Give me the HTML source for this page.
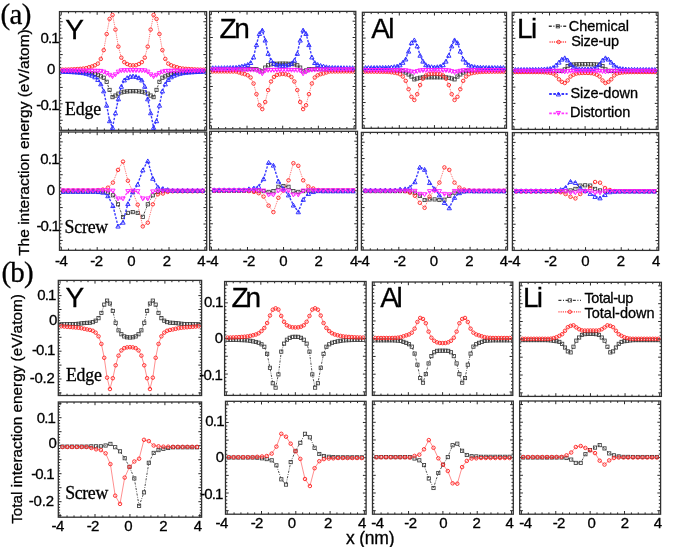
<!DOCTYPE html>
<html><head><meta charset="utf-8"><style>
html,body{margin:0;padding:0;background:#fff;}
svg{display:block;filter:blur(0.35px);}
text{fill:#000;stroke:#000;stroke-width:0.3px;}
</style></head><body>
<svg width="685" height="547" viewBox="0 0 685 547">
<rect width="685" height="547" fill="#fff"/>
<path d="M61.29,130.30v-3.2M61.29,11.60v3.2M68.47,130.30v-1.8M68.47,11.60v1.8M75.65,130.30v-1.8M75.65,11.60v1.8M82.82,130.30v-1.8M82.82,11.60v1.8M90.00,130.30v-1.8M90.00,11.60v1.8M97.17,130.30v-3.2M97.17,11.60v3.2M104.35,130.30v-1.8M104.35,11.60v1.8M111.52,130.30v-1.8M111.52,11.60v1.8M118.70,130.30v-1.8M118.70,11.60v1.8M125.87,130.30v-1.8M125.87,11.60v1.8M133.05,130.30v-3.2M133.05,11.60v3.2M140.23,130.30v-1.8M140.23,11.60v1.8M147.40,130.30v-1.8M147.40,11.60v1.8M154.58,130.30v-1.8M154.58,11.60v1.8M161.75,130.30v-1.8M161.75,11.60v1.8M168.93,130.30v-3.2M168.93,11.60v3.2M176.10,130.30v-1.8M176.10,11.60v1.8M183.28,130.30v-1.8M183.28,11.60v1.8M190.45,130.30v-1.8M190.45,11.60v1.8M197.63,130.30v-1.8M197.63,11.60v1.8M204.81,130.30v-3.2M204.81,11.60v3.2M59.50,126.84h1.8M206.60,126.84h-1.8M59.50,123.56h1.8M206.60,123.56h-1.8M59.50,120.28h3.2M206.60,120.28h-3.2M59.50,116.99h1.8M206.60,116.99h-1.8M59.50,113.70h1.8M206.60,113.70h-1.8M59.50,110.42h1.8M206.60,110.42h-1.8M59.50,107.13h1.8M206.60,107.13h-1.8M59.50,103.85h3.2M206.60,103.85h-3.2M59.50,100.56h1.8M206.60,100.56h-1.8M59.50,97.28h1.8M206.60,97.28h-1.8M59.50,94.00h1.8M206.60,94.00h-1.8M59.50,90.71h1.8M206.60,90.71h-1.8M59.50,87.42h3.2M206.60,87.42h-3.2M59.50,84.14h1.8M206.60,84.14h-1.8M59.50,80.86h1.8M206.60,80.86h-1.8M59.50,77.57h1.8M206.60,77.57h-1.8M59.50,74.28h1.8M206.60,74.28h-1.8M59.50,71.00h3.2M206.60,71.00h-3.2M59.50,67.72h1.8M206.60,67.72h-1.8M59.50,64.43h1.8M206.60,64.43h-1.8M59.50,61.14h1.8M206.60,61.14h-1.8M59.50,57.86h1.8M206.60,57.86h-1.8M59.50,54.58h3.2M206.60,54.58h-3.2M59.50,51.29h1.8M206.60,51.29h-1.8M59.50,48.00h1.8M206.60,48.00h-1.8M59.50,44.72h1.8M206.60,44.72h-1.8M59.50,41.44h1.8M206.60,41.44h-1.8M59.50,38.15h3.2M206.60,38.15h-3.2M59.50,34.87h1.8M206.60,34.87h-1.8M59.50,31.58h1.8M206.60,31.58h-1.8M59.50,28.30h1.8M206.60,28.30h-1.8M59.50,25.01h1.8M206.60,25.01h-1.8M59.50,21.73h3.2M206.60,21.73h-3.2M59.50,18.44h1.8M206.60,18.44h-1.8M59.50,15.15h1.8M206.60,15.15h-1.8" stroke="#111" stroke-width="0.9" fill="none"/>
<rect x="59.50" y="11.60" width="147.10" height="118.70" fill="none" stroke="#303030" stroke-width="1.3"/>
<path d="M211.38,128.90v-3.2M211.38,11.40v3.2M218.51,128.90v-1.8M218.51,11.40v1.8M225.65,128.90v-1.8M225.65,11.40v1.8M232.78,128.90v-1.8M232.78,11.40v1.8M239.91,128.90v-1.8M239.91,11.40v1.8M247.04,128.90v-3.2M247.04,11.40v3.2M254.17,128.90v-1.8M254.17,11.40v1.8M261.30,128.90v-1.8M261.30,11.40v1.8M268.44,128.90v-1.8M268.44,11.40v1.8M275.57,128.90v-1.8M275.57,11.40v1.8M282.70,128.90v-3.2M282.70,11.40v3.2M289.83,128.90v-1.8M289.83,11.40v1.8M296.96,128.90v-1.8M296.96,11.40v1.8M304.10,128.90v-1.8M304.10,11.40v1.8M311.23,128.90v-1.8M311.23,11.40v1.8M318.36,128.90v-3.2M318.36,11.40v3.2M325.49,128.90v-1.8M325.49,11.40v1.8M332.62,128.90v-1.8M332.62,11.40v1.8M339.75,128.90v-1.8M339.75,11.40v1.8M346.89,128.90v-1.8M346.89,11.40v1.8M354.02,128.90v-3.2M354.02,11.40v3.2M209.60,125.64h1.8M355.80,125.64h-1.8M209.60,122.37h1.8M355.80,122.37h-1.8M209.60,119.11h3.2M355.80,119.11h-3.2M209.60,115.85h1.8M355.80,115.85h-1.8M209.60,112.58h1.8M355.80,112.58h-1.8M209.60,109.32h1.8M355.80,109.32h-1.8M209.60,106.05h1.8M355.80,106.05h-1.8M209.60,102.79h3.2M355.80,102.79h-3.2M209.60,99.53h1.8M355.80,99.53h-1.8M209.60,96.26h1.8M355.80,96.26h-1.8M209.60,93.00h1.8M355.80,93.00h-1.8M209.60,89.73h1.8M355.80,89.73h-1.8M209.60,86.47h3.2M355.80,86.47h-3.2M209.60,83.21h1.8M355.80,83.21h-1.8M209.60,79.94h1.8M355.80,79.94h-1.8M209.60,76.68h1.8M355.80,76.68h-1.8M209.60,73.41h1.8M355.80,73.41h-1.8M209.60,70.15h3.2M355.80,70.15h-3.2M209.60,66.89h1.8M355.80,66.89h-1.8M209.60,63.62h1.8M355.80,63.62h-1.8M209.60,60.36h1.8M355.80,60.36h-1.8M209.60,57.09h1.8M355.80,57.09h-1.8M209.60,53.83h3.2M355.80,53.83h-3.2M209.60,50.57h1.8M355.80,50.57h-1.8M209.60,47.30h1.8M355.80,47.30h-1.8M209.60,44.04h1.8M355.80,44.04h-1.8M209.60,40.77h1.8M355.80,40.77h-1.8M209.60,37.51h3.2M355.80,37.51h-3.2M209.60,34.25h1.8M355.80,34.25h-1.8M209.60,30.98h1.8M355.80,30.98h-1.8M209.60,27.72h1.8M355.80,27.72h-1.8M209.60,24.45h1.8M355.80,24.45h-1.8M209.60,21.19h3.2M355.80,21.19h-3.2M209.60,17.93h1.8M355.80,17.93h-1.8M209.60,14.66h1.8M355.80,14.66h-1.8" stroke="#111" stroke-width="0.9" fill="none"/>
<rect x="209.60" y="11.40" width="146.20" height="117.50" fill="none" stroke="#303030" stroke-width="1.3"/>
<path d="M364.16,128.30v-3.2M364.16,12.30v3.2M371.19,128.30v-1.8M371.19,12.30v1.8M378.22,128.30v-1.8M378.22,12.30v1.8M385.25,128.30v-1.8M385.25,12.30v1.8M392.27,128.30v-1.8M392.27,12.30v1.8M399.30,128.30v-3.2M399.30,12.30v3.2M406.33,128.30v-1.8M406.33,12.30v1.8M413.36,128.30v-1.8M413.36,12.30v1.8M420.39,128.30v-1.8M420.39,12.30v1.8M427.42,128.30v-1.8M427.42,12.30v1.8M434.45,128.30v-3.2M434.45,12.30v3.2M441.48,128.30v-1.8M441.48,12.30v1.8M448.51,128.30v-1.8M448.51,12.30v1.8M455.54,128.30v-1.8M455.54,12.30v1.8M462.57,128.30v-1.8M462.57,12.30v1.8M469.60,128.30v-3.2M469.60,12.30v3.2M476.63,128.30v-1.8M476.63,12.30v1.8M483.65,128.30v-1.8M483.65,12.30v1.8M490.68,128.30v-1.8M490.68,12.30v1.8M497.71,128.30v-1.8M497.71,12.30v1.8M504.74,128.30v-3.2M504.74,12.30v3.2M362.40,125.07h1.8M506.50,125.07h-1.8M362.40,121.85h1.8M506.50,121.85h-1.8M362.40,118.63h3.2M506.50,118.63h-3.2M362.40,115.41h1.8M506.50,115.41h-1.8M362.40,112.19h1.8M506.50,112.19h-1.8M362.40,108.96h1.8M506.50,108.96h-1.8M362.40,105.74h1.8M506.50,105.74h-1.8M362.40,102.52h3.2M506.50,102.52h-3.2M362.40,99.30h1.8M506.50,99.30h-1.8M362.40,96.08h1.8M506.50,96.08h-1.8M362.40,92.85h1.8M506.50,92.85h-1.8M362.40,89.63h1.8M506.50,89.63h-1.8M362.40,86.41h3.2M506.50,86.41h-3.2M362.40,83.19h1.8M506.50,83.19h-1.8M362.40,79.97h1.8M506.50,79.97h-1.8M362.40,76.74h1.8M506.50,76.74h-1.8M362.40,73.52h1.8M506.50,73.52h-1.8M362.40,70.30h3.2M506.50,70.30h-3.2M362.40,67.08h1.8M506.50,67.08h-1.8M362.40,63.86h1.8M506.50,63.86h-1.8M362.40,60.63h1.8M506.50,60.63h-1.8M362.40,57.41h1.8M506.50,57.41h-1.8M362.40,54.19h3.2M506.50,54.19h-3.2M362.40,50.97h1.8M506.50,50.97h-1.8M362.40,47.75h1.8M506.50,47.75h-1.8M362.40,44.52h1.8M506.50,44.52h-1.8M362.40,41.30h1.8M506.50,41.30h-1.8M362.40,38.08h3.2M506.50,38.08h-3.2M362.40,34.86h1.8M506.50,34.86h-1.8M362.40,31.64h1.8M506.50,31.64h-1.8M362.40,28.41h1.8M506.50,28.41h-1.8M362.40,25.19h1.8M506.50,25.19h-1.8M362.40,21.97h3.2M506.50,21.97h-3.2M362.40,18.75h1.8M506.50,18.75h-1.8M362.40,15.53h1.8M506.50,15.53h-1.8" stroke="#111" stroke-width="0.9" fill="none"/>
<rect x="362.40" y="12.30" width="144.10" height="116.00" fill="none" stroke="#303030" stroke-width="1.3"/>
<path d="M513.98,129.40v-3.2M513.98,12.30v3.2M521.09,129.40v-1.8M521.09,12.30v1.8M528.20,129.40v-1.8M528.20,12.30v1.8M535.31,129.40v-1.8M535.31,12.30v1.8M542.43,129.40v-1.8M542.43,12.30v1.8M549.54,129.40v-3.2M549.54,12.30v3.2M556.65,129.40v-1.8M556.65,12.30v1.8M563.76,129.40v-1.8M563.76,12.30v1.8M570.88,129.40v-1.8M570.88,12.30v1.8M577.99,129.40v-1.8M577.99,12.30v1.8M585.10,129.40v-3.2M585.10,12.30v3.2M592.21,129.40v-1.8M592.21,12.30v1.8M599.32,129.40v-1.8M599.32,12.30v1.8M606.44,129.40v-1.8M606.44,12.30v1.8M613.55,129.40v-1.8M613.55,12.30v1.8M620.66,129.40v-3.2M620.66,12.30v3.2M627.77,129.40v-1.8M627.77,12.30v1.8M634.89,129.40v-1.8M634.89,12.30v1.8M642.00,129.40v-1.8M642.00,12.30v1.8M649.11,129.40v-1.8M649.11,12.30v1.8M656.22,129.40v-3.2M656.22,12.30v3.2M512.20,126.15h1.8M658.00,126.15h-1.8M512.20,122.90h1.8M658.00,122.90h-1.8M512.20,119.64h3.2M658.00,119.64h-3.2M512.20,116.39h1.8M658.00,116.39h-1.8M512.20,113.14h1.8M658.00,113.14h-1.8M512.20,109.89h1.8M658.00,109.89h-1.8M512.20,106.63h1.8M658.00,106.63h-1.8M512.20,103.38h3.2M658.00,103.38h-3.2M512.20,100.13h1.8M658.00,100.13h-1.8M512.20,96.87h1.8M658.00,96.87h-1.8M512.20,93.62h1.8M658.00,93.62h-1.8M512.20,90.37h1.8M658.00,90.37h-1.8M512.20,87.11h3.2M658.00,87.11h-3.2M512.20,83.86h1.8M658.00,83.86h-1.8M512.20,80.61h1.8M658.00,80.61h-1.8M512.20,77.36h1.8M658.00,77.36h-1.8M512.20,74.10h1.8M658.00,74.10h-1.8M512.20,70.85h3.2M658.00,70.85h-3.2M512.20,67.60h1.8M658.00,67.60h-1.8M512.20,64.34h1.8M658.00,64.34h-1.8M512.20,61.09h1.8M658.00,61.09h-1.8M512.20,57.84h1.8M658.00,57.84h-1.8M512.20,54.58h3.2M658.00,54.58h-3.2M512.20,51.33h1.8M658.00,51.33h-1.8M512.20,48.08h1.8M658.00,48.08h-1.8M512.20,44.83h1.8M658.00,44.83h-1.8M512.20,41.57h1.8M658.00,41.57h-1.8M512.20,38.32h3.2M658.00,38.32h-3.2M512.20,35.07h1.8M658.00,35.07h-1.8M512.20,31.81h1.8M658.00,31.81h-1.8M512.20,28.56h1.8M658.00,28.56h-1.8M512.20,25.31h1.8M658.00,25.31h-1.8M512.20,22.05h3.2M658.00,22.05h-3.2M512.20,18.80h1.8M658.00,18.80h-1.8M512.20,15.55h1.8M658.00,15.55h-1.8" stroke="#111" stroke-width="0.9" fill="none"/>
<rect x="512.20" y="12.30" width="145.80" height="117.10" fill="none" stroke="#303030" stroke-width="1.3"/>
<path d="M61.30,250.30v-3.2M61.30,132.00v3.2M68.48,250.30v-1.8M68.48,132.00v1.8M75.66,250.30v-1.8M75.66,132.00v1.8M82.84,250.30v-1.8M82.84,132.00v1.8M90.02,250.30v-1.8M90.02,132.00v1.8M97.20,250.30v-3.2M97.20,132.00v3.2M104.38,250.30v-1.8M104.38,132.00v1.8M111.56,250.30v-1.8M111.56,132.00v1.8M118.74,250.30v-1.8M118.74,132.00v1.8M125.92,250.30v-1.8M125.92,132.00v1.8M133.10,250.30v-3.2M133.10,132.00v3.2M140.28,250.30v-1.8M140.28,132.00v1.8M147.46,250.30v-1.8M147.46,132.00v1.8M154.64,250.30v-1.8M154.64,132.00v1.8M161.82,250.30v-1.8M161.82,132.00v1.8M169.00,250.30v-3.2M169.00,132.00v3.2M176.18,250.30v-1.8M176.18,132.00v1.8M183.36,250.30v-1.8M183.36,132.00v1.8M190.54,250.30v-1.8M190.54,132.00v1.8M197.72,250.30v-1.8M197.72,132.00v1.8M204.90,250.30v-3.2M204.90,132.00v3.2M59.50,247.01h1.8M206.70,247.01h-1.8M59.50,243.73h1.8M206.70,243.73h-1.8M59.50,240.44h3.2M206.70,240.44h-3.2M59.50,237.15h1.8M206.70,237.15h-1.8M59.50,233.87h1.8M206.70,233.87h-1.8M59.50,230.58h1.8M206.70,230.58h-1.8M59.50,227.30h1.8M206.70,227.30h-1.8M59.50,224.01h3.2M206.70,224.01h-3.2M59.50,220.72h1.8M206.70,220.72h-1.8M59.50,217.44h1.8M206.70,217.44h-1.8M59.50,214.15h1.8M206.70,214.15h-1.8M59.50,210.87h1.8M206.70,210.87h-1.8M59.50,207.58h3.2M206.70,207.58h-3.2M59.50,204.29h1.8M206.70,204.29h-1.8M59.50,201.01h1.8M206.70,201.01h-1.8M59.50,197.72h1.8M206.70,197.72h-1.8M59.50,194.44h1.8M206.70,194.44h-1.8M59.50,191.15h3.2M206.70,191.15h-3.2M59.50,187.86h1.8M206.70,187.86h-1.8M59.50,184.58h1.8M206.70,184.58h-1.8M59.50,181.29h1.8M206.70,181.29h-1.8M59.50,178.01h1.8M206.70,178.01h-1.8M59.50,174.72h3.2M206.70,174.72h-3.2M59.50,171.43h1.8M206.70,171.43h-1.8M59.50,168.15h1.8M206.70,168.15h-1.8M59.50,164.86h1.8M206.70,164.86h-1.8M59.50,161.58h1.8M206.70,161.58h-1.8M59.50,158.29h3.2M206.70,158.29h-3.2M59.50,155.00h1.8M206.70,155.00h-1.8M59.50,151.72h1.8M206.70,151.72h-1.8M59.50,148.43h1.8M206.70,148.43h-1.8M59.50,145.15h1.8M206.70,145.15h-1.8M59.50,141.86h3.2M206.70,141.86h-3.2M59.50,138.57h1.8M206.70,138.57h-1.8M59.50,135.29h1.8M206.70,135.29h-1.8" stroke="#111" stroke-width="0.9" fill="none"/>
<rect x="59.50" y="132.00" width="147.20" height="118.30" fill="none" stroke="#303030" stroke-width="1.3"/>
<path d="M211.40,250.20v-3.2M211.40,131.30v3.2M218.62,250.20v-1.8M218.62,131.30v1.8M225.83,250.20v-1.8M225.83,131.30v1.8M233.05,250.20v-1.8M233.05,131.30v1.8M240.26,250.20v-1.8M240.26,131.30v1.8M247.48,250.20v-3.2M247.48,131.30v3.2M254.69,250.20v-1.8M254.69,131.30v1.8M261.91,250.20v-1.8M261.91,131.30v1.8M269.12,250.20v-1.8M269.12,131.30v1.8M276.34,250.20v-1.8M276.34,131.30v1.8M283.55,250.20v-3.2M283.55,131.30v3.2M290.76,250.20v-1.8M290.76,131.30v1.8M297.98,250.20v-1.8M297.98,131.30v1.8M305.19,250.20v-1.8M305.19,131.30v1.8M312.41,250.20v-1.8M312.41,131.30v1.8M319.62,250.20v-3.2M319.62,131.30v3.2M326.84,250.20v-1.8M326.84,131.30v1.8M334.05,250.20v-1.8M334.05,131.30v1.8M341.27,250.20v-1.8M341.27,131.30v1.8M348.48,250.20v-1.8M348.48,131.30v1.8M355.70,250.20v-3.2M355.70,131.30v3.2M209.60,246.90h1.8M357.50,246.90h-1.8M209.60,243.60h1.8M357.50,243.60h-1.8M209.60,240.30h3.2M357.50,240.30h-3.2M209.60,236.99h1.8M357.50,236.99h-1.8M209.60,233.69h1.8M357.50,233.69h-1.8M209.60,230.39h1.8M357.50,230.39h-1.8M209.60,227.08h1.8M357.50,227.08h-1.8M209.60,223.78h3.2M357.50,223.78h-3.2M209.60,220.48h1.8M357.50,220.48h-1.8M209.60,217.17h1.8M357.50,217.17h-1.8M209.60,213.87h1.8M357.50,213.87h-1.8M209.60,210.57h1.8M357.50,210.57h-1.8M209.60,207.26h3.2M357.50,207.26h-3.2M209.60,203.96h1.8M357.50,203.96h-1.8M209.60,200.66h1.8M357.50,200.66h-1.8M209.60,197.36h1.8M357.50,197.36h-1.8M209.60,194.05h1.8M357.50,194.05h-1.8M209.60,190.75h3.2M357.50,190.75h-3.2M209.60,187.45h1.8M357.50,187.45h-1.8M209.60,184.14h1.8M357.50,184.14h-1.8M209.60,180.84h1.8M357.50,180.84h-1.8M209.60,177.54h1.8M357.50,177.54h-1.8M209.60,174.24h3.2M357.50,174.24h-3.2M209.60,170.93h1.8M357.50,170.93h-1.8M209.60,167.63h1.8M357.50,167.63h-1.8M209.60,164.33h1.8M357.50,164.33h-1.8M209.60,161.02h1.8M357.50,161.02h-1.8M209.60,157.72h3.2M357.50,157.72h-3.2M209.60,154.42h1.8M357.50,154.42h-1.8M209.60,151.11h1.8M357.50,151.11h-1.8M209.60,147.81h1.8M357.50,147.81h-1.8M209.60,144.51h1.8M357.50,144.51h-1.8M209.60,141.20h3.2M357.50,141.20h-3.2M209.60,137.90h1.8M357.50,137.90h-1.8M209.60,134.60h1.8M357.50,134.60h-1.8" stroke="#111" stroke-width="0.9" fill="none"/>
<rect x="209.60" y="131.30" width="147.90" height="118.90" fill="none" stroke="#303030" stroke-width="1.3"/>
<path d="M363.18,250.10v-3.2M363.18,132.40v3.2M370.31,250.10v-1.8M370.31,132.40v1.8M377.44,250.10v-1.8M377.44,132.40v1.8M384.56,250.10v-1.8M384.56,132.40v1.8M391.69,250.10v-1.8M391.69,132.40v1.8M398.82,250.10v-3.2M398.82,132.40v3.2M405.94,250.10v-1.8M405.94,132.40v1.8M413.07,250.10v-1.8M413.07,132.40v1.8M420.20,250.10v-1.8M420.20,132.40v1.8M427.32,250.10v-1.8M427.32,132.40v1.8M434.45,250.10v-3.2M434.45,132.40v3.2M441.58,250.10v-1.8M441.58,132.40v1.8M448.70,250.10v-1.8M448.70,132.40v1.8M455.83,250.10v-1.8M455.83,132.40v1.8M462.96,250.10v-1.8M462.96,132.40v1.8M470.08,250.10v-3.2M470.08,132.40v3.2M477.21,250.10v-1.8M477.21,132.40v1.8M484.34,250.10v-1.8M484.34,132.40v1.8M491.46,250.10v-1.8M491.46,132.40v1.8M498.59,250.10v-1.8M498.59,132.40v1.8M505.72,250.10v-3.2M505.72,132.40v3.2M361.40,246.82h1.8M507.50,246.82h-1.8M361.40,243.55h1.8M507.50,243.55h-1.8M361.40,240.28h3.2M507.50,240.28h-3.2M361.40,237.02h1.8M507.50,237.02h-1.8M361.40,233.75h1.8M507.50,233.75h-1.8M361.40,230.48h1.8M507.50,230.48h-1.8M361.40,227.21h1.8M507.50,227.21h-1.8M361.40,223.94h3.2M507.50,223.94h-3.2M361.40,220.67h1.8M507.50,220.67h-1.8M361.40,217.40h1.8M507.50,217.40h-1.8M361.40,214.13h1.8M507.50,214.13h-1.8M361.40,210.86h1.8M507.50,210.86h-1.8M361.40,207.59h3.2M507.50,207.59h-3.2M361.40,204.33h1.8M507.50,204.33h-1.8M361.40,201.06h1.8M507.50,201.06h-1.8M361.40,197.79h1.8M507.50,197.79h-1.8M361.40,194.52h1.8M507.50,194.52h-1.8M361.40,191.25h3.2M507.50,191.25h-3.2M361.40,187.98h1.8M507.50,187.98h-1.8M361.40,184.71h1.8M507.50,184.71h-1.8M361.40,181.44h1.8M507.50,181.44h-1.8M361.40,178.17h1.8M507.50,178.17h-1.8M361.40,174.91h3.2M507.50,174.91h-3.2M361.40,171.64h1.8M507.50,171.64h-1.8M361.40,168.37h1.8M507.50,168.37h-1.8M361.40,165.10h1.8M507.50,165.10h-1.8M361.40,161.83h1.8M507.50,161.83h-1.8M361.40,158.56h3.2M507.50,158.56h-3.2M361.40,155.29h1.8M507.50,155.29h-1.8M361.40,152.02h1.8M507.50,152.02h-1.8M361.40,148.75h1.8M507.50,148.75h-1.8M361.40,145.48h1.8M507.50,145.48h-1.8M361.40,142.22h3.2M507.50,142.22h-3.2M361.40,138.95h1.8M507.50,138.95h-1.8M361.40,135.68h1.8M507.50,135.68h-1.8" stroke="#111" stroke-width="0.9" fill="none"/>
<rect x="361.40" y="132.40" width="146.10" height="117.70" fill="none" stroke="#303030" stroke-width="1.3"/>
<path d="M514.18,250.40v-3.2M514.18,132.60v3.2M521.32,250.40v-1.8M521.32,132.60v1.8M528.46,250.40v-1.8M528.46,132.60v1.8M535.59,250.40v-1.8M535.59,132.60v1.8M542.73,250.40v-1.8M542.73,132.60v1.8M549.87,250.40v-3.2M549.87,132.60v3.2M557.00,250.40v-1.8M557.00,132.60v1.8M564.14,250.40v-1.8M564.14,132.60v1.8M571.28,250.40v-1.8M571.28,132.60v1.8M578.41,250.40v-1.8M578.41,132.60v1.8M585.55,250.40v-3.2M585.55,132.60v3.2M592.69,250.40v-1.8M592.69,132.60v1.8M599.82,250.40v-1.8M599.82,132.60v1.8M606.96,250.40v-1.8M606.96,132.60v1.8M614.10,250.40v-1.8M614.10,132.60v1.8M621.23,250.40v-3.2M621.23,132.60v3.2M628.37,250.40v-1.8M628.37,132.60v1.8M635.51,250.40v-1.8M635.51,132.60v1.8M642.64,250.40v-1.8M642.64,132.60v1.8M649.78,250.40v-1.8M649.78,132.60v1.8M656.92,250.40v-3.2M656.92,132.60v3.2M512.40,247.12h1.8M658.70,247.12h-1.8M512.40,243.85h1.8M658.70,243.85h-1.8M512.40,240.58h3.2M658.70,240.58h-3.2M512.40,237.31h1.8M658.70,237.31h-1.8M512.40,234.04h1.8M658.70,234.04h-1.8M512.40,230.76h1.8M658.70,230.76h-1.8M512.40,227.49h1.8M658.70,227.49h-1.8M512.40,224.22h3.2M658.70,224.22h-3.2M512.40,220.95h1.8M658.70,220.95h-1.8M512.40,217.68h1.8M658.70,217.68h-1.8M512.40,214.40h1.8M658.70,214.40h-1.8M512.40,211.13h1.8M658.70,211.13h-1.8M512.40,207.86h3.2M658.70,207.86h-3.2M512.40,204.59h1.8M658.70,204.59h-1.8M512.40,201.32h1.8M658.70,201.32h-1.8M512.40,198.04h1.8M658.70,198.04h-1.8M512.40,194.77h1.8M658.70,194.77h-1.8M512.40,191.50h3.2M658.70,191.50h-3.2M512.40,188.23h1.8M658.70,188.23h-1.8M512.40,184.96h1.8M658.70,184.96h-1.8M512.40,181.68h1.8M658.70,181.68h-1.8M512.40,178.41h1.8M658.70,178.41h-1.8M512.40,175.14h3.2M658.70,175.14h-3.2M512.40,171.87h1.8M658.70,171.87h-1.8M512.40,168.60h1.8M658.70,168.60h-1.8M512.40,165.32h1.8M658.70,165.32h-1.8M512.40,162.05h1.8M658.70,162.05h-1.8M512.40,158.78h3.2M658.70,158.78h-3.2M512.40,155.51h1.8M658.70,155.51h-1.8M512.40,152.24h1.8M658.70,152.24h-1.8M512.40,148.96h1.8M658.70,148.96h-1.8M512.40,145.69h1.8M658.70,145.69h-1.8M512.40,142.42h3.2M658.70,142.42h-3.2M512.40,139.15h1.8M658.70,139.15h-1.8M512.40,135.88h1.8M658.70,135.88h-1.8" stroke="#111" stroke-width="0.9" fill="none"/>
<rect x="512.40" y="132.60" width="146.30" height="117.80" fill="none" stroke="#303030" stroke-width="1.3"/>
<path d="M60.05,395.50v-3.2M60.05,280.40v3.2M67.04,395.50v-1.8M67.04,280.40v1.8M74.03,395.50v-1.8M74.03,280.40v1.8M81.02,395.50v-1.8M81.02,280.40v1.8M88.01,395.50v-1.8M88.01,280.40v1.8M95.00,395.50v-3.2M95.00,280.40v3.2M101.99,395.50v-1.8M101.99,280.40v1.8M108.98,395.50v-1.8M108.98,280.40v1.8M115.97,395.50v-1.8M115.97,280.40v1.8M122.96,395.50v-1.8M122.96,280.40v1.8M129.95,395.50v-3.2M129.95,280.40v3.2M136.94,395.50v-1.8M136.94,280.40v1.8M143.93,395.50v-1.8M143.93,280.40v1.8M150.92,395.50v-1.8M150.92,280.40v1.8M157.91,395.50v-1.8M157.91,280.40v1.8M164.90,395.50v-3.2M164.90,280.40v3.2M171.89,395.50v-1.8M171.89,280.40v1.8M178.88,395.50v-1.8M178.88,280.40v1.8M185.87,395.50v-1.8M185.87,280.40v1.8M192.86,395.50v-1.8M192.86,280.40v1.8M199.85,395.50v-3.2M199.85,280.40v3.2M58.30,392.90h3.2M201.60,392.90h-3.2M58.30,390.12h1.8M201.60,390.12h-1.8M58.30,387.34h1.8M201.60,387.34h-1.8M58.30,384.56h1.8M201.60,384.56h-1.8M58.30,381.78h1.8M201.60,381.78h-1.8M58.30,379.00h3.2M201.60,379.00h-3.2M58.30,376.22h1.8M201.60,376.22h-1.8M58.30,373.44h1.8M201.60,373.44h-1.8M58.30,370.66h1.8M201.60,370.66h-1.8M58.30,367.88h1.8M201.60,367.88h-1.8M58.30,365.10h3.2M201.60,365.10h-3.2M58.30,362.32h1.8M201.60,362.32h-1.8M58.30,359.54h1.8M201.60,359.54h-1.8M58.30,356.76h1.8M201.60,356.76h-1.8M58.30,353.98h1.8M201.60,353.98h-1.8M58.30,351.20h3.2M201.60,351.20h-3.2M58.30,348.42h1.8M201.60,348.42h-1.8M58.30,345.64h1.8M201.60,345.64h-1.8M58.30,342.86h1.8M201.60,342.86h-1.8M58.30,340.08h1.8M201.60,340.08h-1.8M58.30,337.30h3.2M201.60,337.30h-3.2M58.30,334.52h1.8M201.60,334.52h-1.8M58.30,331.74h1.8M201.60,331.74h-1.8M58.30,328.96h1.8M201.60,328.96h-1.8M58.30,326.18h1.8M201.60,326.18h-1.8M58.30,323.40h3.2M201.60,323.40h-3.2M58.30,320.62h1.8M201.60,320.62h-1.8M58.30,317.84h1.8M201.60,317.84h-1.8M58.30,315.06h1.8M201.60,315.06h-1.8M58.30,312.28h1.8M201.60,312.28h-1.8M58.30,309.50h3.2M201.60,309.50h-3.2M58.30,306.72h1.8M201.60,306.72h-1.8M58.30,303.94h1.8M201.60,303.94h-1.8M58.30,301.16h1.8M201.60,301.16h-1.8M58.30,298.38h1.8M201.60,298.38h-1.8M58.30,295.60h3.2M201.60,295.60h-3.2M58.30,292.82h1.8M201.60,292.82h-1.8M58.30,290.04h1.8M201.60,290.04h-1.8M58.30,287.26h1.8M201.60,287.26h-1.8M58.30,284.48h1.8M201.60,284.48h-1.8" stroke="#111" stroke-width="0.9" fill="none"/>
<rect x="58.30" y="280.40" width="143.30" height="115.10" fill="none" stroke="#303030" stroke-width="1.3"/>
<path d="M226.33,395.40v-3.2M226.33,281.50v3.2M233.23,395.40v-1.8M233.23,281.50v1.8M240.13,395.40v-1.8M240.13,281.50v1.8M247.03,395.40v-1.8M247.03,281.50v1.8M253.94,395.40v-1.8M253.94,281.50v1.8M260.84,395.40v-3.2M260.84,281.50v3.2M267.74,395.40v-1.8M267.74,281.50v1.8M274.64,395.40v-1.8M274.64,281.50v1.8M281.55,395.40v-1.8M281.55,281.50v1.8M288.45,395.40v-1.8M288.45,281.50v1.8M295.35,395.40v-3.2M295.35,281.50v3.2M302.25,395.40v-1.8M302.25,281.50v1.8M309.15,395.40v-1.8M309.15,281.50v1.8M316.06,395.40v-1.8M316.06,281.50v1.8M322.96,395.40v-1.8M322.96,281.50v1.8M329.86,395.40v-3.2M329.86,281.50v3.2M336.76,395.40v-1.8M336.76,281.50v1.8M343.67,395.40v-1.8M343.67,281.50v1.8M350.57,395.40v-1.8M350.57,281.50v1.8M357.47,395.40v-1.8M357.47,281.50v1.8M364.37,395.40v-3.2M364.37,281.50v3.2M224.60,391.85h3.2M366.10,391.85h-3.2M224.60,388.29h1.8M366.10,388.29h-1.8M224.60,384.73h1.8M366.10,384.73h-1.8M224.60,381.17h1.8M366.10,381.17h-1.8M224.60,377.61h1.8M366.10,377.61h-1.8M224.60,374.05h3.2M366.10,374.05h-3.2M224.60,370.49h1.8M366.10,370.49h-1.8M224.60,366.93h1.8M366.10,366.93h-1.8M224.60,363.37h1.8M366.10,363.37h-1.8M224.60,359.81h1.8M366.10,359.81h-1.8M224.60,356.25h3.2M366.10,356.25h-3.2M224.60,352.69h1.8M366.10,352.69h-1.8M224.60,349.13h1.8M366.10,349.13h-1.8M224.60,345.57h1.8M366.10,345.57h-1.8M224.60,342.01h1.8M366.10,342.01h-1.8M224.60,338.45h3.2M366.10,338.45h-3.2M224.60,334.89h1.8M366.10,334.89h-1.8M224.60,331.33h1.8M366.10,331.33h-1.8M224.60,327.77h1.8M366.10,327.77h-1.8M224.60,324.21h1.8M366.10,324.21h-1.8M224.60,320.65h3.2M366.10,320.65h-3.2M224.60,317.09h1.8M366.10,317.09h-1.8M224.60,313.53h1.8M366.10,313.53h-1.8M224.60,309.97h1.8M366.10,309.97h-1.8M224.60,306.41h1.8M366.10,306.41h-1.8M224.60,302.85h3.2M366.10,302.85h-3.2M224.60,299.29h1.8M366.10,299.29h-1.8M224.60,295.73h1.8M366.10,295.73h-1.8M224.60,292.17h1.8M366.10,292.17h-1.8M224.60,288.61h1.8M366.10,288.61h-1.8M224.60,285.05h3.2M366.10,285.05h-3.2" stroke="#111" stroke-width="0.9" fill="none"/>
<rect x="224.60" y="281.50" width="141.50" height="113.90" fill="none" stroke="#303030" stroke-width="1.3"/>
<path d="M374.11,395.40v-3.2M374.11,282.00v3.2M380.96,395.40v-1.8M380.96,282.00v1.8M387.81,395.40v-1.8M387.81,282.00v1.8M394.66,395.40v-1.8M394.66,282.00v1.8M401.51,395.40v-1.8M401.51,282.00v1.8M408.36,395.40v-3.2M408.36,282.00v3.2M415.20,395.40v-1.8M415.20,282.00v1.8M422.05,395.40v-1.8M422.05,282.00v1.8M428.90,395.40v-1.8M428.90,282.00v1.8M435.75,395.40v-1.8M435.75,282.00v1.8M442.60,395.40v-3.2M442.60,282.00v3.2M449.45,395.40v-1.8M449.45,282.00v1.8M456.30,395.40v-1.8M456.30,282.00v1.8M463.15,395.40v-1.8M463.15,282.00v1.8M470.00,395.40v-1.8M470.00,282.00v1.8M476.84,395.40v-3.2M476.84,282.00v3.2M483.69,395.40v-1.8M483.69,282.00v1.8M490.54,395.40v-1.8M490.54,282.00v1.8M497.39,395.40v-1.8M497.39,282.00v1.8M504.24,395.40v-1.8M504.24,282.00v1.8M511.09,395.40v-3.2M511.09,282.00v3.2M372.40,391.95h3.2M512.80,391.95h-3.2M372.40,388.40h1.8M512.80,388.40h-1.8M372.40,384.85h1.8M512.80,384.85h-1.8M372.40,381.30h1.8M512.80,381.30h-1.8M372.40,377.75h1.8M512.80,377.75h-1.8M372.40,374.20h3.2M512.80,374.20h-3.2M372.40,370.65h1.8M512.80,370.65h-1.8M372.40,367.10h1.8M512.80,367.10h-1.8M372.40,363.55h1.8M512.80,363.55h-1.8M372.40,360.00h1.8M512.80,360.00h-1.8M372.40,356.45h3.2M512.80,356.45h-3.2M372.40,352.90h1.8M512.80,352.90h-1.8M372.40,349.35h1.8M512.80,349.35h-1.8M372.40,345.80h1.8M512.80,345.80h-1.8M372.40,342.25h1.8M512.80,342.25h-1.8M372.40,338.70h3.2M512.80,338.70h-3.2M372.40,335.15h1.8M512.80,335.15h-1.8M372.40,331.60h1.8M512.80,331.60h-1.8M372.40,328.05h1.8M512.80,328.05h-1.8M372.40,324.50h1.8M512.80,324.50h-1.8M372.40,320.95h3.2M512.80,320.95h-3.2M372.40,317.40h1.8M512.80,317.40h-1.8M372.40,313.85h1.8M512.80,313.85h-1.8M372.40,310.30h1.8M512.80,310.30h-1.8M372.40,306.75h1.8M512.80,306.75h-1.8M372.40,303.20h3.2M512.80,303.20h-3.2M372.40,299.65h1.8M512.80,299.65h-1.8M372.40,296.10h1.8M512.80,296.10h-1.8M372.40,292.55h1.8M512.80,292.55h-1.8M372.40,289.00h1.8M512.80,289.00h-1.8M372.40,285.45h3.2M512.80,285.45h-3.2" stroke="#111" stroke-width="0.9" fill="none"/>
<rect x="372.40" y="282.00" width="140.40" height="113.40" fill="none" stroke="#303030" stroke-width="1.3"/>
<path d="M521.23,396.40v-3.2M521.23,282.30v3.2M528.15,396.40v-1.8M528.15,282.30v1.8M535.07,396.40v-1.8M535.07,282.30v1.8M542.00,396.40v-1.8M542.00,282.30v1.8M548.92,396.40v-1.8M548.92,282.30v1.8M555.84,396.40v-3.2M555.84,282.30v3.2M562.76,396.40v-1.8M562.76,282.30v1.8M569.68,396.40v-1.8M569.68,282.30v1.8M576.61,396.40v-1.8M576.61,282.30v1.8M583.53,396.40v-1.8M583.53,282.30v1.8M590.45,396.40v-3.2M590.45,282.30v3.2M597.37,396.40v-1.8M597.37,282.30v1.8M604.29,396.40v-1.8M604.29,282.30v1.8M611.22,396.40v-1.8M611.22,282.30v1.8M618.14,396.40v-1.8M618.14,282.30v1.8M625.06,396.40v-3.2M625.06,282.30v3.2M631.98,396.40v-1.8M631.98,282.30v1.8M638.90,396.40v-1.8M638.90,282.30v1.8M645.83,396.40v-1.8M645.83,282.30v1.8M652.75,396.40v-1.8M652.75,282.30v1.8M659.67,396.40v-3.2M659.67,282.30v3.2M519.50,392.84h3.2M661.40,392.84h-3.2M519.50,389.27h1.8M661.40,389.27h-1.8M519.50,385.71h1.8M661.40,385.71h-1.8M519.50,382.14h1.8M661.40,382.14h-1.8M519.50,378.58h1.8M661.40,378.58h-1.8M519.50,375.01h3.2M661.40,375.01h-3.2M519.50,371.44h1.8M661.40,371.44h-1.8M519.50,367.88h1.8M661.40,367.88h-1.8M519.50,364.31h1.8M661.40,364.31h-1.8M519.50,360.75h1.8M661.40,360.75h-1.8M519.50,357.18h3.2M661.40,357.18h-3.2M519.50,353.61h1.8M661.40,353.61h-1.8M519.50,350.05h1.8M661.40,350.05h-1.8M519.50,346.48h1.8M661.40,346.48h-1.8M519.50,342.92h1.8M661.40,342.92h-1.8M519.50,339.35h3.2M661.40,339.35h-3.2M519.50,335.78h1.8M661.40,335.78h-1.8M519.50,332.22h1.8M661.40,332.22h-1.8M519.50,328.65h1.8M661.40,328.65h-1.8M519.50,325.09h1.8M661.40,325.09h-1.8M519.50,321.52h3.2M661.40,321.52h-3.2M519.50,317.95h1.8M661.40,317.95h-1.8M519.50,314.39h1.8M661.40,314.39h-1.8M519.50,310.82h1.8M661.40,310.82h-1.8M519.50,307.26h1.8M661.40,307.26h-1.8M519.50,303.69h3.2M661.40,303.69h-3.2M519.50,300.12h1.8M661.40,300.12h-1.8M519.50,296.56h1.8M661.40,296.56h-1.8M519.50,292.99h1.8M661.40,292.99h-1.8M519.50,289.43h1.8M661.40,289.43h-1.8M519.50,285.86h3.2M661.40,285.86h-3.2" stroke="#111" stroke-width="0.9" fill="none"/>
<rect x="519.50" y="282.30" width="141.90" height="114.10" fill="none" stroke="#303030" stroke-width="1.3"/>
<path d="M60.05,517.20v-3.2M60.05,402.00v3.2M67.04,517.20v-1.8M67.04,402.00v1.8M74.03,517.20v-1.8M74.03,402.00v1.8M81.02,517.20v-1.8M81.02,402.00v1.8M88.01,517.20v-1.8M88.01,402.00v1.8M95.00,517.20v-3.2M95.00,402.00v3.2M101.99,517.20v-1.8M101.99,402.00v1.8M108.98,517.20v-1.8M108.98,402.00v1.8M115.97,517.20v-1.8M115.97,402.00v1.8M122.96,517.20v-1.8M122.96,402.00v1.8M129.95,517.20v-3.2M129.95,402.00v3.2M136.94,517.20v-1.8M136.94,402.00v1.8M143.93,517.20v-1.8M143.93,402.00v1.8M150.92,517.20v-1.8M150.92,402.00v1.8M157.91,517.20v-1.8M157.91,402.00v1.8M164.90,517.20v-3.2M164.90,402.00v3.2M171.89,517.20v-1.8M171.89,402.00v1.8M178.88,517.20v-1.8M178.88,402.00v1.8M185.87,517.20v-1.8M185.87,402.00v1.8M192.86,517.20v-1.8M192.86,402.00v1.8M199.85,517.20v-3.2M199.85,402.00v3.2M58.30,515.70h3.2M201.60,515.70h-3.2M58.30,512.90h1.8M201.60,512.90h-1.8M58.30,510.10h1.8M201.60,510.10h-1.8M58.30,507.30h1.8M201.60,507.30h-1.8M58.30,504.50h1.8M201.60,504.50h-1.8M58.30,501.70h3.2M201.60,501.70h-3.2M58.30,498.90h1.8M201.60,498.90h-1.8M58.30,496.10h1.8M201.60,496.10h-1.8M58.30,493.30h1.8M201.60,493.30h-1.8M58.30,490.50h1.8M201.60,490.50h-1.8M58.30,487.70h3.2M201.60,487.70h-3.2M58.30,484.90h1.8M201.60,484.90h-1.8M58.30,482.10h1.8M201.60,482.10h-1.8M58.30,479.30h1.8M201.60,479.30h-1.8M58.30,476.50h1.8M201.60,476.50h-1.8M58.30,473.70h3.2M201.60,473.70h-3.2M58.30,470.90h1.8M201.60,470.90h-1.8M58.30,468.10h1.8M201.60,468.10h-1.8M58.30,465.30h1.8M201.60,465.30h-1.8M58.30,462.50h1.8M201.60,462.50h-1.8M58.30,459.70h3.2M201.60,459.70h-3.2M58.30,456.90h1.8M201.60,456.90h-1.8M58.30,454.10h1.8M201.60,454.10h-1.8M58.30,451.30h1.8M201.60,451.30h-1.8M58.30,448.50h1.8M201.60,448.50h-1.8M58.30,445.70h3.2M201.60,445.70h-3.2M58.30,442.90h1.8M201.60,442.90h-1.8M58.30,440.10h1.8M201.60,440.10h-1.8M58.30,437.30h1.8M201.60,437.30h-1.8M58.30,434.50h1.8M201.60,434.50h-1.8M58.30,431.70h3.2M201.60,431.70h-3.2M58.30,428.90h1.8M201.60,428.90h-1.8M58.30,426.10h1.8M201.60,426.10h-1.8M58.30,423.30h1.8M201.60,423.30h-1.8M58.30,420.50h1.8M201.60,420.50h-1.8M58.30,417.70h3.2M201.60,417.70h-3.2M58.30,414.90h1.8M201.60,414.90h-1.8M58.30,412.10h1.8M201.60,412.10h-1.8M58.30,409.30h1.8M201.60,409.30h-1.8M58.30,406.50h1.8M201.60,406.50h-1.8M58.30,403.70h3.2M201.60,403.70h-3.2" stroke="#111" stroke-width="0.9" fill="none"/>
<rect x="58.30" y="402.00" width="143.30" height="115.20" fill="none" stroke="#303030" stroke-width="1.3"/>
<path d="M227.21,514.20v-3.2M227.21,401.30v3.2M234.07,514.20v-1.8M234.07,401.30v1.8M240.93,514.20v-1.8M240.93,401.30v1.8M247.79,514.20v-1.8M247.79,401.30v1.8M254.65,514.20v-1.8M254.65,401.30v1.8M261.51,514.20v-3.2M261.51,401.30v3.2M268.37,514.20v-1.8M268.37,401.30v1.8M275.22,514.20v-1.8M275.22,401.30v1.8M282.08,514.20v-1.8M282.08,401.30v1.8M288.94,514.20v-1.8M288.94,401.30v1.8M295.80,514.20v-3.2M295.80,401.30v3.2M302.66,514.20v-1.8M302.66,401.30v1.8M309.52,514.20v-1.8M309.52,401.30v1.8M316.38,514.20v-1.8M316.38,401.30v1.8M323.23,514.20v-1.8M323.23,401.30v1.8M330.09,514.20v-3.2M330.09,401.30v3.2M336.95,514.20v-1.8M336.95,401.30v1.8M343.81,514.20v-1.8M343.81,401.30v1.8M350.67,514.20v-1.8M350.67,401.30v1.8M357.53,514.20v-1.8M357.53,401.30v1.8M364.39,514.20v-3.2M364.39,401.30v3.2M225.50,510.67h3.2M366.10,510.67h-3.2M225.50,507.14h1.8M366.10,507.14h-1.8M225.50,503.61h1.8M366.10,503.61h-1.8M225.50,500.09h1.8M366.10,500.09h-1.8M225.50,496.56h1.8M366.10,496.56h-1.8M225.50,493.03h3.2M366.10,493.03h-3.2M225.50,489.50h1.8M366.10,489.50h-1.8M225.50,485.97h1.8M366.10,485.97h-1.8M225.50,482.45h1.8M366.10,482.45h-1.8M225.50,478.92h1.8M366.10,478.92h-1.8M225.50,475.39h3.2M366.10,475.39h-3.2M225.50,471.86h1.8M366.10,471.86h-1.8M225.50,468.33h1.8M366.10,468.33h-1.8M225.50,464.81h1.8M366.10,464.81h-1.8M225.50,461.28h1.8M366.10,461.28h-1.8M225.50,457.75h3.2M366.10,457.75h-3.2M225.50,454.22h1.8M366.10,454.22h-1.8M225.50,450.69h1.8M366.10,450.69h-1.8M225.50,447.17h1.8M366.10,447.17h-1.8M225.50,443.64h1.8M366.10,443.64h-1.8M225.50,440.11h3.2M366.10,440.11h-3.2M225.50,436.58h1.8M366.10,436.58h-1.8M225.50,433.05h1.8M366.10,433.05h-1.8M225.50,429.53h1.8M366.10,429.53h-1.8M225.50,426.00h1.8M366.10,426.00h-1.8M225.50,422.47h3.2M366.10,422.47h-3.2M225.50,418.94h1.8M366.10,418.94h-1.8M225.50,415.41h1.8M366.10,415.41h-1.8M225.50,411.89h1.8M366.10,411.89h-1.8M225.50,408.36h1.8M366.10,408.36h-1.8M225.50,404.83h3.2M366.10,404.83h-3.2" stroke="#111" stroke-width="0.9" fill="none"/>
<rect x="225.50" y="401.30" width="140.60" height="112.90" fill="none" stroke="#303030" stroke-width="1.3"/>
<path d="M374.22,514.20v-3.2M374.22,401.10v3.2M381.09,514.20v-1.8M381.09,401.10v1.8M387.95,514.20v-1.8M387.95,401.10v1.8M394.82,514.20v-1.8M394.82,401.10v1.8M401.69,514.20v-1.8M401.69,401.10v1.8M408.56,514.20v-3.2M408.56,401.10v3.2M415.43,514.20v-1.8M415.43,401.10v1.8M422.30,514.20v-1.8M422.30,401.10v1.8M429.16,514.20v-1.8M429.16,401.10v1.8M436.03,514.20v-1.8M436.03,401.10v1.8M442.90,514.20v-3.2M442.90,401.10v3.2M449.77,514.20v-1.8M449.77,401.10v1.8M456.64,514.20v-1.8M456.64,401.10v1.8M463.50,514.20v-1.8M463.50,401.10v1.8M470.37,514.20v-1.8M470.37,401.10v1.8M477.24,514.20v-3.2M477.24,401.10v3.2M484.11,514.20v-1.8M484.11,401.10v1.8M490.98,514.20v-1.8M490.98,401.10v1.8M497.85,514.20v-1.8M497.85,401.10v1.8M504.71,514.20v-1.8M504.71,401.10v1.8M511.58,514.20v-3.2M511.58,401.10v3.2M372.50,510.66h3.2M513.30,510.66h-3.2M372.50,507.13h1.8M513.30,507.13h-1.8M372.50,503.59h1.8M513.30,503.59h-1.8M372.50,500.06h1.8M513.30,500.06h-1.8M372.50,496.52h1.8M513.30,496.52h-1.8M372.50,492.99h3.2M513.30,492.99h-3.2M372.50,489.46h1.8M513.30,489.46h-1.8M372.50,485.92h1.8M513.30,485.92h-1.8M372.50,482.39h1.8M513.30,482.39h-1.8M372.50,478.85h1.8M513.30,478.85h-1.8M372.50,475.32h3.2M513.30,475.32h-3.2M372.50,471.79h1.8M513.30,471.79h-1.8M372.50,468.25h1.8M513.30,468.25h-1.8M372.50,464.72h1.8M513.30,464.72h-1.8M372.50,461.18h1.8M513.30,461.18h-1.8M372.50,457.65h3.2M513.30,457.65h-3.2M372.50,454.12h1.8M513.30,454.12h-1.8M372.50,450.58h1.8M513.30,450.58h-1.8M372.50,447.05h1.8M513.30,447.05h-1.8M372.50,443.51h1.8M513.30,443.51h-1.8M372.50,439.98h3.2M513.30,439.98h-3.2M372.50,436.45h1.8M513.30,436.45h-1.8M372.50,432.91h1.8M513.30,432.91h-1.8M372.50,429.38h1.8M513.30,429.38h-1.8M372.50,425.84h1.8M513.30,425.84h-1.8M372.50,422.31h3.2M513.30,422.31h-3.2M372.50,418.78h1.8M513.30,418.78h-1.8M372.50,415.24h1.8M513.30,415.24h-1.8M372.50,411.71h1.8M513.30,411.71h-1.8M372.50,408.17h1.8M513.30,408.17h-1.8M372.50,404.64h3.2M513.30,404.64h-3.2" stroke="#111" stroke-width="0.9" fill="none"/>
<rect x="372.50" y="401.10" width="140.80" height="113.10" fill="none" stroke="#303030" stroke-width="1.3"/>
<path d="M521.42,514.20v-3.2M521.42,401.00v3.2M528.29,514.20v-1.8M528.29,401.00v1.8M535.16,514.20v-1.8M535.16,401.00v1.8M542.04,514.20v-1.8M542.04,401.00v1.8M548.91,514.20v-1.8M548.91,401.00v1.8M555.78,514.20v-3.2M555.78,401.00v3.2M562.66,514.20v-1.8M562.66,401.00v1.8M569.53,514.20v-1.8M569.53,401.00v1.8M576.40,514.20v-1.8M576.40,401.00v1.8M583.28,514.20v-1.8M583.28,401.00v1.8M590.15,514.20v-3.2M590.15,401.00v3.2M597.02,514.20v-1.8M597.02,401.00v1.8M603.90,514.20v-1.8M603.90,401.00v1.8M610.77,514.20v-1.8M610.77,401.00v1.8M617.64,514.20v-1.8M617.64,401.00v1.8M624.52,514.20v-3.2M624.52,401.00v3.2M631.39,514.20v-1.8M631.39,401.00v1.8M638.26,514.20v-1.8M638.26,401.00v1.8M645.14,514.20v-1.8M645.14,401.00v1.8M652.01,514.20v-1.8M652.01,401.00v1.8M658.88,514.20v-3.2M658.88,401.00v3.2M519.70,510.66h3.2M660.60,510.66h-3.2M519.70,507.12h1.8M660.60,507.12h-1.8M519.70,503.59h1.8M660.60,503.59h-1.8M519.70,500.05h1.8M660.60,500.05h-1.8M519.70,496.51h1.8M660.60,496.51h-1.8M519.70,492.98h3.2M660.60,492.98h-3.2M519.70,489.44h1.8M660.60,489.44h-1.8M519.70,485.90h1.8M660.60,485.90h-1.8M519.70,482.36h1.8M660.60,482.36h-1.8M519.70,478.83h1.8M660.60,478.83h-1.8M519.70,475.29h3.2M660.60,475.29h-3.2M519.70,471.75h1.8M660.60,471.75h-1.8M519.70,468.21h1.8M660.60,468.21h-1.8M519.70,464.68h1.8M660.60,464.68h-1.8M519.70,461.14h1.8M660.60,461.14h-1.8M519.70,457.60h3.2M660.60,457.60h-3.2M519.70,454.06h1.8M660.60,454.06h-1.8M519.70,450.53h1.8M660.60,450.53h-1.8M519.70,446.99h1.8M660.60,446.99h-1.8M519.70,443.45h1.8M660.60,443.45h-1.8M519.70,439.91h3.2M660.60,439.91h-3.2M519.70,436.38h1.8M660.60,436.38h-1.8M519.70,432.84h1.8M660.60,432.84h-1.8M519.70,429.30h1.8M660.60,429.30h-1.8M519.70,425.76h1.8M660.60,425.76h-1.8M519.70,422.23h3.2M660.60,422.23h-3.2M519.70,418.69h1.8M660.60,418.69h-1.8M519.70,415.15h1.8M660.60,415.15h-1.8M519.70,411.61h1.8M660.60,411.61h-1.8M519.70,408.08h1.8M660.60,408.08h-1.8M519.70,404.54h3.2M660.60,404.54h-3.2" stroke="#111" stroke-width="0.9" fill="none"/>
<rect x="519.70" y="401.00" width="140.90" height="113.20" fill="none" stroke="#303030" stroke-width="1.3"/>
<polyline points="62.66,71.03 65.59,71.09 68.52,71.20 71.46,71.33 74.39,71.50 77.32,71.69 80.26,71.91 83.19,72.15 86.12,72.41 89.05,72.79 91.99,73.31 94.92,73.99 97.85,74.89 100.79,76.39 103.72,77.74 106.65,81.81 109.59,89.90 112.52,97.11 115.45,95.56 118.38,93.66 121.32,92.46 124.25,91.72 127.18,91.41 130.12,91.20 133.05,91.20 135.98,91.20 138.92,91.41 141.85,91.72 144.78,92.46 147.72,93.66 150.65,95.56 153.58,97.11 156.51,89.90 159.45,81.81 162.38,77.74 165.31,76.39 168.25,74.89 171.18,73.99 174.11,73.31 177.05,72.79 179.98,72.41 182.91,72.15 185.84,71.91 188.78,71.69 191.71,71.50 194.64,71.33 197.58,71.20 200.51,71.09 203.44,71.03" fill="none" stroke="#3a3a3a" stroke-width="0.9" stroke-dasharray="2.2,1.3,0.8,1.3"/>
<rect x="61.06" y="69.43" width="3.2" height="3.2" fill="none" stroke="#3a3a3a" stroke-width="0.85"/>
<rect x="63.99" y="69.49" width="3.2" height="3.2" fill="none" stroke="#3a3a3a" stroke-width="0.85"/>
<rect x="66.92" y="69.60" width="3.2" height="3.2" fill="none" stroke="#3a3a3a" stroke-width="0.85"/>
<rect x="69.86" y="69.73" width="3.2" height="3.2" fill="none" stroke="#3a3a3a" stroke-width="0.85"/>
<rect x="72.79" y="69.90" width="3.2" height="3.2" fill="none" stroke="#3a3a3a" stroke-width="0.85"/>
<rect x="75.72" y="70.09" width="3.2" height="3.2" fill="none" stroke="#3a3a3a" stroke-width="0.85"/>
<rect x="78.66" y="70.31" width="3.2" height="3.2" fill="none" stroke="#3a3a3a" stroke-width="0.85"/>
<rect x="81.59" y="70.55" width="3.2" height="3.2" fill="none" stroke="#3a3a3a" stroke-width="0.85"/>
<rect x="84.52" y="70.81" width="3.2" height="3.2" fill="none" stroke="#3a3a3a" stroke-width="0.85"/>
<rect x="87.45" y="71.19" width="3.2" height="3.2" fill="none" stroke="#3a3a3a" stroke-width="0.85"/>
<rect x="90.39" y="71.71" width="3.2" height="3.2" fill="none" stroke="#3a3a3a" stroke-width="0.85"/>
<rect x="93.32" y="72.39" width="3.2" height="3.2" fill="none" stroke="#3a3a3a" stroke-width="0.85"/>
<rect x="96.25" y="73.29" width="3.2" height="3.2" fill="none" stroke="#3a3a3a" stroke-width="0.85"/>
<rect x="99.19" y="74.79" width="3.2" height="3.2" fill="none" stroke="#3a3a3a" stroke-width="0.85"/>
<rect x="102.12" y="76.14" width="3.2" height="3.2" fill="none" stroke="#3a3a3a" stroke-width="0.85"/>
<rect x="105.05" y="80.21" width="3.2" height="3.2" fill="none" stroke="#3a3a3a" stroke-width="0.85"/>
<rect x="107.99" y="88.30" width="3.2" height="3.2" fill="none" stroke="#3a3a3a" stroke-width="0.85"/>
<rect x="110.92" y="95.51" width="3.2" height="3.2" fill="none" stroke="#3a3a3a" stroke-width="0.85"/>
<rect x="113.85" y="93.96" width="3.2" height="3.2" fill="none" stroke="#3a3a3a" stroke-width="0.85"/>
<rect x="116.78" y="92.06" width="3.2" height="3.2" fill="none" stroke="#3a3a3a" stroke-width="0.85"/>
<rect x="119.72" y="90.86" width="3.2" height="3.2" fill="none" stroke="#3a3a3a" stroke-width="0.85"/>
<rect x="122.65" y="90.12" width="3.2" height="3.2" fill="none" stroke="#3a3a3a" stroke-width="0.85"/>
<rect x="125.58" y="89.81" width="3.2" height="3.2" fill="none" stroke="#3a3a3a" stroke-width="0.85"/>
<rect x="128.52" y="89.60" width="3.2" height="3.2" fill="none" stroke="#3a3a3a" stroke-width="0.85"/>
<rect x="131.45" y="89.60" width="3.2" height="3.2" fill="none" stroke="#3a3a3a" stroke-width="0.85"/>
<rect x="134.38" y="89.60" width="3.2" height="3.2" fill="none" stroke="#3a3a3a" stroke-width="0.85"/>
<rect x="137.32" y="89.81" width="3.2" height="3.2" fill="none" stroke="#3a3a3a" stroke-width="0.85"/>
<rect x="140.25" y="90.12" width="3.2" height="3.2" fill="none" stroke="#3a3a3a" stroke-width="0.85"/>
<rect x="143.18" y="90.86" width="3.2" height="3.2" fill="none" stroke="#3a3a3a" stroke-width="0.85"/>
<rect x="146.12" y="92.06" width="3.2" height="3.2" fill="none" stroke="#3a3a3a" stroke-width="0.85"/>
<rect x="149.05" y="93.96" width="3.2" height="3.2" fill="none" stroke="#3a3a3a" stroke-width="0.85"/>
<rect x="151.98" y="95.51" width="3.2" height="3.2" fill="none" stroke="#3a3a3a" stroke-width="0.85"/>
<rect x="154.91" y="88.30" width="3.2" height="3.2" fill="none" stroke="#3a3a3a" stroke-width="0.85"/>
<rect x="157.85" y="80.21" width="3.2" height="3.2" fill="none" stroke="#3a3a3a" stroke-width="0.85"/>
<rect x="160.78" y="76.14" width="3.2" height="3.2" fill="none" stroke="#3a3a3a" stroke-width="0.85"/>
<rect x="163.71" y="74.79" width="3.2" height="3.2" fill="none" stroke="#3a3a3a" stroke-width="0.85"/>
<rect x="166.65" y="73.29" width="3.2" height="3.2" fill="none" stroke="#3a3a3a" stroke-width="0.85"/>
<rect x="169.58" y="72.39" width="3.2" height="3.2" fill="none" stroke="#3a3a3a" stroke-width="0.85"/>
<rect x="172.51" y="71.71" width="3.2" height="3.2" fill="none" stroke="#3a3a3a" stroke-width="0.85"/>
<rect x="175.45" y="71.19" width="3.2" height="3.2" fill="none" stroke="#3a3a3a" stroke-width="0.85"/>
<rect x="178.38" y="70.81" width="3.2" height="3.2" fill="none" stroke="#3a3a3a" stroke-width="0.85"/>
<rect x="181.31" y="70.55" width="3.2" height="3.2" fill="none" stroke="#3a3a3a" stroke-width="0.85"/>
<rect x="184.24" y="70.31" width="3.2" height="3.2" fill="none" stroke="#3a3a3a" stroke-width="0.85"/>
<rect x="187.18" y="70.09" width="3.2" height="3.2" fill="none" stroke="#3a3a3a" stroke-width="0.85"/>
<rect x="190.11" y="69.90" width="3.2" height="3.2" fill="none" stroke="#3a3a3a" stroke-width="0.85"/>
<rect x="193.04" y="69.73" width="3.2" height="3.2" fill="none" stroke="#3a3a3a" stroke-width="0.85"/>
<rect x="195.98" y="69.60" width="3.2" height="3.2" fill="none" stroke="#3a3a3a" stroke-width="0.85"/>
<rect x="198.91" y="69.49" width="3.2" height="3.2" fill="none" stroke="#3a3a3a" stroke-width="0.85"/>
<rect x="201.84" y="69.43" width="3.2" height="3.2" fill="none" stroke="#3a3a3a" stroke-width="0.85"/>
<polyline points="62.66,69.74 65.59,69.65 68.52,69.53 71.46,69.39 74.39,69.23 77.32,69.07 80.26,68.87 83.19,68.60 86.12,68.21 89.05,67.25 91.99,66.44 94.92,65.29 97.85,63.61 100.79,58.93 103.72,50.11 106.65,34.02 109.59,18.93 112.52,15.00 115.45,29.64 118.38,46.60 121.32,57.64 124.25,62.12 127.18,64.02 130.12,65.22 133.05,65.40 135.98,65.22 138.92,64.02 141.85,62.12 144.78,57.64 147.72,46.60 150.65,29.64 153.58,15.00 156.51,18.93 159.45,34.02 162.38,50.11 165.31,58.93 168.25,63.61 171.18,65.29 174.11,66.44 177.05,67.25 179.98,68.21 182.91,68.60 185.84,68.87 188.78,69.07 191.71,69.23 194.64,69.39 197.58,69.53 200.51,69.65 203.44,69.74" fill="none" stroke="#ff4a4a" stroke-width="0.8" stroke-dasharray="1,0.9"/>
<circle cx="62.66" cy="69.74" r="1.75" fill="none" stroke="#ff2a2a" stroke-width="0.95"/>
<circle cx="65.59" cy="69.65" r="1.75" fill="none" stroke="#ff2a2a" stroke-width="0.95"/>
<circle cx="68.52" cy="69.53" r="1.75" fill="none" stroke="#ff2a2a" stroke-width="0.95"/>
<circle cx="71.46" cy="69.39" r="1.75" fill="none" stroke="#ff2a2a" stroke-width="0.95"/>
<circle cx="74.39" cy="69.23" r="1.75" fill="none" stroke="#ff2a2a" stroke-width="0.95"/>
<circle cx="77.32" cy="69.07" r="1.75" fill="none" stroke="#ff2a2a" stroke-width="0.95"/>
<circle cx="80.26" cy="68.87" r="1.75" fill="none" stroke="#ff2a2a" stroke-width="0.95"/>
<circle cx="83.19" cy="68.60" r="1.75" fill="none" stroke="#ff2a2a" stroke-width="0.95"/>
<circle cx="86.12" cy="68.21" r="1.75" fill="none" stroke="#ff2a2a" stroke-width="0.95"/>
<circle cx="89.05" cy="67.25" r="1.75" fill="none" stroke="#ff2a2a" stroke-width="0.95"/>
<circle cx="91.99" cy="66.44" r="1.75" fill="none" stroke="#ff2a2a" stroke-width="0.95"/>
<circle cx="94.92" cy="65.29" r="1.75" fill="none" stroke="#ff2a2a" stroke-width="0.95"/>
<circle cx="97.85" cy="63.61" r="1.75" fill="none" stroke="#ff2a2a" stroke-width="0.95"/>
<circle cx="100.79" cy="58.93" r="1.75" fill="none" stroke="#ff2a2a" stroke-width="0.95"/>
<circle cx="103.72" cy="50.11" r="1.75" fill="none" stroke="#ff2a2a" stroke-width="0.95"/>
<circle cx="106.65" cy="34.02" r="1.75" fill="none" stroke="#ff2a2a" stroke-width="0.95"/>
<circle cx="109.59" cy="18.93" r="1.75" fill="none" stroke="#ff2a2a" stroke-width="0.95"/>
<circle cx="112.52" cy="15.00" r="1.75" fill="none" stroke="#ff2a2a" stroke-width="0.95"/>
<circle cx="115.45" cy="29.64" r="1.75" fill="none" stroke="#ff2a2a" stroke-width="0.95"/>
<circle cx="118.38" cy="46.60" r="1.75" fill="none" stroke="#ff2a2a" stroke-width="0.95"/>
<circle cx="121.32" cy="57.64" r="1.75" fill="none" stroke="#ff2a2a" stroke-width="0.95"/>
<circle cx="124.25" cy="62.12" r="1.75" fill="none" stroke="#ff2a2a" stroke-width="0.95"/>
<circle cx="127.18" cy="64.02" r="1.75" fill="none" stroke="#ff2a2a" stroke-width="0.95"/>
<circle cx="130.12" cy="65.22" r="1.75" fill="none" stroke="#ff2a2a" stroke-width="0.95"/>
<circle cx="133.05" cy="65.40" r="1.75" fill="none" stroke="#ff2a2a" stroke-width="0.95"/>
<circle cx="135.98" cy="65.22" r="1.75" fill="none" stroke="#ff2a2a" stroke-width="0.95"/>
<circle cx="138.92" cy="64.02" r="1.75" fill="none" stroke="#ff2a2a" stroke-width="0.95"/>
<circle cx="141.85" cy="62.12" r="1.75" fill="none" stroke="#ff2a2a" stroke-width="0.95"/>
<circle cx="144.78" cy="57.64" r="1.75" fill="none" stroke="#ff2a2a" stroke-width="0.95"/>
<circle cx="147.72" cy="46.60" r="1.75" fill="none" stroke="#ff2a2a" stroke-width="0.95"/>
<circle cx="150.65" cy="29.64" r="1.75" fill="none" stroke="#ff2a2a" stroke-width="0.95"/>
<circle cx="153.58" cy="15.00" r="1.75" fill="none" stroke="#ff2a2a" stroke-width="0.95"/>
<circle cx="156.51" cy="18.93" r="1.75" fill="none" stroke="#ff2a2a" stroke-width="0.95"/>
<circle cx="159.45" cy="34.02" r="1.75" fill="none" stroke="#ff2a2a" stroke-width="0.95"/>
<circle cx="162.38" cy="50.11" r="1.75" fill="none" stroke="#ff2a2a" stroke-width="0.95"/>
<circle cx="165.31" cy="58.93" r="1.75" fill="none" stroke="#ff2a2a" stroke-width="0.95"/>
<circle cx="168.25" cy="63.61" r="1.75" fill="none" stroke="#ff2a2a" stroke-width="0.95"/>
<circle cx="171.18" cy="65.29" r="1.75" fill="none" stroke="#ff2a2a" stroke-width="0.95"/>
<circle cx="174.11" cy="66.44" r="1.75" fill="none" stroke="#ff2a2a" stroke-width="0.95"/>
<circle cx="177.05" cy="67.25" r="1.75" fill="none" stroke="#ff2a2a" stroke-width="0.95"/>
<circle cx="179.98" cy="68.21" r="1.75" fill="none" stroke="#ff2a2a" stroke-width="0.95"/>
<circle cx="182.91" cy="68.60" r="1.75" fill="none" stroke="#ff2a2a" stroke-width="0.95"/>
<circle cx="185.84" cy="68.87" r="1.75" fill="none" stroke="#ff2a2a" stroke-width="0.95"/>
<circle cx="188.78" cy="69.07" r="1.75" fill="none" stroke="#ff2a2a" stroke-width="0.95"/>
<circle cx="191.71" cy="69.23" r="1.75" fill="none" stroke="#ff2a2a" stroke-width="0.95"/>
<circle cx="194.64" cy="69.39" r="1.75" fill="none" stroke="#ff2a2a" stroke-width="0.95"/>
<circle cx="197.58" cy="69.53" r="1.75" fill="none" stroke="#ff2a2a" stroke-width="0.95"/>
<circle cx="200.51" cy="69.65" r="1.75" fill="none" stroke="#ff2a2a" stroke-width="0.95"/>
<circle cx="203.44" cy="69.74" r="1.75" fill="none" stroke="#ff2a2a" stroke-width="0.95"/>
<polyline points="62.66,71.33 65.59,71.40 68.52,71.52 71.46,71.68 74.39,71.87 77.32,72.08 80.26,72.32 83.19,72.72 86.12,73.33 89.05,74.11 91.99,75.25 94.92,76.85 97.85,79.49 100.79,83.92 103.72,90.97 106.65,105.23 109.59,120.78 112.52,127.40 115.45,112.84 118.38,98.85 121.32,86.33 124.25,79.98 127.18,77.67 130.12,76.45 133.05,76.00 135.98,76.45 138.92,77.67 141.85,79.98 144.78,86.33 147.72,98.85 150.65,112.84 153.58,127.40 156.51,120.78 159.45,105.23 162.38,90.97 165.31,83.92 168.25,79.49 171.18,76.85 174.11,75.25 177.05,74.11 179.98,73.33 182.91,72.72 185.84,72.32 188.78,72.08 191.71,71.87 194.64,71.68 197.58,71.52 200.51,71.40 203.44,71.33" fill="none" stroke="#3a3aff" stroke-width="1.4" stroke-dasharray="2.4,1.4"/>
<path d="M62.66,69.38L64.81,73.28L60.51,73.28Z" fill="none" stroke="#2a2aff" stroke-width="0.95"/>
<path d="M65.59,69.45L67.74,73.35L63.44,73.35Z" fill="none" stroke="#2a2aff" stroke-width="0.95"/>
<path d="M68.52,69.57L70.67,73.47L66.37,73.47Z" fill="none" stroke="#2a2aff" stroke-width="0.95"/>
<path d="M71.46,69.73L73.61,73.63L69.31,73.63Z" fill="none" stroke="#2a2aff" stroke-width="0.95"/>
<path d="M74.39,69.92L76.54,73.82L72.24,73.82Z" fill="none" stroke="#2a2aff" stroke-width="0.95"/>
<path d="M77.32,70.13L79.47,74.03L75.17,74.03Z" fill="none" stroke="#2a2aff" stroke-width="0.95"/>
<path d="M80.26,70.37L82.41,74.27L78.11,74.27Z" fill="none" stroke="#2a2aff" stroke-width="0.95"/>
<path d="M83.19,70.77L85.34,74.67L81.04,74.67Z" fill="none" stroke="#2a2aff" stroke-width="0.95"/>
<path d="M86.12,71.38L88.27,75.28L83.97,75.28Z" fill="none" stroke="#2a2aff" stroke-width="0.95"/>
<path d="M89.05,72.16L91.20,76.06L86.90,76.06Z" fill="none" stroke="#2a2aff" stroke-width="0.95"/>
<path d="M91.99,73.30L94.14,77.20L89.84,77.20Z" fill="none" stroke="#2a2aff" stroke-width="0.95"/>
<path d="M94.92,74.90L97.07,78.80L92.77,78.80Z" fill="none" stroke="#2a2aff" stroke-width="0.95"/>
<path d="M97.85,77.54L100.00,81.44L95.70,81.44Z" fill="none" stroke="#2a2aff" stroke-width="0.95"/>
<path d="M100.79,81.97L102.94,85.87L98.64,85.87Z" fill="none" stroke="#2a2aff" stroke-width="0.95"/>
<path d="M103.72,89.02L105.87,92.92L101.57,92.92Z" fill="none" stroke="#2a2aff" stroke-width="0.95"/>
<path d="M106.65,103.28L108.80,107.18L104.50,107.18Z" fill="none" stroke="#2a2aff" stroke-width="0.95"/>
<path d="M109.59,118.83L111.74,122.73L107.44,122.73Z" fill="none" stroke="#2a2aff" stroke-width="0.95"/>
<path d="M112.52,125.45L114.67,129.35L110.37,129.35Z" fill="none" stroke="#2a2aff" stroke-width="0.95"/>
<path d="M115.45,110.89L117.60,114.79L113.30,114.79Z" fill="none" stroke="#2a2aff" stroke-width="0.95"/>
<path d="M118.38,96.90L120.53,100.80L116.23,100.80Z" fill="none" stroke="#2a2aff" stroke-width="0.95"/>
<path d="M121.32,84.38L123.47,88.28L119.17,88.28Z" fill="none" stroke="#2a2aff" stroke-width="0.95"/>
<path d="M124.25,78.03L126.40,81.93L122.10,81.93Z" fill="none" stroke="#2a2aff" stroke-width="0.95"/>
<path d="M127.18,75.72L129.33,79.62L125.03,79.62Z" fill="none" stroke="#2a2aff" stroke-width="0.95"/>
<path d="M130.12,74.50L132.27,78.40L127.97,78.40Z" fill="none" stroke="#2a2aff" stroke-width="0.95"/>
<path d="M133.05,74.05L135.20,77.95L130.90,77.95Z" fill="none" stroke="#2a2aff" stroke-width="0.95"/>
<path d="M135.98,74.50L138.13,78.40L133.83,78.40Z" fill="none" stroke="#2a2aff" stroke-width="0.95"/>
<path d="M138.92,75.72L141.07,79.62L136.77,79.62Z" fill="none" stroke="#2a2aff" stroke-width="0.95"/>
<path d="M141.85,78.03L144.00,81.93L139.70,81.93Z" fill="none" stroke="#2a2aff" stroke-width="0.95"/>
<path d="M144.78,84.38L146.93,88.28L142.63,88.28Z" fill="none" stroke="#2a2aff" stroke-width="0.95"/>
<path d="M147.72,96.90L149.87,100.80L145.57,100.80Z" fill="none" stroke="#2a2aff" stroke-width="0.95"/>
<path d="M150.65,110.89L152.80,114.79L148.50,114.79Z" fill="none" stroke="#2a2aff" stroke-width="0.95"/>
<path d="M153.58,125.45L155.73,129.35L151.43,129.35Z" fill="none" stroke="#2a2aff" stroke-width="0.95"/>
<path d="M156.51,118.83L158.66,122.73L154.36,122.73Z" fill="none" stroke="#2a2aff" stroke-width="0.95"/>
<path d="M159.45,103.28L161.60,107.18L157.30,107.18Z" fill="none" stroke="#2a2aff" stroke-width="0.95"/>
<path d="M162.38,89.02L164.53,92.92L160.23,92.92Z" fill="none" stroke="#2a2aff" stroke-width="0.95"/>
<path d="M165.31,81.97L167.46,85.87L163.16,85.87Z" fill="none" stroke="#2a2aff" stroke-width="0.95"/>
<path d="M168.25,77.54L170.40,81.44L166.10,81.44Z" fill="none" stroke="#2a2aff" stroke-width="0.95"/>
<path d="M171.18,74.90L173.33,78.80L169.03,78.80Z" fill="none" stroke="#2a2aff" stroke-width="0.95"/>
<path d="M174.11,73.30L176.26,77.20L171.96,77.20Z" fill="none" stroke="#2a2aff" stroke-width="0.95"/>
<path d="M177.05,72.16L179.20,76.06L174.90,76.06Z" fill="none" stroke="#2a2aff" stroke-width="0.95"/>
<path d="M179.98,71.38L182.13,75.28L177.83,75.28Z" fill="none" stroke="#2a2aff" stroke-width="0.95"/>
<path d="M182.91,70.77L185.06,74.67L180.76,74.67Z" fill="none" stroke="#2a2aff" stroke-width="0.95"/>
<path d="M185.84,70.37L187.99,74.27L183.69,74.27Z" fill="none" stroke="#2a2aff" stroke-width="0.95"/>
<path d="M188.78,70.13L190.93,74.03L186.63,74.03Z" fill="none" stroke="#2a2aff" stroke-width="0.95"/>
<path d="M191.71,69.92L193.86,73.82L189.56,73.82Z" fill="none" stroke="#2a2aff" stroke-width="0.95"/>
<path d="M194.64,69.73L196.79,73.63L192.49,73.63Z" fill="none" stroke="#2a2aff" stroke-width="0.95"/>
<path d="M197.58,69.57L199.73,73.47L195.43,73.47Z" fill="none" stroke="#2a2aff" stroke-width="0.95"/>
<path d="M200.51,69.45L202.66,73.35L198.36,73.35Z" fill="none" stroke="#2a2aff" stroke-width="0.95"/>
<path d="M203.44,69.38L205.59,73.28L201.29,73.28Z" fill="none" stroke="#2a2aff" stroke-width="0.95"/>
<polyline points="62.66,71.00 65.59,71.00 68.52,71.01 71.46,71.02 74.39,71.03 77.32,71.04 80.26,71.06 83.19,71.08 86.12,71.10 89.05,71.13 91.99,71.17 94.92,71.21 97.85,71.26 100.79,71.36 103.72,72.11 106.65,73.54 109.59,75.28 112.52,76.76 115.45,74.82 118.38,72.10 121.32,70.81 124.25,70.71 127.18,70.64 130.12,70.61 133.05,70.60 135.98,70.61 138.92,70.64 141.85,70.71 144.78,70.81 147.72,72.10 150.65,74.82 153.58,76.76 156.51,75.28 159.45,73.54 162.38,72.11 165.31,71.36 168.25,71.26 171.18,71.21 174.11,71.17 177.05,71.13 179.98,71.10 182.91,71.08 185.84,71.06 188.78,71.04 191.71,71.03 194.64,71.02 197.58,71.01 200.51,71.00 203.44,71.00" fill="none" stroke="#ff3aff" stroke-width="1.2" stroke-dasharray="2.4,1.4"/>
<path d="M62.66,72.95L64.81,69.05L60.51,69.05Z" fill="none" stroke="#ff1aff" stroke-width="0.95"/>
<path d="M65.59,72.95L67.74,69.05L63.44,69.05Z" fill="none" stroke="#ff1aff" stroke-width="0.95"/>
<path d="M68.52,72.96L70.67,69.06L66.37,69.06Z" fill="none" stroke="#ff1aff" stroke-width="0.95"/>
<path d="M71.46,72.97L73.61,69.07L69.31,69.07Z" fill="none" stroke="#ff1aff" stroke-width="0.95"/>
<path d="M74.39,72.98L76.54,69.08L72.24,69.08Z" fill="none" stroke="#ff1aff" stroke-width="0.95"/>
<path d="M77.32,72.99L79.47,69.09L75.17,69.09Z" fill="none" stroke="#ff1aff" stroke-width="0.95"/>
<path d="M80.26,73.01L82.41,69.11L78.11,69.11Z" fill="none" stroke="#ff1aff" stroke-width="0.95"/>
<path d="M83.19,73.03L85.34,69.13L81.04,69.13Z" fill="none" stroke="#ff1aff" stroke-width="0.95"/>
<path d="M86.12,73.05L88.27,69.15L83.97,69.15Z" fill="none" stroke="#ff1aff" stroke-width="0.95"/>
<path d="M89.05,73.08L91.20,69.18L86.90,69.18Z" fill="none" stroke="#ff1aff" stroke-width="0.95"/>
<path d="M91.99,73.12L94.14,69.22L89.84,69.22Z" fill="none" stroke="#ff1aff" stroke-width="0.95"/>
<path d="M94.92,73.16L97.07,69.26L92.77,69.26Z" fill="none" stroke="#ff1aff" stroke-width="0.95"/>
<path d="M97.85,73.21L100.00,69.31L95.70,69.31Z" fill="none" stroke="#ff1aff" stroke-width="0.95"/>
<path d="M100.79,73.31L102.94,69.41L98.64,69.41Z" fill="none" stroke="#ff1aff" stroke-width="0.95"/>
<path d="M103.72,74.06L105.87,70.16L101.57,70.16Z" fill="none" stroke="#ff1aff" stroke-width="0.95"/>
<path d="M106.65,75.49L108.80,71.59L104.50,71.59Z" fill="none" stroke="#ff1aff" stroke-width="0.95"/>
<path d="M109.59,77.23L111.74,73.33L107.44,73.33Z" fill="none" stroke="#ff1aff" stroke-width="0.95"/>
<path d="M112.52,78.71L114.67,74.81L110.37,74.81Z" fill="none" stroke="#ff1aff" stroke-width="0.95"/>
<path d="M115.45,76.77L117.60,72.87L113.30,72.87Z" fill="none" stroke="#ff1aff" stroke-width="0.95"/>
<path d="M118.38,74.05L120.53,70.15L116.23,70.15Z" fill="none" stroke="#ff1aff" stroke-width="0.95"/>
<path d="M121.32,72.76L123.47,68.86L119.17,68.86Z" fill="none" stroke="#ff1aff" stroke-width="0.95"/>
<path d="M124.25,72.66L126.40,68.76L122.10,68.76Z" fill="none" stroke="#ff1aff" stroke-width="0.95"/>
<path d="M127.18,72.59L129.33,68.69L125.03,68.69Z" fill="none" stroke="#ff1aff" stroke-width="0.95"/>
<path d="M130.12,72.56L132.27,68.66L127.97,68.66Z" fill="none" stroke="#ff1aff" stroke-width="0.95"/>
<path d="M133.05,72.55L135.20,68.65L130.90,68.65Z" fill="none" stroke="#ff1aff" stroke-width="0.95"/>
<path d="M135.98,72.56L138.13,68.66L133.83,68.66Z" fill="none" stroke="#ff1aff" stroke-width="0.95"/>
<path d="M138.92,72.59L141.07,68.69L136.77,68.69Z" fill="none" stroke="#ff1aff" stroke-width="0.95"/>
<path d="M141.85,72.66L144.00,68.76L139.70,68.76Z" fill="none" stroke="#ff1aff" stroke-width="0.95"/>
<path d="M144.78,72.76L146.93,68.86L142.63,68.86Z" fill="none" stroke="#ff1aff" stroke-width="0.95"/>
<path d="M147.72,74.05L149.87,70.15L145.57,70.15Z" fill="none" stroke="#ff1aff" stroke-width="0.95"/>
<path d="M150.65,76.77L152.80,72.87L148.50,72.87Z" fill="none" stroke="#ff1aff" stroke-width="0.95"/>
<path d="M153.58,78.71L155.73,74.81L151.43,74.81Z" fill="none" stroke="#ff1aff" stroke-width="0.95"/>
<path d="M156.51,77.23L158.66,73.33L154.36,73.33Z" fill="none" stroke="#ff1aff" stroke-width="0.95"/>
<path d="M159.45,75.49L161.60,71.59L157.30,71.59Z" fill="none" stroke="#ff1aff" stroke-width="0.95"/>
<path d="M162.38,74.06L164.53,70.16L160.23,70.16Z" fill="none" stroke="#ff1aff" stroke-width="0.95"/>
<path d="M165.31,73.31L167.46,69.41L163.16,69.41Z" fill="none" stroke="#ff1aff" stroke-width="0.95"/>
<path d="M168.25,73.21L170.40,69.31L166.10,69.31Z" fill="none" stroke="#ff1aff" stroke-width="0.95"/>
<path d="M171.18,73.16L173.33,69.26L169.03,69.26Z" fill="none" stroke="#ff1aff" stroke-width="0.95"/>
<path d="M174.11,73.12L176.26,69.22L171.96,69.22Z" fill="none" stroke="#ff1aff" stroke-width="0.95"/>
<path d="M177.05,73.08L179.20,69.18L174.90,69.18Z" fill="none" stroke="#ff1aff" stroke-width="0.95"/>
<path d="M179.98,73.05L182.13,69.15L177.83,69.15Z" fill="none" stroke="#ff1aff" stroke-width="0.95"/>
<path d="M182.91,73.03L185.06,69.13L180.76,69.13Z" fill="none" stroke="#ff1aff" stroke-width="0.95"/>
<path d="M185.84,73.01L187.99,69.11L183.69,69.11Z" fill="none" stroke="#ff1aff" stroke-width="0.95"/>
<path d="M188.78,72.99L190.93,69.09L186.63,69.09Z" fill="none" stroke="#ff1aff" stroke-width="0.95"/>
<path d="M191.71,72.98L193.86,69.08L189.56,69.08Z" fill="none" stroke="#ff1aff" stroke-width="0.95"/>
<path d="M194.64,72.97L196.79,69.07L192.49,69.07Z" fill="none" stroke="#ff1aff" stroke-width="0.95"/>
<path d="M197.58,72.96L199.73,69.06L195.43,69.06Z" fill="none" stroke="#ff1aff" stroke-width="0.95"/>
<path d="M200.51,72.95L202.66,69.05L198.36,69.05Z" fill="none" stroke="#ff1aff" stroke-width="0.95"/>
<path d="M203.44,72.95L205.59,69.05L201.29,69.05Z" fill="none" stroke="#ff1aff" stroke-width="0.95"/>
<polyline points="212.74,69.93 215.65,69.87 218.57,69.80 221.48,69.74 224.40,69.67 227.31,69.60 230.23,69.53 233.14,69.46 236.06,69.39 238.97,69.32 241.89,69.25 244.80,69.15 247.72,69.06 250.63,69.01 253.55,69.03 256.46,69.24 259.38,70.44 262.29,71.36 265.21,67.58 268.12,65.29 271.04,64.33 273.95,63.92 276.87,63.74 279.78,63.64 282.70,63.60 285.62,63.64 288.53,63.74 291.45,63.92 294.36,64.33 297.28,65.29 300.19,67.58 303.11,71.36 306.02,70.44 308.94,69.24 311.85,69.03 314.77,69.01 317.68,69.06 320.60,69.15 323.51,69.25 326.43,69.32 329.34,69.39 332.26,69.46 335.17,69.53 338.09,69.60 341.00,69.67 343.92,69.74 346.83,69.80 349.75,69.87 352.66,69.93" fill="none" stroke="#3a3a3a" stroke-width="0.9" stroke-dasharray="2.2,1.3,0.8,1.3"/>
<rect x="211.14" y="68.33" width="3.2" height="3.2" fill="none" stroke="#3a3a3a" stroke-width="0.85"/>
<rect x="214.05" y="68.27" width="3.2" height="3.2" fill="none" stroke="#3a3a3a" stroke-width="0.85"/>
<rect x="216.97" y="68.20" width="3.2" height="3.2" fill="none" stroke="#3a3a3a" stroke-width="0.85"/>
<rect x="219.88" y="68.14" width="3.2" height="3.2" fill="none" stroke="#3a3a3a" stroke-width="0.85"/>
<rect x="222.80" y="68.07" width="3.2" height="3.2" fill="none" stroke="#3a3a3a" stroke-width="0.85"/>
<rect x="225.71" y="68.00" width="3.2" height="3.2" fill="none" stroke="#3a3a3a" stroke-width="0.85"/>
<rect x="228.63" y="67.93" width="3.2" height="3.2" fill="none" stroke="#3a3a3a" stroke-width="0.85"/>
<rect x="231.54" y="67.86" width="3.2" height="3.2" fill="none" stroke="#3a3a3a" stroke-width="0.85"/>
<rect x="234.46" y="67.79" width="3.2" height="3.2" fill="none" stroke="#3a3a3a" stroke-width="0.85"/>
<rect x="237.37" y="67.72" width="3.2" height="3.2" fill="none" stroke="#3a3a3a" stroke-width="0.85"/>
<rect x="240.29" y="67.65" width="3.2" height="3.2" fill="none" stroke="#3a3a3a" stroke-width="0.85"/>
<rect x="243.20" y="67.55" width="3.2" height="3.2" fill="none" stroke="#3a3a3a" stroke-width="0.85"/>
<rect x="246.12" y="67.46" width="3.2" height="3.2" fill="none" stroke="#3a3a3a" stroke-width="0.85"/>
<rect x="249.03" y="67.41" width="3.2" height="3.2" fill="none" stroke="#3a3a3a" stroke-width="0.85"/>
<rect x="251.95" y="67.43" width="3.2" height="3.2" fill="none" stroke="#3a3a3a" stroke-width="0.85"/>
<rect x="254.86" y="67.64" width="3.2" height="3.2" fill="none" stroke="#3a3a3a" stroke-width="0.85"/>
<rect x="257.78" y="68.84" width="3.2" height="3.2" fill="none" stroke="#3a3a3a" stroke-width="0.85"/>
<rect x="260.69" y="69.76" width="3.2" height="3.2" fill="none" stroke="#3a3a3a" stroke-width="0.85"/>
<rect x="263.61" y="65.98" width="3.2" height="3.2" fill="none" stroke="#3a3a3a" stroke-width="0.85"/>
<rect x="266.52" y="63.69" width="3.2" height="3.2" fill="none" stroke="#3a3a3a" stroke-width="0.85"/>
<rect x="269.44" y="62.73" width="3.2" height="3.2" fill="none" stroke="#3a3a3a" stroke-width="0.85"/>
<rect x="272.35" y="62.32" width="3.2" height="3.2" fill="none" stroke="#3a3a3a" stroke-width="0.85"/>
<rect x="275.27" y="62.14" width="3.2" height="3.2" fill="none" stroke="#3a3a3a" stroke-width="0.85"/>
<rect x="278.18" y="62.04" width="3.2" height="3.2" fill="none" stroke="#3a3a3a" stroke-width="0.85"/>
<rect x="281.10" y="62.00" width="3.2" height="3.2" fill="none" stroke="#3a3a3a" stroke-width="0.85"/>
<rect x="284.02" y="62.04" width="3.2" height="3.2" fill="none" stroke="#3a3a3a" stroke-width="0.85"/>
<rect x="286.93" y="62.14" width="3.2" height="3.2" fill="none" stroke="#3a3a3a" stroke-width="0.85"/>
<rect x="289.85" y="62.32" width="3.2" height="3.2" fill="none" stroke="#3a3a3a" stroke-width="0.85"/>
<rect x="292.76" y="62.73" width="3.2" height="3.2" fill="none" stroke="#3a3a3a" stroke-width="0.85"/>
<rect x="295.68" y="63.69" width="3.2" height="3.2" fill="none" stroke="#3a3a3a" stroke-width="0.85"/>
<rect x="298.59" y="65.98" width="3.2" height="3.2" fill="none" stroke="#3a3a3a" stroke-width="0.85"/>
<rect x="301.51" y="69.76" width="3.2" height="3.2" fill="none" stroke="#3a3a3a" stroke-width="0.85"/>
<rect x="304.42" y="68.84" width="3.2" height="3.2" fill="none" stroke="#3a3a3a" stroke-width="0.85"/>
<rect x="307.34" y="67.64" width="3.2" height="3.2" fill="none" stroke="#3a3a3a" stroke-width="0.85"/>
<rect x="310.25" y="67.43" width="3.2" height="3.2" fill="none" stroke="#3a3a3a" stroke-width="0.85"/>
<rect x="313.17" y="67.41" width="3.2" height="3.2" fill="none" stroke="#3a3a3a" stroke-width="0.85"/>
<rect x="316.08" y="67.46" width="3.2" height="3.2" fill="none" stroke="#3a3a3a" stroke-width="0.85"/>
<rect x="319.00" y="67.55" width="3.2" height="3.2" fill="none" stroke="#3a3a3a" stroke-width="0.85"/>
<rect x="321.91" y="67.65" width="3.2" height="3.2" fill="none" stroke="#3a3a3a" stroke-width="0.85"/>
<rect x="324.83" y="67.72" width="3.2" height="3.2" fill="none" stroke="#3a3a3a" stroke-width="0.85"/>
<rect x="327.74" y="67.79" width="3.2" height="3.2" fill="none" stroke="#3a3a3a" stroke-width="0.85"/>
<rect x="330.66" y="67.86" width="3.2" height="3.2" fill="none" stroke="#3a3a3a" stroke-width="0.85"/>
<rect x="333.57" y="67.93" width="3.2" height="3.2" fill="none" stroke="#3a3a3a" stroke-width="0.85"/>
<rect x="336.49" y="68.00" width="3.2" height="3.2" fill="none" stroke="#3a3a3a" stroke-width="0.85"/>
<rect x="339.40" y="68.07" width="3.2" height="3.2" fill="none" stroke="#3a3a3a" stroke-width="0.85"/>
<rect x="342.32" y="68.14" width="3.2" height="3.2" fill="none" stroke="#3a3a3a" stroke-width="0.85"/>
<rect x="345.23" y="68.20" width="3.2" height="3.2" fill="none" stroke="#3a3a3a" stroke-width="0.85"/>
<rect x="348.15" y="68.27" width="3.2" height="3.2" fill="none" stroke="#3a3a3a" stroke-width="0.85"/>
<rect x="351.06" y="68.33" width="3.2" height="3.2" fill="none" stroke="#3a3a3a" stroke-width="0.85"/>
<polyline points="212.74,71.40 215.65,71.40 218.57,71.41 221.48,71.41 224.40,71.42 227.31,71.44 230.23,71.45 233.14,71.47 236.06,71.50 238.97,72.44 241.89,73.45 244.80,74.18 247.72,75.29 250.63,77.53 253.55,83.51 256.46,94.15 259.38,105.26 262.29,109.10 265.21,102.02 268.12,90.08 271.04,81.53 273.95,77.04 276.87,74.95 279.78,74.32 282.70,73.90 285.62,74.32 288.53,74.95 291.45,77.04 294.36,81.53 297.28,90.08 300.19,102.02 303.11,109.10 306.02,105.26 308.94,94.15 311.85,83.51 314.77,77.53 317.68,75.29 320.60,74.18 323.51,73.45 326.43,72.44 329.34,71.50 332.26,71.47 335.17,71.45 338.09,71.44 341.00,71.42 343.92,71.41 346.83,71.41 349.75,71.40 352.66,71.40" fill="none" stroke="#ff4a4a" stroke-width="0.8" stroke-dasharray="1,0.9"/>
<circle cx="212.74" cy="71.40" r="1.75" fill="none" stroke="#ff2a2a" stroke-width="0.95"/>
<circle cx="215.65" cy="71.40" r="1.75" fill="none" stroke="#ff2a2a" stroke-width="0.95"/>
<circle cx="218.57" cy="71.41" r="1.75" fill="none" stroke="#ff2a2a" stroke-width="0.95"/>
<circle cx="221.48" cy="71.41" r="1.75" fill="none" stroke="#ff2a2a" stroke-width="0.95"/>
<circle cx="224.40" cy="71.42" r="1.75" fill="none" stroke="#ff2a2a" stroke-width="0.95"/>
<circle cx="227.31" cy="71.44" r="1.75" fill="none" stroke="#ff2a2a" stroke-width="0.95"/>
<circle cx="230.23" cy="71.45" r="1.75" fill="none" stroke="#ff2a2a" stroke-width="0.95"/>
<circle cx="233.14" cy="71.47" r="1.75" fill="none" stroke="#ff2a2a" stroke-width="0.95"/>
<circle cx="236.06" cy="71.50" r="1.75" fill="none" stroke="#ff2a2a" stroke-width="0.95"/>
<circle cx="238.97" cy="72.44" r="1.75" fill="none" stroke="#ff2a2a" stroke-width="0.95"/>
<circle cx="241.89" cy="73.45" r="1.75" fill="none" stroke="#ff2a2a" stroke-width="0.95"/>
<circle cx="244.80" cy="74.18" r="1.75" fill="none" stroke="#ff2a2a" stroke-width="0.95"/>
<circle cx="247.72" cy="75.29" r="1.75" fill="none" stroke="#ff2a2a" stroke-width="0.95"/>
<circle cx="250.63" cy="77.53" r="1.75" fill="none" stroke="#ff2a2a" stroke-width="0.95"/>
<circle cx="253.55" cy="83.51" r="1.75" fill="none" stroke="#ff2a2a" stroke-width="0.95"/>
<circle cx="256.46" cy="94.15" r="1.75" fill="none" stroke="#ff2a2a" stroke-width="0.95"/>
<circle cx="259.38" cy="105.26" r="1.75" fill="none" stroke="#ff2a2a" stroke-width="0.95"/>
<circle cx="262.29" cy="109.10" r="1.75" fill="none" stroke="#ff2a2a" stroke-width="0.95"/>
<circle cx="265.21" cy="102.02" r="1.75" fill="none" stroke="#ff2a2a" stroke-width="0.95"/>
<circle cx="268.12" cy="90.08" r="1.75" fill="none" stroke="#ff2a2a" stroke-width="0.95"/>
<circle cx="271.04" cy="81.53" r="1.75" fill="none" stroke="#ff2a2a" stroke-width="0.95"/>
<circle cx="273.95" cy="77.04" r="1.75" fill="none" stroke="#ff2a2a" stroke-width="0.95"/>
<circle cx="276.87" cy="74.95" r="1.75" fill="none" stroke="#ff2a2a" stroke-width="0.95"/>
<circle cx="279.78" cy="74.32" r="1.75" fill="none" stroke="#ff2a2a" stroke-width="0.95"/>
<circle cx="282.70" cy="73.90" r="1.75" fill="none" stroke="#ff2a2a" stroke-width="0.95"/>
<circle cx="285.62" cy="74.32" r="1.75" fill="none" stroke="#ff2a2a" stroke-width="0.95"/>
<circle cx="288.53" cy="74.95" r="1.75" fill="none" stroke="#ff2a2a" stroke-width="0.95"/>
<circle cx="291.45" cy="77.04" r="1.75" fill="none" stroke="#ff2a2a" stroke-width="0.95"/>
<circle cx="294.36" cy="81.53" r="1.75" fill="none" stroke="#ff2a2a" stroke-width="0.95"/>
<circle cx="297.28" cy="90.08" r="1.75" fill="none" stroke="#ff2a2a" stroke-width="0.95"/>
<circle cx="300.19" cy="102.02" r="1.75" fill="none" stroke="#ff2a2a" stroke-width="0.95"/>
<circle cx="303.11" cy="109.10" r="1.75" fill="none" stroke="#ff2a2a" stroke-width="0.95"/>
<circle cx="306.02" cy="105.26" r="1.75" fill="none" stroke="#ff2a2a" stroke-width="0.95"/>
<circle cx="308.94" cy="94.15" r="1.75" fill="none" stroke="#ff2a2a" stroke-width="0.95"/>
<circle cx="311.85" cy="83.51" r="1.75" fill="none" stroke="#ff2a2a" stroke-width="0.95"/>
<circle cx="314.77" cy="77.53" r="1.75" fill="none" stroke="#ff2a2a" stroke-width="0.95"/>
<circle cx="317.68" cy="75.29" r="1.75" fill="none" stroke="#ff2a2a" stroke-width="0.95"/>
<circle cx="320.60" cy="74.18" r="1.75" fill="none" stroke="#ff2a2a" stroke-width="0.95"/>
<circle cx="323.51" cy="73.45" r="1.75" fill="none" stroke="#ff2a2a" stroke-width="0.95"/>
<circle cx="326.43" cy="72.44" r="1.75" fill="none" stroke="#ff2a2a" stroke-width="0.95"/>
<circle cx="329.34" cy="71.50" r="1.75" fill="none" stroke="#ff2a2a" stroke-width="0.95"/>
<circle cx="332.26" cy="71.47" r="1.75" fill="none" stroke="#ff2a2a" stroke-width="0.95"/>
<circle cx="335.17" cy="71.45" r="1.75" fill="none" stroke="#ff2a2a" stroke-width="0.95"/>
<circle cx="338.09" cy="71.44" r="1.75" fill="none" stroke="#ff2a2a" stroke-width="0.95"/>
<circle cx="341.00" cy="71.42" r="1.75" fill="none" stroke="#ff2a2a" stroke-width="0.95"/>
<circle cx="343.92" cy="71.41" r="1.75" fill="none" stroke="#ff2a2a" stroke-width="0.95"/>
<circle cx="346.83" cy="71.41" r="1.75" fill="none" stroke="#ff2a2a" stroke-width="0.95"/>
<circle cx="349.75" cy="71.40" r="1.75" fill="none" stroke="#ff2a2a" stroke-width="0.95"/>
<circle cx="352.66" cy="71.40" r="1.75" fill="none" stroke="#ff2a2a" stroke-width="0.95"/>
<polyline points="212.74,67.70 215.65,67.68 218.57,67.66 221.48,67.63 224.40,67.59 227.31,67.54 230.23,67.47 233.14,67.39 236.06,67.30 238.97,66.80 241.89,66.11 244.80,65.45 247.72,64.45 250.63,62.55 253.55,57.01 256.46,44.66 259.38,33.51 262.29,30.07 265.21,40.14 268.12,53.39 271.04,60.23 273.95,63.37 276.87,64.74 279.78,65.21 282.70,65.40 285.62,65.21 288.53,64.74 291.45,63.37 294.36,60.23 297.28,53.39 300.19,40.14 303.11,30.07 306.02,33.51 308.94,44.66 311.85,57.01 314.77,62.55 317.68,64.45 320.60,65.45 323.51,66.11 326.43,66.80 329.34,67.30 332.26,67.39 335.17,67.47 338.09,67.54 341.00,67.59 343.92,67.63 346.83,67.66 349.75,67.68 352.66,67.70" fill="none" stroke="#3a3aff" stroke-width="1.4" stroke-dasharray="2.4,1.4"/>
<path d="M212.74,65.75L214.89,69.65L210.59,69.65Z" fill="none" stroke="#2a2aff" stroke-width="0.95"/>
<path d="M215.65,65.73L217.80,69.63L213.50,69.63Z" fill="none" stroke="#2a2aff" stroke-width="0.95"/>
<path d="M218.57,65.71L220.72,69.61L216.42,69.61Z" fill="none" stroke="#2a2aff" stroke-width="0.95"/>
<path d="M221.48,65.68L223.63,69.58L219.33,69.58Z" fill="none" stroke="#2a2aff" stroke-width="0.95"/>
<path d="M224.40,65.64L226.55,69.54L222.25,69.54Z" fill="none" stroke="#2a2aff" stroke-width="0.95"/>
<path d="M227.31,65.59L229.46,69.49L225.16,69.49Z" fill="none" stroke="#2a2aff" stroke-width="0.95"/>
<path d="M230.23,65.52L232.38,69.42L228.08,69.42Z" fill="none" stroke="#2a2aff" stroke-width="0.95"/>
<path d="M233.14,65.44L235.29,69.34L230.99,69.34Z" fill="none" stroke="#2a2aff" stroke-width="0.95"/>
<path d="M236.06,65.35L238.21,69.25L233.91,69.25Z" fill="none" stroke="#2a2aff" stroke-width="0.95"/>
<path d="M238.97,64.85L241.12,68.75L236.82,68.75Z" fill="none" stroke="#2a2aff" stroke-width="0.95"/>
<path d="M241.89,64.16L244.04,68.06L239.74,68.06Z" fill="none" stroke="#2a2aff" stroke-width="0.95"/>
<path d="M244.80,63.50L246.95,67.40L242.65,67.40Z" fill="none" stroke="#2a2aff" stroke-width="0.95"/>
<path d="M247.72,62.50L249.87,66.40L245.57,66.40Z" fill="none" stroke="#2a2aff" stroke-width="0.95"/>
<path d="M250.63,60.60L252.78,64.50L248.48,64.50Z" fill="none" stroke="#2a2aff" stroke-width="0.95"/>
<path d="M253.55,55.06L255.70,58.96L251.40,58.96Z" fill="none" stroke="#2a2aff" stroke-width="0.95"/>
<path d="M256.46,42.71L258.61,46.61L254.31,46.61Z" fill="none" stroke="#2a2aff" stroke-width="0.95"/>
<path d="M259.38,31.56L261.53,35.46L257.23,35.46Z" fill="none" stroke="#2a2aff" stroke-width="0.95"/>
<path d="M262.29,28.12L264.44,32.02L260.14,32.02Z" fill="none" stroke="#2a2aff" stroke-width="0.95"/>
<path d="M265.21,38.19L267.36,42.09L263.06,42.09Z" fill="none" stroke="#2a2aff" stroke-width="0.95"/>
<path d="M268.12,51.44L270.27,55.34L265.97,55.34Z" fill="none" stroke="#2a2aff" stroke-width="0.95"/>
<path d="M271.04,58.28L273.19,62.18L268.89,62.18Z" fill="none" stroke="#2a2aff" stroke-width="0.95"/>
<path d="M273.95,61.42L276.10,65.32L271.80,65.32Z" fill="none" stroke="#2a2aff" stroke-width="0.95"/>
<path d="M276.87,62.79L279.02,66.69L274.72,66.69Z" fill="none" stroke="#2a2aff" stroke-width="0.95"/>
<path d="M279.78,63.26L281.93,67.16L277.63,67.16Z" fill="none" stroke="#2a2aff" stroke-width="0.95"/>
<path d="M282.70,63.45L284.85,67.35L280.55,67.35Z" fill="none" stroke="#2a2aff" stroke-width="0.95"/>
<path d="M285.62,63.26L287.77,67.16L283.47,67.16Z" fill="none" stroke="#2a2aff" stroke-width="0.95"/>
<path d="M288.53,62.79L290.68,66.69L286.38,66.69Z" fill="none" stroke="#2a2aff" stroke-width="0.95"/>
<path d="M291.45,61.42L293.60,65.32L289.30,65.32Z" fill="none" stroke="#2a2aff" stroke-width="0.95"/>
<path d="M294.36,58.28L296.51,62.18L292.21,62.18Z" fill="none" stroke="#2a2aff" stroke-width="0.95"/>
<path d="M297.28,51.44L299.43,55.34L295.13,55.34Z" fill="none" stroke="#2a2aff" stroke-width="0.95"/>
<path d="M300.19,38.19L302.34,42.09L298.04,42.09Z" fill="none" stroke="#2a2aff" stroke-width="0.95"/>
<path d="M303.11,28.12L305.26,32.02L300.96,32.02Z" fill="none" stroke="#2a2aff" stroke-width="0.95"/>
<path d="M306.02,31.56L308.17,35.46L303.87,35.46Z" fill="none" stroke="#2a2aff" stroke-width="0.95"/>
<path d="M308.94,42.71L311.09,46.61L306.79,46.61Z" fill="none" stroke="#2a2aff" stroke-width="0.95"/>
<path d="M311.85,55.06L314.00,58.96L309.70,58.96Z" fill="none" stroke="#2a2aff" stroke-width="0.95"/>
<path d="M314.77,60.60L316.92,64.50L312.62,64.50Z" fill="none" stroke="#2a2aff" stroke-width="0.95"/>
<path d="M317.68,62.50L319.83,66.40L315.53,66.40Z" fill="none" stroke="#2a2aff" stroke-width="0.95"/>
<path d="M320.60,63.50L322.75,67.40L318.45,67.40Z" fill="none" stroke="#2a2aff" stroke-width="0.95"/>
<path d="M323.51,64.16L325.66,68.06L321.36,68.06Z" fill="none" stroke="#2a2aff" stroke-width="0.95"/>
<path d="M326.43,64.85L328.58,68.75L324.28,68.75Z" fill="none" stroke="#2a2aff" stroke-width="0.95"/>
<path d="M329.34,65.35L331.49,69.25L327.19,69.25Z" fill="none" stroke="#2a2aff" stroke-width="0.95"/>
<path d="M332.26,65.44L334.41,69.34L330.11,69.34Z" fill="none" stroke="#2a2aff" stroke-width="0.95"/>
<path d="M335.17,65.52L337.32,69.42L333.02,69.42Z" fill="none" stroke="#2a2aff" stroke-width="0.95"/>
<path d="M338.09,65.59L340.24,69.49L335.94,69.49Z" fill="none" stroke="#2a2aff" stroke-width="0.95"/>
<path d="M341.00,65.64L343.15,69.54L338.85,69.54Z" fill="none" stroke="#2a2aff" stroke-width="0.95"/>
<path d="M343.92,65.68L346.07,69.58L341.77,69.58Z" fill="none" stroke="#2a2aff" stroke-width="0.95"/>
<path d="M346.83,65.71L348.98,69.61L344.68,69.61Z" fill="none" stroke="#2a2aff" stroke-width="0.95"/>
<path d="M349.75,65.73L351.90,69.63L347.60,69.63Z" fill="none" stroke="#2a2aff" stroke-width="0.95"/>
<path d="M352.66,65.75L354.81,69.65L350.51,69.65Z" fill="none" stroke="#2a2aff" stroke-width="0.95"/>
<polyline points="212.74,69.90 215.65,69.90 218.57,69.91 221.48,69.91 224.40,69.92 227.31,69.93 230.23,69.94 233.14,69.95 236.06,69.97 238.97,69.99 241.89,70.02 244.80,70.05 247.72,70.09 250.63,70.13 253.55,70.17 256.46,70.52 259.38,72.15 262.29,73.86 265.21,70.87 268.12,70.40 271.04,70.36 273.95,70.33 276.87,70.31 279.78,70.30 282.70,70.30 285.62,70.30 288.53,70.31 291.45,70.33 294.36,70.36 297.28,70.40 300.19,70.87 303.11,73.86 306.02,72.15 308.94,70.52 311.85,70.17 314.77,70.13 317.68,70.09 320.60,70.05 323.51,70.02 326.43,69.99 329.34,69.97 332.26,69.95 335.17,69.94 338.09,69.93 341.00,69.92 343.92,69.91 346.83,69.91 349.75,69.90 352.66,69.90" fill="none" stroke="#ff3aff" stroke-width="1.2" stroke-dasharray="2.4,1.4"/>
<path d="M212.74,71.85L214.89,67.95L210.59,67.95Z" fill="none" stroke="#ff1aff" stroke-width="0.95"/>
<path d="M215.65,71.85L217.80,67.95L213.50,67.95Z" fill="none" stroke="#ff1aff" stroke-width="0.95"/>
<path d="M218.57,71.86L220.72,67.96L216.42,67.96Z" fill="none" stroke="#ff1aff" stroke-width="0.95"/>
<path d="M221.48,71.86L223.63,67.96L219.33,67.96Z" fill="none" stroke="#ff1aff" stroke-width="0.95"/>
<path d="M224.40,71.87L226.55,67.97L222.25,67.97Z" fill="none" stroke="#ff1aff" stroke-width="0.95"/>
<path d="M227.31,71.88L229.46,67.98L225.16,67.98Z" fill="none" stroke="#ff1aff" stroke-width="0.95"/>
<path d="M230.23,71.89L232.38,67.99L228.08,67.99Z" fill="none" stroke="#ff1aff" stroke-width="0.95"/>
<path d="M233.14,71.90L235.29,68.00L230.99,68.00Z" fill="none" stroke="#ff1aff" stroke-width="0.95"/>
<path d="M236.06,71.92L238.21,68.02L233.91,68.02Z" fill="none" stroke="#ff1aff" stroke-width="0.95"/>
<path d="M238.97,71.94L241.12,68.04L236.82,68.04Z" fill="none" stroke="#ff1aff" stroke-width="0.95"/>
<path d="M241.89,71.97L244.04,68.07L239.74,68.07Z" fill="none" stroke="#ff1aff" stroke-width="0.95"/>
<path d="M244.80,72.00L246.95,68.10L242.65,68.10Z" fill="none" stroke="#ff1aff" stroke-width="0.95"/>
<path d="M247.72,72.04L249.87,68.14L245.57,68.14Z" fill="none" stroke="#ff1aff" stroke-width="0.95"/>
<path d="M250.63,72.08L252.78,68.18L248.48,68.18Z" fill="none" stroke="#ff1aff" stroke-width="0.95"/>
<path d="M253.55,72.12L255.70,68.22L251.40,68.22Z" fill="none" stroke="#ff1aff" stroke-width="0.95"/>
<path d="M256.46,72.47L258.61,68.57L254.31,68.57Z" fill="none" stroke="#ff1aff" stroke-width="0.95"/>
<path d="M259.38,74.10L261.53,70.20L257.23,70.20Z" fill="none" stroke="#ff1aff" stroke-width="0.95"/>
<path d="M262.29,75.81L264.44,71.91L260.14,71.91Z" fill="none" stroke="#ff1aff" stroke-width="0.95"/>
<path d="M265.21,72.82L267.36,68.92L263.06,68.92Z" fill="none" stroke="#ff1aff" stroke-width="0.95"/>
<path d="M268.12,72.35L270.27,68.45L265.97,68.45Z" fill="none" stroke="#ff1aff" stroke-width="0.95"/>
<path d="M271.04,72.31L273.19,68.41L268.89,68.41Z" fill="none" stroke="#ff1aff" stroke-width="0.95"/>
<path d="M273.95,72.28L276.10,68.38L271.80,68.38Z" fill="none" stroke="#ff1aff" stroke-width="0.95"/>
<path d="M276.87,72.26L279.02,68.36L274.72,68.36Z" fill="none" stroke="#ff1aff" stroke-width="0.95"/>
<path d="M279.78,72.25L281.93,68.35L277.63,68.35Z" fill="none" stroke="#ff1aff" stroke-width="0.95"/>
<path d="M282.70,72.25L284.85,68.35L280.55,68.35Z" fill="none" stroke="#ff1aff" stroke-width="0.95"/>
<path d="M285.62,72.25L287.77,68.35L283.47,68.35Z" fill="none" stroke="#ff1aff" stroke-width="0.95"/>
<path d="M288.53,72.26L290.68,68.36L286.38,68.36Z" fill="none" stroke="#ff1aff" stroke-width="0.95"/>
<path d="M291.45,72.28L293.60,68.38L289.30,68.38Z" fill="none" stroke="#ff1aff" stroke-width="0.95"/>
<path d="M294.36,72.31L296.51,68.41L292.21,68.41Z" fill="none" stroke="#ff1aff" stroke-width="0.95"/>
<path d="M297.28,72.35L299.43,68.45L295.13,68.45Z" fill="none" stroke="#ff1aff" stroke-width="0.95"/>
<path d="M300.19,72.82L302.34,68.92L298.04,68.92Z" fill="none" stroke="#ff1aff" stroke-width="0.95"/>
<path d="M303.11,75.81L305.26,71.91L300.96,71.91Z" fill="none" stroke="#ff1aff" stroke-width="0.95"/>
<path d="M306.02,74.10L308.17,70.20L303.87,70.20Z" fill="none" stroke="#ff1aff" stroke-width="0.95"/>
<path d="M308.94,72.47L311.09,68.57L306.79,68.57Z" fill="none" stroke="#ff1aff" stroke-width="0.95"/>
<path d="M311.85,72.12L314.00,68.22L309.70,68.22Z" fill="none" stroke="#ff1aff" stroke-width="0.95"/>
<path d="M314.77,72.08L316.92,68.18L312.62,68.18Z" fill="none" stroke="#ff1aff" stroke-width="0.95"/>
<path d="M317.68,72.04L319.83,68.14L315.53,68.14Z" fill="none" stroke="#ff1aff" stroke-width="0.95"/>
<path d="M320.60,72.00L322.75,68.10L318.45,68.10Z" fill="none" stroke="#ff1aff" stroke-width="0.95"/>
<path d="M323.51,71.97L325.66,68.07L321.36,68.07Z" fill="none" stroke="#ff1aff" stroke-width="0.95"/>
<path d="M326.43,71.94L328.58,68.04L324.28,68.04Z" fill="none" stroke="#ff1aff" stroke-width="0.95"/>
<path d="M329.34,71.92L331.49,68.02L327.19,68.02Z" fill="none" stroke="#ff1aff" stroke-width="0.95"/>
<path d="M332.26,71.90L334.41,68.00L330.11,68.00Z" fill="none" stroke="#ff1aff" stroke-width="0.95"/>
<path d="M335.17,71.89L337.32,67.99L333.02,67.99Z" fill="none" stroke="#ff1aff" stroke-width="0.95"/>
<path d="M338.09,71.88L340.24,67.98L335.94,67.98Z" fill="none" stroke="#ff1aff" stroke-width="0.95"/>
<path d="M341.00,71.87L343.15,67.97L338.85,67.97Z" fill="none" stroke="#ff1aff" stroke-width="0.95"/>
<path d="M343.92,71.86L346.07,67.96L341.77,67.96Z" fill="none" stroke="#ff1aff" stroke-width="0.95"/>
<path d="M346.83,71.86L348.98,67.96L344.68,67.96Z" fill="none" stroke="#ff1aff" stroke-width="0.95"/>
<path d="M349.75,71.85L351.90,67.95L347.60,67.95Z" fill="none" stroke="#ff1aff" stroke-width="0.95"/>
<path d="M352.66,71.85L354.81,67.95L350.51,67.95Z" fill="none" stroke="#ff1aff" stroke-width="0.95"/>
<polyline points="365.49,70.16 368.37,70.07 371.24,70.00 374.11,69.95 376.99,69.92 379.86,69.91 382.73,69.90 385.61,69.90 388.48,69.92 391.35,70.01 394.23,70.17 397.10,70.41 399.97,70.71 402.84,71.24 405.72,72.56 408.59,74.48 411.46,76.55 414.34,79.37 417.21,78.48 420.08,77.75 422.96,77.38 425.83,77.30 428.70,77.30 431.58,77.30 434.45,77.30 437.32,77.30 440.20,77.30 443.07,77.30 445.94,77.38 448.82,77.75 451.69,78.48 454.56,79.37 457.44,76.55 460.31,74.48 463.18,72.56 466.06,71.24 468.93,70.71 471.80,70.41 474.67,70.17 477.55,70.01 480.42,69.92 483.29,69.90 486.17,69.90 489.04,69.91 491.91,69.92 494.79,69.95 497.66,70.00 500.53,70.07 503.41,70.16" fill="none" stroke="#3a3a3a" stroke-width="0.9" stroke-dasharray="2.2,1.3,0.8,1.3"/>
<rect x="363.89" y="68.56" width="3.2" height="3.2" fill="none" stroke="#3a3a3a" stroke-width="0.85"/>
<rect x="366.77" y="68.47" width="3.2" height="3.2" fill="none" stroke="#3a3a3a" stroke-width="0.85"/>
<rect x="369.64" y="68.40" width="3.2" height="3.2" fill="none" stroke="#3a3a3a" stroke-width="0.85"/>
<rect x="372.51" y="68.35" width="3.2" height="3.2" fill="none" stroke="#3a3a3a" stroke-width="0.85"/>
<rect x="375.39" y="68.32" width="3.2" height="3.2" fill="none" stroke="#3a3a3a" stroke-width="0.85"/>
<rect x="378.26" y="68.31" width="3.2" height="3.2" fill="none" stroke="#3a3a3a" stroke-width="0.85"/>
<rect x="381.13" y="68.30" width="3.2" height="3.2" fill="none" stroke="#3a3a3a" stroke-width="0.85"/>
<rect x="384.01" y="68.30" width="3.2" height="3.2" fill="none" stroke="#3a3a3a" stroke-width="0.85"/>
<rect x="386.88" y="68.32" width="3.2" height="3.2" fill="none" stroke="#3a3a3a" stroke-width="0.85"/>
<rect x="389.75" y="68.41" width="3.2" height="3.2" fill="none" stroke="#3a3a3a" stroke-width="0.85"/>
<rect x="392.63" y="68.57" width="3.2" height="3.2" fill="none" stroke="#3a3a3a" stroke-width="0.85"/>
<rect x="395.50" y="68.81" width="3.2" height="3.2" fill="none" stroke="#3a3a3a" stroke-width="0.85"/>
<rect x="398.37" y="69.11" width="3.2" height="3.2" fill="none" stroke="#3a3a3a" stroke-width="0.85"/>
<rect x="401.24" y="69.64" width="3.2" height="3.2" fill="none" stroke="#3a3a3a" stroke-width="0.85"/>
<rect x="404.12" y="70.96" width="3.2" height="3.2" fill="none" stroke="#3a3a3a" stroke-width="0.85"/>
<rect x="406.99" y="72.88" width="3.2" height="3.2" fill="none" stroke="#3a3a3a" stroke-width="0.85"/>
<rect x="409.86" y="74.95" width="3.2" height="3.2" fill="none" stroke="#3a3a3a" stroke-width="0.85"/>
<rect x="412.74" y="77.77" width="3.2" height="3.2" fill="none" stroke="#3a3a3a" stroke-width="0.85"/>
<rect x="415.61" y="76.88" width="3.2" height="3.2" fill="none" stroke="#3a3a3a" stroke-width="0.85"/>
<rect x="418.48" y="76.15" width="3.2" height="3.2" fill="none" stroke="#3a3a3a" stroke-width="0.85"/>
<rect x="421.36" y="75.78" width="3.2" height="3.2" fill="none" stroke="#3a3a3a" stroke-width="0.85"/>
<rect x="424.23" y="75.70" width="3.2" height="3.2" fill="none" stroke="#3a3a3a" stroke-width="0.85"/>
<rect x="427.10" y="75.70" width="3.2" height="3.2" fill="none" stroke="#3a3a3a" stroke-width="0.85"/>
<rect x="429.98" y="75.70" width="3.2" height="3.2" fill="none" stroke="#3a3a3a" stroke-width="0.85"/>
<rect x="432.85" y="75.70" width="3.2" height="3.2" fill="none" stroke="#3a3a3a" stroke-width="0.85"/>
<rect x="435.72" y="75.70" width="3.2" height="3.2" fill="none" stroke="#3a3a3a" stroke-width="0.85"/>
<rect x="438.60" y="75.70" width="3.2" height="3.2" fill="none" stroke="#3a3a3a" stroke-width="0.85"/>
<rect x="441.47" y="75.70" width="3.2" height="3.2" fill="none" stroke="#3a3a3a" stroke-width="0.85"/>
<rect x="444.34" y="75.78" width="3.2" height="3.2" fill="none" stroke="#3a3a3a" stroke-width="0.85"/>
<rect x="447.22" y="76.15" width="3.2" height="3.2" fill="none" stroke="#3a3a3a" stroke-width="0.85"/>
<rect x="450.09" y="76.88" width="3.2" height="3.2" fill="none" stroke="#3a3a3a" stroke-width="0.85"/>
<rect x="452.96" y="77.77" width="3.2" height="3.2" fill="none" stroke="#3a3a3a" stroke-width="0.85"/>
<rect x="455.84" y="74.95" width="3.2" height="3.2" fill="none" stroke="#3a3a3a" stroke-width="0.85"/>
<rect x="458.71" y="72.88" width="3.2" height="3.2" fill="none" stroke="#3a3a3a" stroke-width="0.85"/>
<rect x="461.58" y="70.96" width="3.2" height="3.2" fill="none" stroke="#3a3a3a" stroke-width="0.85"/>
<rect x="464.46" y="69.64" width="3.2" height="3.2" fill="none" stroke="#3a3a3a" stroke-width="0.85"/>
<rect x="467.33" y="69.11" width="3.2" height="3.2" fill="none" stroke="#3a3a3a" stroke-width="0.85"/>
<rect x="470.20" y="68.81" width="3.2" height="3.2" fill="none" stroke="#3a3a3a" stroke-width="0.85"/>
<rect x="473.07" y="68.57" width="3.2" height="3.2" fill="none" stroke="#3a3a3a" stroke-width="0.85"/>
<rect x="475.95" y="68.41" width="3.2" height="3.2" fill="none" stroke="#3a3a3a" stroke-width="0.85"/>
<rect x="478.82" y="68.32" width="3.2" height="3.2" fill="none" stroke="#3a3a3a" stroke-width="0.85"/>
<rect x="481.69" y="68.30" width="3.2" height="3.2" fill="none" stroke="#3a3a3a" stroke-width="0.85"/>
<rect x="484.57" y="68.30" width="3.2" height="3.2" fill="none" stroke="#3a3a3a" stroke-width="0.85"/>
<rect x="487.44" y="68.31" width="3.2" height="3.2" fill="none" stroke="#3a3a3a" stroke-width="0.85"/>
<rect x="490.31" y="68.32" width="3.2" height="3.2" fill="none" stroke="#3a3a3a" stroke-width="0.85"/>
<rect x="493.19" y="68.35" width="3.2" height="3.2" fill="none" stroke="#3a3a3a" stroke-width="0.85"/>
<rect x="496.06" y="68.40" width="3.2" height="3.2" fill="none" stroke="#3a3a3a" stroke-width="0.85"/>
<rect x="498.93" y="68.47" width="3.2" height="3.2" fill="none" stroke="#3a3a3a" stroke-width="0.85"/>
<rect x="501.81" y="68.56" width="3.2" height="3.2" fill="none" stroke="#3a3a3a" stroke-width="0.85"/>
<polyline points="365.49,71.60 368.37,71.61 371.24,71.62 374.11,71.64 376.99,71.67 379.86,71.70 382.73,71.74 385.61,71.79 388.48,71.91 391.35,72.24 394.23,72.64 397.10,73.16 399.97,74.21 402.84,76.54 405.72,80.88 408.59,89.19 411.46,96.82 414.34,99.99 417.21,94.18 420.08,85.06 422.96,78.61 425.83,75.53 428.70,74.25 431.58,73.68 434.45,73.60 437.32,73.68 440.20,74.25 443.07,75.53 445.94,78.61 448.82,85.06 451.69,94.18 454.56,99.99 457.44,96.82 460.31,89.19 463.18,80.88 466.06,76.54 468.93,74.21 471.80,73.16 474.67,72.64 477.55,72.24 480.42,71.91 483.29,71.79 486.17,71.74 489.04,71.70 491.91,71.67 494.79,71.64 497.66,71.62 500.53,71.61 503.41,71.60" fill="none" stroke="#ff4a4a" stroke-width="0.8" stroke-dasharray="1,0.9"/>
<circle cx="365.49" cy="71.60" r="1.75" fill="none" stroke="#ff2a2a" stroke-width="0.95"/>
<circle cx="368.37" cy="71.61" r="1.75" fill="none" stroke="#ff2a2a" stroke-width="0.95"/>
<circle cx="371.24" cy="71.62" r="1.75" fill="none" stroke="#ff2a2a" stroke-width="0.95"/>
<circle cx="374.11" cy="71.64" r="1.75" fill="none" stroke="#ff2a2a" stroke-width="0.95"/>
<circle cx="376.99" cy="71.67" r="1.75" fill="none" stroke="#ff2a2a" stroke-width="0.95"/>
<circle cx="379.86" cy="71.70" r="1.75" fill="none" stroke="#ff2a2a" stroke-width="0.95"/>
<circle cx="382.73" cy="71.74" r="1.75" fill="none" stroke="#ff2a2a" stroke-width="0.95"/>
<circle cx="385.61" cy="71.79" r="1.75" fill="none" stroke="#ff2a2a" stroke-width="0.95"/>
<circle cx="388.48" cy="71.91" r="1.75" fill="none" stroke="#ff2a2a" stroke-width="0.95"/>
<circle cx="391.35" cy="72.24" r="1.75" fill="none" stroke="#ff2a2a" stroke-width="0.95"/>
<circle cx="394.23" cy="72.64" r="1.75" fill="none" stroke="#ff2a2a" stroke-width="0.95"/>
<circle cx="397.10" cy="73.16" r="1.75" fill="none" stroke="#ff2a2a" stroke-width="0.95"/>
<circle cx="399.97" cy="74.21" r="1.75" fill="none" stroke="#ff2a2a" stroke-width="0.95"/>
<circle cx="402.84" cy="76.54" r="1.75" fill="none" stroke="#ff2a2a" stroke-width="0.95"/>
<circle cx="405.72" cy="80.88" r="1.75" fill="none" stroke="#ff2a2a" stroke-width="0.95"/>
<circle cx="408.59" cy="89.19" r="1.75" fill="none" stroke="#ff2a2a" stroke-width="0.95"/>
<circle cx="411.46" cy="96.82" r="1.75" fill="none" stroke="#ff2a2a" stroke-width="0.95"/>
<circle cx="414.34" cy="99.99" r="1.75" fill="none" stroke="#ff2a2a" stroke-width="0.95"/>
<circle cx="417.21" cy="94.18" r="1.75" fill="none" stroke="#ff2a2a" stroke-width="0.95"/>
<circle cx="420.08" cy="85.06" r="1.75" fill="none" stroke="#ff2a2a" stroke-width="0.95"/>
<circle cx="422.96" cy="78.61" r="1.75" fill="none" stroke="#ff2a2a" stroke-width="0.95"/>
<circle cx="425.83" cy="75.53" r="1.75" fill="none" stroke="#ff2a2a" stroke-width="0.95"/>
<circle cx="428.70" cy="74.25" r="1.75" fill="none" stroke="#ff2a2a" stroke-width="0.95"/>
<circle cx="431.58" cy="73.68" r="1.75" fill="none" stroke="#ff2a2a" stroke-width="0.95"/>
<circle cx="434.45" cy="73.60" r="1.75" fill="none" stroke="#ff2a2a" stroke-width="0.95"/>
<circle cx="437.32" cy="73.68" r="1.75" fill="none" stroke="#ff2a2a" stroke-width="0.95"/>
<circle cx="440.20" cy="74.25" r="1.75" fill="none" stroke="#ff2a2a" stroke-width="0.95"/>
<circle cx="443.07" cy="75.53" r="1.75" fill="none" stroke="#ff2a2a" stroke-width="0.95"/>
<circle cx="445.94" cy="78.61" r="1.75" fill="none" stroke="#ff2a2a" stroke-width="0.95"/>
<circle cx="448.82" cy="85.06" r="1.75" fill="none" stroke="#ff2a2a" stroke-width="0.95"/>
<circle cx="451.69" cy="94.18" r="1.75" fill="none" stroke="#ff2a2a" stroke-width="0.95"/>
<circle cx="454.56" cy="99.99" r="1.75" fill="none" stroke="#ff2a2a" stroke-width="0.95"/>
<circle cx="457.44" cy="96.82" r="1.75" fill="none" stroke="#ff2a2a" stroke-width="0.95"/>
<circle cx="460.31" cy="89.19" r="1.75" fill="none" stroke="#ff2a2a" stroke-width="0.95"/>
<circle cx="463.18" cy="80.88" r="1.75" fill="none" stroke="#ff2a2a" stroke-width="0.95"/>
<circle cx="466.06" cy="76.54" r="1.75" fill="none" stroke="#ff2a2a" stroke-width="0.95"/>
<circle cx="468.93" cy="74.21" r="1.75" fill="none" stroke="#ff2a2a" stroke-width="0.95"/>
<circle cx="471.80" cy="73.16" r="1.75" fill="none" stroke="#ff2a2a" stroke-width="0.95"/>
<circle cx="474.67" cy="72.64" r="1.75" fill="none" stroke="#ff2a2a" stroke-width="0.95"/>
<circle cx="477.55" cy="72.24" r="1.75" fill="none" stroke="#ff2a2a" stroke-width="0.95"/>
<circle cx="480.42" cy="71.91" r="1.75" fill="none" stroke="#ff2a2a" stroke-width="0.95"/>
<circle cx="483.29" cy="71.79" r="1.75" fill="none" stroke="#ff2a2a" stroke-width="0.95"/>
<circle cx="486.17" cy="71.74" r="1.75" fill="none" stroke="#ff2a2a" stroke-width="0.95"/>
<circle cx="489.04" cy="71.70" r="1.75" fill="none" stroke="#ff2a2a" stroke-width="0.95"/>
<circle cx="491.91" cy="71.67" r="1.75" fill="none" stroke="#ff2a2a" stroke-width="0.95"/>
<circle cx="494.79" cy="71.64" r="1.75" fill="none" stroke="#ff2a2a" stroke-width="0.95"/>
<circle cx="497.66" cy="71.62" r="1.75" fill="none" stroke="#ff2a2a" stroke-width="0.95"/>
<circle cx="500.53" cy="71.61" r="1.75" fill="none" stroke="#ff2a2a" stroke-width="0.95"/>
<circle cx="503.41" cy="71.60" r="1.75" fill="none" stroke="#ff2a2a" stroke-width="0.95"/>
<polyline points="365.49,67.50 368.37,67.49 371.24,67.47 374.11,67.45 376.99,67.43 379.86,67.40 382.73,67.36 385.61,67.31 388.48,67.23 391.35,67.01 394.23,66.63 397.10,66.10 399.97,64.84 402.84,62.30 405.72,59.01 408.59,51.17 411.46,42.67 414.34,39.91 417.21,45.98 420.08,55.28 422.96,61.15 425.83,64.74 428.70,66.23 431.58,66.71 434.45,67.00 437.32,66.71 440.20,66.23 443.07,64.74 445.94,61.15 448.82,55.28 451.69,45.98 454.56,39.91 457.44,42.67 460.31,51.17 463.18,59.01 466.06,62.30 468.93,64.84 471.80,66.10 474.67,66.63 477.55,67.01 480.42,67.23 483.29,67.31 486.17,67.36 489.04,67.40 491.91,67.43 494.79,67.45 497.66,67.47 500.53,67.49 503.41,67.50" fill="none" stroke="#3a3aff" stroke-width="1.4" stroke-dasharray="2.4,1.4"/>
<path d="M365.49,65.55L367.64,69.45L363.34,69.45Z" fill="none" stroke="#2a2aff" stroke-width="0.95"/>
<path d="M368.37,65.54L370.52,69.44L366.22,69.44Z" fill="none" stroke="#2a2aff" stroke-width="0.95"/>
<path d="M371.24,65.52L373.39,69.42L369.09,69.42Z" fill="none" stroke="#2a2aff" stroke-width="0.95"/>
<path d="M374.11,65.50L376.26,69.40L371.96,69.40Z" fill="none" stroke="#2a2aff" stroke-width="0.95"/>
<path d="M376.99,65.48L379.14,69.38L374.84,69.38Z" fill="none" stroke="#2a2aff" stroke-width="0.95"/>
<path d="M379.86,65.45L382.01,69.35L377.71,69.35Z" fill="none" stroke="#2a2aff" stroke-width="0.95"/>
<path d="M382.73,65.41L384.88,69.31L380.58,69.31Z" fill="none" stroke="#2a2aff" stroke-width="0.95"/>
<path d="M385.61,65.36L387.76,69.26L383.46,69.26Z" fill="none" stroke="#2a2aff" stroke-width="0.95"/>
<path d="M388.48,65.28L390.63,69.18L386.33,69.18Z" fill="none" stroke="#2a2aff" stroke-width="0.95"/>
<path d="M391.35,65.06L393.50,68.96L389.20,68.96Z" fill="none" stroke="#2a2aff" stroke-width="0.95"/>
<path d="M394.23,64.68L396.38,68.58L392.08,68.58Z" fill="none" stroke="#2a2aff" stroke-width="0.95"/>
<path d="M397.10,64.15L399.25,68.05L394.95,68.05Z" fill="none" stroke="#2a2aff" stroke-width="0.95"/>
<path d="M399.97,62.89L402.12,66.79L397.82,66.79Z" fill="none" stroke="#2a2aff" stroke-width="0.95"/>
<path d="M402.84,60.35L404.99,64.25L400.69,64.25Z" fill="none" stroke="#2a2aff" stroke-width="0.95"/>
<path d="M405.72,57.06L407.87,60.96L403.57,60.96Z" fill="none" stroke="#2a2aff" stroke-width="0.95"/>
<path d="M408.59,49.22L410.74,53.12L406.44,53.12Z" fill="none" stroke="#2a2aff" stroke-width="0.95"/>
<path d="M411.46,40.72L413.61,44.62L409.31,44.62Z" fill="none" stroke="#2a2aff" stroke-width="0.95"/>
<path d="M414.34,37.96L416.49,41.86L412.19,41.86Z" fill="none" stroke="#2a2aff" stroke-width="0.95"/>
<path d="M417.21,44.03L419.36,47.93L415.06,47.93Z" fill="none" stroke="#2a2aff" stroke-width="0.95"/>
<path d="M420.08,53.33L422.23,57.23L417.93,57.23Z" fill="none" stroke="#2a2aff" stroke-width="0.95"/>
<path d="M422.96,59.20L425.11,63.10L420.81,63.10Z" fill="none" stroke="#2a2aff" stroke-width="0.95"/>
<path d="M425.83,62.79L427.98,66.69L423.68,66.69Z" fill="none" stroke="#2a2aff" stroke-width="0.95"/>
<path d="M428.70,64.28L430.85,68.18L426.55,68.18Z" fill="none" stroke="#2a2aff" stroke-width="0.95"/>
<path d="M431.58,64.76L433.73,68.66L429.43,68.66Z" fill="none" stroke="#2a2aff" stroke-width="0.95"/>
<path d="M434.45,65.05L436.60,68.95L432.30,68.95Z" fill="none" stroke="#2a2aff" stroke-width="0.95"/>
<path d="M437.32,64.76L439.47,68.66L435.17,68.66Z" fill="none" stroke="#2a2aff" stroke-width="0.95"/>
<path d="M440.20,64.28L442.35,68.18L438.05,68.18Z" fill="none" stroke="#2a2aff" stroke-width="0.95"/>
<path d="M443.07,62.79L445.22,66.69L440.92,66.69Z" fill="none" stroke="#2a2aff" stroke-width="0.95"/>
<path d="M445.94,59.20L448.09,63.10L443.79,63.10Z" fill="none" stroke="#2a2aff" stroke-width="0.95"/>
<path d="M448.82,53.33L450.97,57.23L446.67,57.23Z" fill="none" stroke="#2a2aff" stroke-width="0.95"/>
<path d="M451.69,44.03L453.84,47.93L449.54,47.93Z" fill="none" stroke="#2a2aff" stroke-width="0.95"/>
<path d="M454.56,37.96L456.71,41.86L452.41,41.86Z" fill="none" stroke="#2a2aff" stroke-width="0.95"/>
<path d="M457.44,40.72L459.59,44.62L455.29,44.62Z" fill="none" stroke="#2a2aff" stroke-width="0.95"/>
<path d="M460.31,49.22L462.46,53.12L458.16,53.12Z" fill="none" stroke="#2a2aff" stroke-width="0.95"/>
<path d="M463.18,57.06L465.33,60.96L461.03,60.96Z" fill="none" stroke="#2a2aff" stroke-width="0.95"/>
<path d="M466.06,60.35L468.21,64.25L463.91,64.25Z" fill="none" stroke="#2a2aff" stroke-width="0.95"/>
<path d="M468.93,62.89L471.08,66.79L466.78,66.79Z" fill="none" stroke="#2a2aff" stroke-width="0.95"/>
<path d="M471.80,64.15L473.95,68.05L469.65,68.05Z" fill="none" stroke="#2a2aff" stroke-width="0.95"/>
<path d="M474.67,64.68L476.82,68.58L472.52,68.58Z" fill="none" stroke="#2a2aff" stroke-width="0.95"/>
<path d="M477.55,65.06L479.70,68.96L475.40,68.96Z" fill="none" stroke="#2a2aff" stroke-width="0.95"/>
<path d="M480.42,65.28L482.57,69.18L478.27,69.18Z" fill="none" stroke="#2a2aff" stroke-width="0.95"/>
<path d="M483.29,65.36L485.44,69.26L481.14,69.26Z" fill="none" stroke="#2a2aff" stroke-width="0.95"/>
<path d="M486.17,65.41L488.32,69.31L484.02,69.31Z" fill="none" stroke="#2a2aff" stroke-width="0.95"/>
<path d="M489.04,65.45L491.19,69.35L486.89,69.35Z" fill="none" stroke="#2a2aff" stroke-width="0.95"/>
<path d="M491.91,65.48L494.06,69.38L489.76,69.38Z" fill="none" stroke="#2a2aff" stroke-width="0.95"/>
<path d="M494.79,65.50L496.94,69.40L492.64,69.40Z" fill="none" stroke="#2a2aff" stroke-width="0.95"/>
<path d="M497.66,65.52L499.81,69.42L495.51,69.42Z" fill="none" stroke="#2a2aff" stroke-width="0.95"/>
<path d="M500.53,65.54L502.68,69.44L498.38,69.44Z" fill="none" stroke="#2a2aff" stroke-width="0.95"/>
<path d="M503.41,65.55L505.56,69.45L501.26,69.45Z" fill="none" stroke="#2a2aff" stroke-width="0.95"/>
<polyline points="365.49,70.50 368.37,70.50 371.24,70.50 374.11,70.51 376.99,70.51 379.86,70.52 382.73,70.53 385.61,70.54 388.48,70.56 391.35,70.58 394.23,70.60 397.10,70.62 399.97,70.65 402.84,70.68 405.72,70.74 408.59,71.25 411.46,71.90 414.34,72.50 417.21,71.57 420.08,70.83 422.96,70.58 425.83,70.54 428.70,70.52 431.58,70.50 434.45,70.50 437.32,70.50 440.20,70.52 443.07,70.54 445.94,70.58 448.82,70.83 451.69,71.57 454.56,72.50 457.44,71.90 460.31,71.25 463.18,70.74 466.06,70.68 468.93,70.65 471.80,70.62 474.67,70.60 477.55,70.58 480.42,70.56 483.29,70.54 486.17,70.53 489.04,70.52 491.91,70.51 494.79,70.51 497.66,70.50 500.53,70.50 503.41,70.50" fill="none" stroke="#ff3aff" stroke-width="1.2" stroke-dasharray="2.4,1.4"/>
<path d="M365.49,72.45L367.64,68.55L363.34,68.55Z" fill="none" stroke="#ff1aff" stroke-width="0.95"/>
<path d="M368.37,72.45L370.52,68.55L366.22,68.55Z" fill="none" stroke="#ff1aff" stroke-width="0.95"/>
<path d="M371.24,72.45L373.39,68.55L369.09,68.55Z" fill="none" stroke="#ff1aff" stroke-width="0.95"/>
<path d="M374.11,72.46L376.26,68.56L371.96,68.56Z" fill="none" stroke="#ff1aff" stroke-width="0.95"/>
<path d="M376.99,72.46L379.14,68.56L374.84,68.56Z" fill="none" stroke="#ff1aff" stroke-width="0.95"/>
<path d="M379.86,72.47L382.01,68.57L377.71,68.57Z" fill="none" stroke="#ff1aff" stroke-width="0.95"/>
<path d="M382.73,72.48L384.88,68.58L380.58,68.58Z" fill="none" stroke="#ff1aff" stroke-width="0.95"/>
<path d="M385.61,72.49L387.76,68.59L383.46,68.59Z" fill="none" stroke="#ff1aff" stroke-width="0.95"/>
<path d="M388.48,72.51L390.63,68.61L386.33,68.61Z" fill="none" stroke="#ff1aff" stroke-width="0.95"/>
<path d="M391.35,72.53L393.50,68.63L389.20,68.63Z" fill="none" stroke="#ff1aff" stroke-width="0.95"/>
<path d="M394.23,72.55L396.38,68.65L392.08,68.65Z" fill="none" stroke="#ff1aff" stroke-width="0.95"/>
<path d="M397.10,72.57L399.25,68.67L394.95,68.67Z" fill="none" stroke="#ff1aff" stroke-width="0.95"/>
<path d="M399.97,72.60L402.12,68.70L397.82,68.70Z" fill="none" stroke="#ff1aff" stroke-width="0.95"/>
<path d="M402.84,72.63L404.99,68.73L400.69,68.73Z" fill="none" stroke="#ff1aff" stroke-width="0.95"/>
<path d="M405.72,72.69L407.87,68.79L403.57,68.79Z" fill="none" stroke="#ff1aff" stroke-width="0.95"/>
<path d="M408.59,73.20L410.74,69.30L406.44,69.30Z" fill="none" stroke="#ff1aff" stroke-width="0.95"/>
<path d="M411.46,73.85L413.61,69.95L409.31,69.95Z" fill="none" stroke="#ff1aff" stroke-width="0.95"/>
<path d="M414.34,74.45L416.49,70.55L412.19,70.55Z" fill="none" stroke="#ff1aff" stroke-width="0.95"/>
<path d="M417.21,73.52L419.36,69.62L415.06,69.62Z" fill="none" stroke="#ff1aff" stroke-width="0.95"/>
<path d="M420.08,72.78L422.23,68.88L417.93,68.88Z" fill="none" stroke="#ff1aff" stroke-width="0.95"/>
<path d="M422.96,72.53L425.11,68.63L420.81,68.63Z" fill="none" stroke="#ff1aff" stroke-width="0.95"/>
<path d="M425.83,72.49L427.98,68.59L423.68,68.59Z" fill="none" stroke="#ff1aff" stroke-width="0.95"/>
<path d="M428.70,72.47L430.85,68.57L426.55,68.57Z" fill="none" stroke="#ff1aff" stroke-width="0.95"/>
<path d="M431.58,72.45L433.73,68.55L429.43,68.55Z" fill="none" stroke="#ff1aff" stroke-width="0.95"/>
<path d="M434.45,72.45L436.60,68.55L432.30,68.55Z" fill="none" stroke="#ff1aff" stroke-width="0.95"/>
<path d="M437.32,72.45L439.47,68.55L435.17,68.55Z" fill="none" stroke="#ff1aff" stroke-width="0.95"/>
<path d="M440.20,72.47L442.35,68.57L438.05,68.57Z" fill="none" stroke="#ff1aff" stroke-width="0.95"/>
<path d="M443.07,72.49L445.22,68.59L440.92,68.59Z" fill="none" stroke="#ff1aff" stroke-width="0.95"/>
<path d="M445.94,72.53L448.09,68.63L443.79,68.63Z" fill="none" stroke="#ff1aff" stroke-width="0.95"/>
<path d="M448.82,72.78L450.97,68.88L446.67,68.88Z" fill="none" stroke="#ff1aff" stroke-width="0.95"/>
<path d="M451.69,73.52L453.84,69.62L449.54,69.62Z" fill="none" stroke="#ff1aff" stroke-width="0.95"/>
<path d="M454.56,74.45L456.71,70.55L452.41,70.55Z" fill="none" stroke="#ff1aff" stroke-width="0.95"/>
<path d="M457.44,73.85L459.59,69.95L455.29,69.95Z" fill="none" stroke="#ff1aff" stroke-width="0.95"/>
<path d="M460.31,73.20L462.46,69.30L458.16,69.30Z" fill="none" stroke="#ff1aff" stroke-width="0.95"/>
<path d="M463.18,72.69L465.33,68.79L461.03,68.79Z" fill="none" stroke="#ff1aff" stroke-width="0.95"/>
<path d="M466.06,72.63L468.21,68.73L463.91,68.73Z" fill="none" stroke="#ff1aff" stroke-width="0.95"/>
<path d="M468.93,72.60L471.08,68.70L466.78,68.70Z" fill="none" stroke="#ff1aff" stroke-width="0.95"/>
<path d="M471.80,72.57L473.95,68.67L469.65,68.67Z" fill="none" stroke="#ff1aff" stroke-width="0.95"/>
<path d="M474.67,72.55L476.82,68.65L472.52,68.65Z" fill="none" stroke="#ff1aff" stroke-width="0.95"/>
<path d="M477.55,72.53L479.70,68.63L475.40,68.63Z" fill="none" stroke="#ff1aff" stroke-width="0.95"/>
<path d="M480.42,72.51L482.57,68.61L478.27,68.61Z" fill="none" stroke="#ff1aff" stroke-width="0.95"/>
<path d="M483.29,72.49L485.44,68.59L481.14,68.59Z" fill="none" stroke="#ff1aff" stroke-width="0.95"/>
<path d="M486.17,72.48L488.32,68.58L484.02,68.58Z" fill="none" stroke="#ff1aff" stroke-width="0.95"/>
<path d="M489.04,72.47L491.19,68.57L486.89,68.57Z" fill="none" stroke="#ff1aff" stroke-width="0.95"/>
<path d="M491.91,72.46L494.06,68.56L489.76,68.56Z" fill="none" stroke="#ff1aff" stroke-width="0.95"/>
<path d="M494.79,72.46L496.94,68.56L492.64,68.56Z" fill="none" stroke="#ff1aff" stroke-width="0.95"/>
<path d="M497.66,72.45L499.81,68.55L495.51,68.55Z" fill="none" stroke="#ff1aff" stroke-width="0.95"/>
<path d="M500.53,72.45L502.68,68.55L498.38,68.55Z" fill="none" stroke="#ff1aff" stroke-width="0.95"/>
<path d="M503.41,72.45L505.56,68.55L501.26,68.55Z" fill="none" stroke="#ff1aff" stroke-width="0.95"/>
<polyline points="515.33,71.20 518.24,71.20 521.14,71.19 524.05,71.18 526.96,71.17 529.86,71.16 532.77,71.15 535.68,71.13 538.59,71.12 541.49,71.10 544.40,71.08 547.31,71.06 550.21,71.04 553.12,71.02 556.03,70.99 558.94,70.95 561.84,70.85 564.75,69.38 567.66,66.09 570.56,64.94 573.47,64.50 576.38,64.35 579.29,64.27 582.19,64.22 585.10,64.20 588.01,64.22 590.91,64.27 593.82,64.35 596.73,64.50 599.64,64.94 602.54,66.09 605.45,69.38 608.36,70.85 611.26,70.95 614.17,70.99 617.08,71.02 619.99,71.04 622.89,71.06 625.80,71.08 628.71,71.10 631.61,71.12 634.52,71.13 637.43,71.15 640.34,71.16 643.24,71.17 646.15,71.18 649.06,71.19 651.96,71.20 654.87,71.20" fill="none" stroke="#3a3a3a" stroke-width="0.9" stroke-dasharray="2.2,1.3,0.8,1.3"/>
<rect x="513.73" y="69.60" width="3.2" height="3.2" fill="none" stroke="#3a3a3a" stroke-width="0.85"/>
<rect x="516.64" y="69.60" width="3.2" height="3.2" fill="none" stroke="#3a3a3a" stroke-width="0.85"/>
<rect x="519.54" y="69.59" width="3.2" height="3.2" fill="none" stroke="#3a3a3a" stroke-width="0.85"/>
<rect x="522.45" y="69.58" width="3.2" height="3.2" fill="none" stroke="#3a3a3a" stroke-width="0.85"/>
<rect x="525.36" y="69.57" width="3.2" height="3.2" fill="none" stroke="#3a3a3a" stroke-width="0.85"/>
<rect x="528.26" y="69.56" width="3.2" height="3.2" fill="none" stroke="#3a3a3a" stroke-width="0.85"/>
<rect x="531.17" y="69.55" width="3.2" height="3.2" fill="none" stroke="#3a3a3a" stroke-width="0.85"/>
<rect x="534.08" y="69.53" width="3.2" height="3.2" fill="none" stroke="#3a3a3a" stroke-width="0.85"/>
<rect x="536.99" y="69.52" width="3.2" height="3.2" fill="none" stroke="#3a3a3a" stroke-width="0.85"/>
<rect x="539.89" y="69.50" width="3.2" height="3.2" fill="none" stroke="#3a3a3a" stroke-width="0.85"/>
<rect x="542.80" y="69.48" width="3.2" height="3.2" fill="none" stroke="#3a3a3a" stroke-width="0.85"/>
<rect x="545.71" y="69.46" width="3.2" height="3.2" fill="none" stroke="#3a3a3a" stroke-width="0.85"/>
<rect x="548.61" y="69.44" width="3.2" height="3.2" fill="none" stroke="#3a3a3a" stroke-width="0.85"/>
<rect x="551.52" y="69.42" width="3.2" height="3.2" fill="none" stroke="#3a3a3a" stroke-width="0.85"/>
<rect x="554.43" y="69.39" width="3.2" height="3.2" fill="none" stroke="#3a3a3a" stroke-width="0.85"/>
<rect x="557.34" y="69.35" width="3.2" height="3.2" fill="none" stroke="#3a3a3a" stroke-width="0.85"/>
<rect x="560.24" y="69.25" width="3.2" height="3.2" fill="none" stroke="#3a3a3a" stroke-width="0.85"/>
<rect x="563.15" y="67.78" width="3.2" height="3.2" fill="none" stroke="#3a3a3a" stroke-width="0.85"/>
<rect x="566.06" y="64.49" width="3.2" height="3.2" fill="none" stroke="#3a3a3a" stroke-width="0.85"/>
<rect x="568.96" y="63.34" width="3.2" height="3.2" fill="none" stroke="#3a3a3a" stroke-width="0.85"/>
<rect x="571.87" y="62.90" width="3.2" height="3.2" fill="none" stroke="#3a3a3a" stroke-width="0.85"/>
<rect x="574.78" y="62.75" width="3.2" height="3.2" fill="none" stroke="#3a3a3a" stroke-width="0.85"/>
<rect x="577.69" y="62.67" width="3.2" height="3.2" fill="none" stroke="#3a3a3a" stroke-width="0.85"/>
<rect x="580.59" y="62.62" width="3.2" height="3.2" fill="none" stroke="#3a3a3a" stroke-width="0.85"/>
<rect x="583.50" y="62.60" width="3.2" height="3.2" fill="none" stroke="#3a3a3a" stroke-width="0.85"/>
<rect x="586.41" y="62.62" width="3.2" height="3.2" fill="none" stroke="#3a3a3a" stroke-width="0.85"/>
<rect x="589.31" y="62.67" width="3.2" height="3.2" fill="none" stroke="#3a3a3a" stroke-width="0.85"/>
<rect x="592.22" y="62.75" width="3.2" height="3.2" fill="none" stroke="#3a3a3a" stroke-width="0.85"/>
<rect x="595.13" y="62.90" width="3.2" height="3.2" fill="none" stroke="#3a3a3a" stroke-width="0.85"/>
<rect x="598.04" y="63.34" width="3.2" height="3.2" fill="none" stroke="#3a3a3a" stroke-width="0.85"/>
<rect x="600.94" y="64.49" width="3.2" height="3.2" fill="none" stroke="#3a3a3a" stroke-width="0.85"/>
<rect x="603.85" y="67.78" width="3.2" height="3.2" fill="none" stroke="#3a3a3a" stroke-width="0.85"/>
<rect x="606.76" y="69.25" width="3.2" height="3.2" fill="none" stroke="#3a3a3a" stroke-width="0.85"/>
<rect x="609.66" y="69.35" width="3.2" height="3.2" fill="none" stroke="#3a3a3a" stroke-width="0.85"/>
<rect x="612.57" y="69.39" width="3.2" height="3.2" fill="none" stroke="#3a3a3a" stroke-width="0.85"/>
<rect x="615.48" y="69.42" width="3.2" height="3.2" fill="none" stroke="#3a3a3a" stroke-width="0.85"/>
<rect x="618.39" y="69.44" width="3.2" height="3.2" fill="none" stroke="#3a3a3a" stroke-width="0.85"/>
<rect x="621.29" y="69.46" width="3.2" height="3.2" fill="none" stroke="#3a3a3a" stroke-width="0.85"/>
<rect x="624.20" y="69.48" width="3.2" height="3.2" fill="none" stroke="#3a3a3a" stroke-width="0.85"/>
<rect x="627.11" y="69.50" width="3.2" height="3.2" fill="none" stroke="#3a3a3a" stroke-width="0.85"/>
<rect x="630.01" y="69.52" width="3.2" height="3.2" fill="none" stroke="#3a3a3a" stroke-width="0.85"/>
<rect x="632.92" y="69.53" width="3.2" height="3.2" fill="none" stroke="#3a3a3a" stroke-width="0.85"/>
<rect x="635.83" y="69.55" width="3.2" height="3.2" fill="none" stroke="#3a3a3a" stroke-width="0.85"/>
<rect x="638.74" y="69.56" width="3.2" height="3.2" fill="none" stroke="#3a3a3a" stroke-width="0.85"/>
<rect x="641.64" y="69.57" width="3.2" height="3.2" fill="none" stroke="#3a3a3a" stroke-width="0.85"/>
<rect x="644.55" y="69.58" width="3.2" height="3.2" fill="none" stroke="#3a3a3a" stroke-width="0.85"/>
<rect x="647.46" y="69.59" width="3.2" height="3.2" fill="none" stroke="#3a3a3a" stroke-width="0.85"/>
<rect x="650.36" y="69.60" width="3.2" height="3.2" fill="none" stroke="#3a3a3a" stroke-width="0.85"/>
<rect x="653.27" y="69.60" width="3.2" height="3.2" fill="none" stroke="#3a3a3a" stroke-width="0.85"/>
<polyline points="515.33,72.00 518.24,72.00 521.14,72.01 524.05,72.01 526.96,72.02 529.86,72.03 532.77,72.05 535.68,72.06 538.59,72.08 541.49,72.11 544.40,72.23 547.31,72.45 550.21,72.79 553.12,73.51 556.03,75.44 558.94,79.32 561.84,81.86 564.75,83.03 567.66,80.47 570.56,76.53 573.47,74.72 576.38,73.59 579.29,73.14 582.19,72.96 585.10,72.90 588.01,72.96 590.91,73.14 593.82,73.59 596.73,74.72 599.64,76.53 602.54,80.47 605.45,83.03 608.36,81.86 611.26,79.32 614.17,75.44 617.08,73.51 619.99,72.79 622.89,72.45 625.80,72.23 628.71,72.11 631.61,72.08 634.52,72.06 637.43,72.05 640.34,72.03 643.24,72.02 646.15,72.01 649.06,72.01 651.96,72.00 654.87,72.00" fill="none" stroke="#ff4a4a" stroke-width="0.8" stroke-dasharray="1,0.9"/>
<circle cx="515.33" cy="72.00" r="1.75" fill="none" stroke="#ff2a2a" stroke-width="0.95"/>
<circle cx="518.24" cy="72.00" r="1.75" fill="none" stroke="#ff2a2a" stroke-width="0.95"/>
<circle cx="521.14" cy="72.01" r="1.75" fill="none" stroke="#ff2a2a" stroke-width="0.95"/>
<circle cx="524.05" cy="72.01" r="1.75" fill="none" stroke="#ff2a2a" stroke-width="0.95"/>
<circle cx="526.96" cy="72.02" r="1.75" fill="none" stroke="#ff2a2a" stroke-width="0.95"/>
<circle cx="529.86" cy="72.03" r="1.75" fill="none" stroke="#ff2a2a" stroke-width="0.95"/>
<circle cx="532.77" cy="72.05" r="1.75" fill="none" stroke="#ff2a2a" stroke-width="0.95"/>
<circle cx="535.68" cy="72.06" r="1.75" fill="none" stroke="#ff2a2a" stroke-width="0.95"/>
<circle cx="538.59" cy="72.08" r="1.75" fill="none" stroke="#ff2a2a" stroke-width="0.95"/>
<circle cx="541.49" cy="72.11" r="1.75" fill="none" stroke="#ff2a2a" stroke-width="0.95"/>
<circle cx="544.40" cy="72.23" r="1.75" fill="none" stroke="#ff2a2a" stroke-width="0.95"/>
<circle cx="547.31" cy="72.45" r="1.75" fill="none" stroke="#ff2a2a" stroke-width="0.95"/>
<circle cx="550.21" cy="72.79" r="1.75" fill="none" stroke="#ff2a2a" stroke-width="0.95"/>
<circle cx="553.12" cy="73.51" r="1.75" fill="none" stroke="#ff2a2a" stroke-width="0.95"/>
<circle cx="556.03" cy="75.44" r="1.75" fill="none" stroke="#ff2a2a" stroke-width="0.95"/>
<circle cx="558.94" cy="79.32" r="1.75" fill="none" stroke="#ff2a2a" stroke-width="0.95"/>
<circle cx="561.84" cy="81.86" r="1.75" fill="none" stroke="#ff2a2a" stroke-width="0.95"/>
<circle cx="564.75" cy="83.03" r="1.75" fill="none" stroke="#ff2a2a" stroke-width="0.95"/>
<circle cx="567.66" cy="80.47" r="1.75" fill="none" stroke="#ff2a2a" stroke-width="0.95"/>
<circle cx="570.56" cy="76.53" r="1.75" fill="none" stroke="#ff2a2a" stroke-width="0.95"/>
<circle cx="573.47" cy="74.72" r="1.75" fill="none" stroke="#ff2a2a" stroke-width="0.95"/>
<circle cx="576.38" cy="73.59" r="1.75" fill="none" stroke="#ff2a2a" stroke-width="0.95"/>
<circle cx="579.29" cy="73.14" r="1.75" fill="none" stroke="#ff2a2a" stroke-width="0.95"/>
<circle cx="582.19" cy="72.96" r="1.75" fill="none" stroke="#ff2a2a" stroke-width="0.95"/>
<circle cx="585.10" cy="72.90" r="1.75" fill="none" stroke="#ff2a2a" stroke-width="0.95"/>
<circle cx="588.01" cy="72.96" r="1.75" fill="none" stroke="#ff2a2a" stroke-width="0.95"/>
<circle cx="590.91" cy="73.14" r="1.75" fill="none" stroke="#ff2a2a" stroke-width="0.95"/>
<circle cx="593.82" cy="73.59" r="1.75" fill="none" stroke="#ff2a2a" stroke-width="0.95"/>
<circle cx="596.73" cy="74.72" r="1.75" fill="none" stroke="#ff2a2a" stroke-width="0.95"/>
<circle cx="599.64" cy="76.53" r="1.75" fill="none" stroke="#ff2a2a" stroke-width="0.95"/>
<circle cx="602.54" cy="80.47" r="1.75" fill="none" stroke="#ff2a2a" stroke-width="0.95"/>
<circle cx="605.45" cy="83.03" r="1.75" fill="none" stroke="#ff2a2a" stroke-width="0.95"/>
<circle cx="608.36" cy="81.86" r="1.75" fill="none" stroke="#ff2a2a" stroke-width="0.95"/>
<circle cx="611.26" cy="79.32" r="1.75" fill="none" stroke="#ff2a2a" stroke-width="0.95"/>
<circle cx="614.17" cy="75.44" r="1.75" fill="none" stroke="#ff2a2a" stroke-width="0.95"/>
<circle cx="617.08" cy="73.51" r="1.75" fill="none" stroke="#ff2a2a" stroke-width="0.95"/>
<circle cx="619.99" cy="72.79" r="1.75" fill="none" stroke="#ff2a2a" stroke-width="0.95"/>
<circle cx="622.89" cy="72.45" r="1.75" fill="none" stroke="#ff2a2a" stroke-width="0.95"/>
<circle cx="625.80" cy="72.23" r="1.75" fill="none" stroke="#ff2a2a" stroke-width="0.95"/>
<circle cx="628.71" cy="72.11" r="1.75" fill="none" stroke="#ff2a2a" stroke-width="0.95"/>
<circle cx="631.61" cy="72.08" r="1.75" fill="none" stroke="#ff2a2a" stroke-width="0.95"/>
<circle cx="634.52" cy="72.06" r="1.75" fill="none" stroke="#ff2a2a" stroke-width="0.95"/>
<circle cx="637.43" cy="72.05" r="1.75" fill="none" stroke="#ff2a2a" stroke-width="0.95"/>
<circle cx="640.34" cy="72.03" r="1.75" fill="none" stroke="#ff2a2a" stroke-width="0.95"/>
<circle cx="643.24" cy="72.02" r="1.75" fill="none" stroke="#ff2a2a" stroke-width="0.95"/>
<circle cx="646.15" cy="72.01" r="1.75" fill="none" stroke="#ff2a2a" stroke-width="0.95"/>
<circle cx="649.06" cy="72.01" r="1.75" fill="none" stroke="#ff2a2a" stroke-width="0.95"/>
<circle cx="651.96" cy="72.00" r="1.75" fill="none" stroke="#ff2a2a" stroke-width="0.95"/>
<circle cx="654.87" cy="72.00" r="1.75" fill="none" stroke="#ff2a2a" stroke-width="0.95"/>
<polyline points="515.33,69.40 518.24,69.39 521.14,69.38 524.05,69.37 526.96,69.35 529.86,69.33 532.77,69.30 535.68,69.27 538.59,69.23 541.49,69.18 544.40,68.98 547.31,68.72 550.21,68.35 553.12,67.45 556.03,65.01 558.94,62.16 561.84,59.14 564.75,57.81 567.66,60.01 570.56,63.98 573.47,67.09 576.38,68.41 579.29,68.86 582.19,68.90 585.10,68.90 588.01,68.90 590.91,68.86 593.82,68.41 596.73,67.09 599.64,63.98 602.54,60.01 605.45,57.81 608.36,59.14 611.26,62.16 614.17,65.01 617.08,67.45 619.99,68.35 622.89,68.72 625.80,68.98 628.71,69.18 631.61,69.23 634.52,69.27 637.43,69.30 640.34,69.33 643.24,69.35 646.15,69.37 649.06,69.38 651.96,69.39 654.87,69.40" fill="none" stroke="#3a3aff" stroke-width="1.4" stroke-dasharray="2.4,1.4"/>
<path d="M515.33,67.45L517.48,71.35L513.18,71.35Z" fill="none" stroke="#2a2aff" stroke-width="0.95"/>
<path d="M518.24,67.44L520.39,71.34L516.09,71.34Z" fill="none" stroke="#2a2aff" stroke-width="0.95"/>
<path d="M521.14,67.43L523.29,71.33L518.99,71.33Z" fill="none" stroke="#2a2aff" stroke-width="0.95"/>
<path d="M524.05,67.42L526.20,71.32L521.90,71.32Z" fill="none" stroke="#2a2aff" stroke-width="0.95"/>
<path d="M526.96,67.40L529.11,71.30L524.81,71.30Z" fill="none" stroke="#2a2aff" stroke-width="0.95"/>
<path d="M529.86,67.38L532.01,71.28L527.71,71.28Z" fill="none" stroke="#2a2aff" stroke-width="0.95"/>
<path d="M532.77,67.35L534.92,71.25L530.62,71.25Z" fill="none" stroke="#2a2aff" stroke-width="0.95"/>
<path d="M535.68,67.32L537.83,71.22L533.53,71.22Z" fill="none" stroke="#2a2aff" stroke-width="0.95"/>
<path d="M538.59,67.28L540.74,71.18L536.44,71.18Z" fill="none" stroke="#2a2aff" stroke-width="0.95"/>
<path d="M541.49,67.23L543.64,71.13L539.34,71.13Z" fill="none" stroke="#2a2aff" stroke-width="0.95"/>
<path d="M544.40,67.03L546.55,70.93L542.25,70.93Z" fill="none" stroke="#2a2aff" stroke-width="0.95"/>
<path d="M547.31,66.77L549.46,70.67L545.16,70.67Z" fill="none" stroke="#2a2aff" stroke-width="0.95"/>
<path d="M550.21,66.40L552.36,70.30L548.06,70.30Z" fill="none" stroke="#2a2aff" stroke-width="0.95"/>
<path d="M553.12,65.50L555.27,69.40L550.97,69.40Z" fill="none" stroke="#2a2aff" stroke-width="0.95"/>
<path d="M556.03,63.06L558.18,66.96L553.88,66.96Z" fill="none" stroke="#2a2aff" stroke-width="0.95"/>
<path d="M558.94,60.21L561.09,64.11L556.79,64.11Z" fill="none" stroke="#2a2aff" stroke-width="0.95"/>
<path d="M561.84,57.19L563.99,61.09L559.69,61.09Z" fill="none" stroke="#2a2aff" stroke-width="0.95"/>
<path d="M564.75,55.86L566.90,59.76L562.60,59.76Z" fill="none" stroke="#2a2aff" stroke-width="0.95"/>
<path d="M567.66,58.06L569.81,61.96L565.51,61.96Z" fill="none" stroke="#2a2aff" stroke-width="0.95"/>
<path d="M570.56,62.03L572.71,65.93L568.41,65.93Z" fill="none" stroke="#2a2aff" stroke-width="0.95"/>
<path d="M573.47,65.14L575.62,69.04L571.32,69.04Z" fill="none" stroke="#2a2aff" stroke-width="0.95"/>
<path d="M576.38,66.46L578.53,70.36L574.23,70.36Z" fill="none" stroke="#2a2aff" stroke-width="0.95"/>
<path d="M579.29,66.91L581.44,70.81L577.14,70.81Z" fill="none" stroke="#2a2aff" stroke-width="0.95"/>
<path d="M582.19,66.95L584.34,70.85L580.04,70.85Z" fill="none" stroke="#2a2aff" stroke-width="0.95"/>
<path d="M585.10,66.95L587.25,70.85L582.95,70.85Z" fill="none" stroke="#2a2aff" stroke-width="0.95"/>
<path d="M588.01,66.95L590.16,70.85L585.86,70.85Z" fill="none" stroke="#2a2aff" stroke-width="0.95"/>
<path d="M590.91,66.91L593.06,70.81L588.76,70.81Z" fill="none" stroke="#2a2aff" stroke-width="0.95"/>
<path d="M593.82,66.46L595.97,70.36L591.67,70.36Z" fill="none" stroke="#2a2aff" stroke-width="0.95"/>
<path d="M596.73,65.14L598.88,69.04L594.58,69.04Z" fill="none" stroke="#2a2aff" stroke-width="0.95"/>
<path d="M599.64,62.03L601.79,65.93L597.49,65.93Z" fill="none" stroke="#2a2aff" stroke-width="0.95"/>
<path d="M602.54,58.06L604.69,61.96L600.39,61.96Z" fill="none" stroke="#2a2aff" stroke-width="0.95"/>
<path d="M605.45,55.86L607.60,59.76L603.30,59.76Z" fill="none" stroke="#2a2aff" stroke-width="0.95"/>
<path d="M608.36,57.19L610.51,61.09L606.21,61.09Z" fill="none" stroke="#2a2aff" stroke-width="0.95"/>
<path d="M611.26,60.21L613.41,64.11L609.11,64.11Z" fill="none" stroke="#2a2aff" stroke-width="0.95"/>
<path d="M614.17,63.06L616.32,66.96L612.02,66.96Z" fill="none" stroke="#2a2aff" stroke-width="0.95"/>
<path d="M617.08,65.50L619.23,69.40L614.93,69.40Z" fill="none" stroke="#2a2aff" stroke-width="0.95"/>
<path d="M619.99,66.40L622.14,70.30L617.84,70.30Z" fill="none" stroke="#2a2aff" stroke-width="0.95"/>
<path d="M622.89,66.77L625.04,70.67L620.74,70.67Z" fill="none" stroke="#2a2aff" stroke-width="0.95"/>
<path d="M625.80,67.03L627.95,70.93L623.65,70.93Z" fill="none" stroke="#2a2aff" stroke-width="0.95"/>
<path d="M628.71,67.23L630.86,71.13L626.56,71.13Z" fill="none" stroke="#2a2aff" stroke-width="0.95"/>
<path d="M631.61,67.28L633.76,71.18L629.46,71.18Z" fill="none" stroke="#2a2aff" stroke-width="0.95"/>
<path d="M634.52,67.32L636.67,71.22L632.37,71.22Z" fill="none" stroke="#2a2aff" stroke-width="0.95"/>
<path d="M637.43,67.35L639.58,71.25L635.28,71.25Z" fill="none" stroke="#2a2aff" stroke-width="0.95"/>
<path d="M640.34,67.38L642.49,71.28L638.19,71.28Z" fill="none" stroke="#2a2aff" stroke-width="0.95"/>
<path d="M643.24,67.40L645.39,71.30L641.09,71.30Z" fill="none" stroke="#2a2aff" stroke-width="0.95"/>
<path d="M646.15,67.42L648.30,71.32L644.00,71.32Z" fill="none" stroke="#2a2aff" stroke-width="0.95"/>
<path d="M649.06,67.43L651.21,71.33L646.91,71.33Z" fill="none" stroke="#2a2aff" stroke-width="0.95"/>
<path d="M651.96,67.44L654.11,71.34L649.81,71.34Z" fill="none" stroke="#2a2aff" stroke-width="0.95"/>
<path d="M654.87,67.45L657.02,71.35L652.72,71.35Z" fill="none" stroke="#2a2aff" stroke-width="0.95"/>
<polyline points="515.33,71.20 518.24,71.20 521.14,71.20 524.05,71.20 526.96,71.21 529.86,71.21 532.77,71.21 535.68,71.22 538.59,71.22 541.49,71.23 544.40,71.24 547.31,71.24 550.21,71.25 553.12,71.27 556.03,71.28 558.94,71.29 561.84,71.52 564.75,72.00 567.66,71.63 570.56,71.29 573.47,71.26 576.38,71.23 579.29,71.21 582.19,71.20 585.10,71.20 588.01,71.20 590.91,71.21 593.82,71.23 596.73,71.26 599.64,71.29 602.54,71.63 605.45,72.00 608.36,71.52 611.26,71.29 614.17,71.28 617.08,71.27 619.99,71.25 622.89,71.24 625.80,71.24 628.71,71.23 631.61,71.22 634.52,71.22 637.43,71.21 640.34,71.21 643.24,71.21 646.15,71.20 649.06,71.20 651.96,71.20 654.87,71.20" fill="none" stroke="#ff3aff" stroke-width="1.2" stroke-dasharray="2.4,1.4"/>
<path d="M515.33,73.15L517.48,69.25L513.18,69.25Z" fill="none" stroke="#ff1aff" stroke-width="0.95"/>
<path d="M518.24,73.15L520.39,69.25L516.09,69.25Z" fill="none" stroke="#ff1aff" stroke-width="0.95"/>
<path d="M521.14,73.15L523.29,69.25L518.99,69.25Z" fill="none" stroke="#ff1aff" stroke-width="0.95"/>
<path d="M524.05,73.15L526.20,69.25L521.90,69.25Z" fill="none" stroke="#ff1aff" stroke-width="0.95"/>
<path d="M526.96,73.16L529.11,69.26L524.81,69.26Z" fill="none" stroke="#ff1aff" stroke-width="0.95"/>
<path d="M529.86,73.16L532.01,69.26L527.71,69.26Z" fill="none" stroke="#ff1aff" stroke-width="0.95"/>
<path d="M532.77,73.16L534.92,69.26L530.62,69.26Z" fill="none" stroke="#ff1aff" stroke-width="0.95"/>
<path d="M535.68,73.17L537.83,69.27L533.53,69.27Z" fill="none" stroke="#ff1aff" stroke-width="0.95"/>
<path d="M538.59,73.17L540.74,69.27L536.44,69.27Z" fill="none" stroke="#ff1aff" stroke-width="0.95"/>
<path d="M541.49,73.18L543.64,69.28L539.34,69.28Z" fill="none" stroke="#ff1aff" stroke-width="0.95"/>
<path d="M544.40,73.19L546.55,69.29L542.25,69.29Z" fill="none" stroke="#ff1aff" stroke-width="0.95"/>
<path d="M547.31,73.19L549.46,69.29L545.16,69.29Z" fill="none" stroke="#ff1aff" stroke-width="0.95"/>
<path d="M550.21,73.20L552.36,69.30L548.06,69.30Z" fill="none" stroke="#ff1aff" stroke-width="0.95"/>
<path d="M553.12,73.22L555.27,69.32L550.97,69.32Z" fill="none" stroke="#ff1aff" stroke-width="0.95"/>
<path d="M556.03,73.23L558.18,69.33L553.88,69.33Z" fill="none" stroke="#ff1aff" stroke-width="0.95"/>
<path d="M558.94,73.24L561.09,69.34L556.79,69.34Z" fill="none" stroke="#ff1aff" stroke-width="0.95"/>
<path d="M561.84,73.47L563.99,69.57L559.69,69.57Z" fill="none" stroke="#ff1aff" stroke-width="0.95"/>
<path d="M564.75,73.95L566.90,70.05L562.60,70.05Z" fill="none" stroke="#ff1aff" stroke-width="0.95"/>
<path d="M567.66,73.58L569.81,69.68L565.51,69.68Z" fill="none" stroke="#ff1aff" stroke-width="0.95"/>
<path d="M570.56,73.24L572.71,69.34L568.41,69.34Z" fill="none" stroke="#ff1aff" stroke-width="0.95"/>
<path d="M573.47,73.21L575.62,69.31L571.32,69.31Z" fill="none" stroke="#ff1aff" stroke-width="0.95"/>
<path d="M576.38,73.18L578.53,69.28L574.23,69.28Z" fill="none" stroke="#ff1aff" stroke-width="0.95"/>
<path d="M579.29,73.16L581.44,69.26L577.14,69.26Z" fill="none" stroke="#ff1aff" stroke-width="0.95"/>
<path d="M582.19,73.15L584.34,69.25L580.04,69.25Z" fill="none" stroke="#ff1aff" stroke-width="0.95"/>
<path d="M585.10,73.15L587.25,69.25L582.95,69.25Z" fill="none" stroke="#ff1aff" stroke-width="0.95"/>
<path d="M588.01,73.15L590.16,69.25L585.86,69.25Z" fill="none" stroke="#ff1aff" stroke-width="0.95"/>
<path d="M590.91,73.16L593.06,69.26L588.76,69.26Z" fill="none" stroke="#ff1aff" stroke-width="0.95"/>
<path d="M593.82,73.18L595.97,69.28L591.67,69.28Z" fill="none" stroke="#ff1aff" stroke-width="0.95"/>
<path d="M596.73,73.21L598.88,69.31L594.58,69.31Z" fill="none" stroke="#ff1aff" stroke-width="0.95"/>
<path d="M599.64,73.24L601.79,69.34L597.49,69.34Z" fill="none" stroke="#ff1aff" stroke-width="0.95"/>
<path d="M602.54,73.58L604.69,69.68L600.39,69.68Z" fill="none" stroke="#ff1aff" stroke-width="0.95"/>
<path d="M605.45,73.95L607.60,70.05L603.30,70.05Z" fill="none" stroke="#ff1aff" stroke-width="0.95"/>
<path d="M608.36,73.47L610.51,69.57L606.21,69.57Z" fill="none" stroke="#ff1aff" stroke-width="0.95"/>
<path d="M611.26,73.24L613.41,69.34L609.11,69.34Z" fill="none" stroke="#ff1aff" stroke-width="0.95"/>
<path d="M614.17,73.23L616.32,69.33L612.02,69.33Z" fill="none" stroke="#ff1aff" stroke-width="0.95"/>
<path d="M617.08,73.22L619.23,69.32L614.93,69.32Z" fill="none" stroke="#ff1aff" stroke-width="0.95"/>
<path d="M619.99,73.20L622.14,69.30L617.84,69.30Z" fill="none" stroke="#ff1aff" stroke-width="0.95"/>
<path d="M622.89,73.19L625.04,69.29L620.74,69.29Z" fill="none" stroke="#ff1aff" stroke-width="0.95"/>
<path d="M625.80,73.19L627.95,69.29L623.65,69.29Z" fill="none" stroke="#ff1aff" stroke-width="0.95"/>
<path d="M628.71,73.18L630.86,69.28L626.56,69.28Z" fill="none" stroke="#ff1aff" stroke-width="0.95"/>
<path d="M631.61,73.17L633.76,69.27L629.46,69.27Z" fill="none" stroke="#ff1aff" stroke-width="0.95"/>
<path d="M634.52,73.17L636.67,69.27L632.37,69.27Z" fill="none" stroke="#ff1aff" stroke-width="0.95"/>
<path d="M637.43,73.16L639.58,69.26L635.28,69.26Z" fill="none" stroke="#ff1aff" stroke-width="0.95"/>
<path d="M640.34,73.16L642.49,69.26L638.19,69.26Z" fill="none" stroke="#ff1aff" stroke-width="0.95"/>
<path d="M643.24,73.16L645.39,69.26L641.09,69.26Z" fill="none" stroke="#ff1aff" stroke-width="0.95"/>
<path d="M646.15,73.15L648.30,69.25L644.00,69.25Z" fill="none" stroke="#ff1aff" stroke-width="0.95"/>
<path d="M649.06,73.15L651.21,69.25L646.91,69.25Z" fill="none" stroke="#ff1aff" stroke-width="0.95"/>
<path d="M651.96,73.15L654.11,69.25L649.81,69.25Z" fill="none" stroke="#ff1aff" stroke-width="0.95"/>
<path d="M654.87,73.15L657.02,69.25L652.72,69.25Z" fill="none" stroke="#ff1aff" stroke-width="0.95"/>
<polyline points="63.30,191.30 68.27,191.30 73.24,191.30 78.21,191.30 83.19,191.30 88.16,191.30 93.13,191.30 98.10,191.60 102.80,191.60 107.90,192.70 112.90,195.30 118.00,204.30 123.00,217.10 127.90,212.90 132.70,212.10 137.70,212.90 142.80,216.80 147.80,204.30 152.80,195.30 157.90,191.90 162.90,191.10 167.70,190.70 172.67,191.00 177.64,191.00 182.61,191.00 187.59,191.00 192.56,191.00 197.53,191.00 202.50,191.00" fill="none" stroke="#3a3a3a" stroke-width="0.9" stroke-dasharray="2.2,1.3,0.8,1.3"/>
<rect x="61.70" y="189.70" width="3.2" height="3.2" fill="none" stroke="#3a3a3a" stroke-width="0.85"/>
<rect x="66.67" y="189.70" width="3.2" height="3.2" fill="none" stroke="#3a3a3a" stroke-width="0.85"/>
<rect x="71.64" y="189.70" width="3.2" height="3.2" fill="none" stroke="#3a3a3a" stroke-width="0.85"/>
<rect x="76.61" y="189.70" width="3.2" height="3.2" fill="none" stroke="#3a3a3a" stroke-width="0.85"/>
<rect x="81.59" y="189.70" width="3.2" height="3.2" fill="none" stroke="#3a3a3a" stroke-width="0.85"/>
<rect x="86.56" y="189.70" width="3.2" height="3.2" fill="none" stroke="#3a3a3a" stroke-width="0.85"/>
<rect x="91.53" y="189.70" width="3.2" height="3.2" fill="none" stroke="#3a3a3a" stroke-width="0.85"/>
<rect x="96.50" y="190.00" width="3.2" height="3.2" fill="none" stroke="#3a3a3a" stroke-width="0.85"/>
<rect x="101.20" y="190.00" width="3.2" height="3.2" fill="none" stroke="#3a3a3a" stroke-width="0.85"/>
<rect x="106.30" y="191.10" width="3.2" height="3.2" fill="none" stroke="#3a3a3a" stroke-width="0.85"/>
<rect x="111.30" y="193.70" width="3.2" height="3.2" fill="none" stroke="#3a3a3a" stroke-width="0.85"/>
<rect x="116.40" y="202.70" width="3.2" height="3.2" fill="none" stroke="#3a3a3a" stroke-width="0.85"/>
<rect x="121.40" y="215.50" width="3.2" height="3.2" fill="none" stroke="#3a3a3a" stroke-width="0.85"/>
<rect x="126.30" y="211.30" width="3.2" height="3.2" fill="none" stroke="#3a3a3a" stroke-width="0.85"/>
<rect x="131.10" y="210.50" width="3.2" height="3.2" fill="none" stroke="#3a3a3a" stroke-width="0.85"/>
<rect x="136.10" y="211.30" width="3.2" height="3.2" fill="none" stroke="#3a3a3a" stroke-width="0.85"/>
<rect x="141.20" y="215.20" width="3.2" height="3.2" fill="none" stroke="#3a3a3a" stroke-width="0.85"/>
<rect x="146.20" y="202.70" width="3.2" height="3.2" fill="none" stroke="#3a3a3a" stroke-width="0.85"/>
<rect x="151.20" y="193.70" width="3.2" height="3.2" fill="none" stroke="#3a3a3a" stroke-width="0.85"/>
<rect x="156.30" y="190.30" width="3.2" height="3.2" fill="none" stroke="#3a3a3a" stroke-width="0.85"/>
<rect x="161.30" y="189.50" width="3.2" height="3.2" fill="none" stroke="#3a3a3a" stroke-width="0.85"/>
<rect x="166.10" y="189.10" width="3.2" height="3.2" fill="none" stroke="#3a3a3a" stroke-width="0.85"/>
<rect x="171.07" y="189.40" width="3.2" height="3.2" fill="none" stroke="#3a3a3a" stroke-width="0.85"/>
<rect x="176.04" y="189.40" width="3.2" height="3.2" fill="none" stroke="#3a3a3a" stroke-width="0.85"/>
<rect x="181.01" y="189.40" width="3.2" height="3.2" fill="none" stroke="#3a3a3a" stroke-width="0.85"/>
<rect x="185.99" y="189.40" width="3.2" height="3.2" fill="none" stroke="#3a3a3a" stroke-width="0.85"/>
<rect x="190.96" y="189.40" width="3.2" height="3.2" fill="none" stroke="#3a3a3a" stroke-width="0.85"/>
<rect x="195.93" y="189.40" width="3.2" height="3.2" fill="none" stroke="#3a3a3a" stroke-width="0.85"/>
<rect x="200.90" y="189.40" width="3.2" height="3.2" fill="none" stroke="#3a3a3a" stroke-width="0.85"/>
<polyline points="63.30,190.40 68.27,190.40 73.24,190.40 78.21,190.40 83.19,190.40 88.16,190.40 93.13,190.40 98.10,190.10 102.80,189.60 107.90,187.70 112.90,182.60 118.00,169.90 123.00,161.60 127.90,180.70 132.70,191.60 137.70,204.70 142.80,226.40 147.80,222.70 152.80,204.30 157.90,194.30 162.90,193.50 167.70,191.90 172.67,191.30 177.64,191.30 182.61,191.30 187.59,191.30 192.56,191.30 197.53,191.30 202.50,191.30" fill="none" stroke="#ff4a4a" stroke-width="0.8" stroke-dasharray="1,0.9"/>
<circle cx="63.30" cy="190.40" r="1.75" fill="none" stroke="#ff2a2a" stroke-width="0.95"/>
<circle cx="68.27" cy="190.40" r="1.75" fill="none" stroke="#ff2a2a" stroke-width="0.95"/>
<circle cx="73.24" cy="190.40" r="1.75" fill="none" stroke="#ff2a2a" stroke-width="0.95"/>
<circle cx="78.21" cy="190.40" r="1.75" fill="none" stroke="#ff2a2a" stroke-width="0.95"/>
<circle cx="83.19" cy="190.40" r="1.75" fill="none" stroke="#ff2a2a" stroke-width="0.95"/>
<circle cx="88.16" cy="190.40" r="1.75" fill="none" stroke="#ff2a2a" stroke-width="0.95"/>
<circle cx="93.13" cy="190.40" r="1.75" fill="none" stroke="#ff2a2a" stroke-width="0.95"/>
<circle cx="98.10" cy="190.10" r="1.75" fill="none" stroke="#ff2a2a" stroke-width="0.95"/>
<circle cx="102.80" cy="189.60" r="1.75" fill="none" stroke="#ff2a2a" stroke-width="0.95"/>
<circle cx="107.90" cy="187.70" r="1.75" fill="none" stroke="#ff2a2a" stroke-width="0.95"/>
<circle cx="112.90" cy="182.60" r="1.75" fill="none" stroke="#ff2a2a" stroke-width="0.95"/>
<circle cx="118.00" cy="169.90" r="1.75" fill="none" stroke="#ff2a2a" stroke-width="0.95"/>
<circle cx="123.00" cy="161.60" r="1.75" fill="none" stroke="#ff2a2a" stroke-width="0.95"/>
<circle cx="127.90" cy="180.70" r="1.75" fill="none" stroke="#ff2a2a" stroke-width="0.95"/>
<circle cx="132.70" cy="191.60" r="1.75" fill="none" stroke="#ff2a2a" stroke-width="0.95"/>
<circle cx="137.70" cy="204.70" r="1.75" fill="none" stroke="#ff2a2a" stroke-width="0.95"/>
<circle cx="142.80" cy="226.40" r="1.75" fill="none" stroke="#ff2a2a" stroke-width="0.95"/>
<circle cx="147.80" cy="222.70" r="1.75" fill="none" stroke="#ff2a2a" stroke-width="0.95"/>
<circle cx="152.80" cy="204.30" r="1.75" fill="none" stroke="#ff2a2a" stroke-width="0.95"/>
<circle cx="157.90" cy="194.30" r="1.75" fill="none" stroke="#ff2a2a" stroke-width="0.95"/>
<circle cx="162.90" cy="193.50" r="1.75" fill="none" stroke="#ff2a2a" stroke-width="0.95"/>
<circle cx="167.70" cy="191.90" r="1.75" fill="none" stroke="#ff2a2a" stroke-width="0.95"/>
<circle cx="172.67" cy="191.30" r="1.75" fill="none" stroke="#ff2a2a" stroke-width="0.95"/>
<circle cx="177.64" cy="191.30" r="1.75" fill="none" stroke="#ff2a2a" stroke-width="0.95"/>
<circle cx="182.61" cy="191.30" r="1.75" fill="none" stroke="#ff2a2a" stroke-width="0.95"/>
<circle cx="187.59" cy="191.30" r="1.75" fill="none" stroke="#ff2a2a" stroke-width="0.95"/>
<circle cx="192.56" cy="191.30" r="1.75" fill="none" stroke="#ff2a2a" stroke-width="0.95"/>
<circle cx="197.53" cy="191.30" r="1.75" fill="none" stroke="#ff2a2a" stroke-width="0.95"/>
<circle cx="202.50" cy="191.30" r="1.75" fill="none" stroke="#ff2a2a" stroke-width="0.95"/>
<polyline points="63.30,191.40 68.27,191.40 73.24,191.40 78.21,191.40 83.19,191.40 88.16,191.40 93.13,191.40 98.10,191.60 102.80,192.20 107.90,195.80 112.90,205.60 118.00,226.10 123.00,222.20 127.90,203.60 132.70,191.90 137.70,184.20 142.80,169.90 147.80,160.90 152.80,178.30 157.90,187.00 162.90,188.50 167.70,189.60 172.67,190.30 177.64,190.30 182.61,190.30 187.59,190.30 192.56,190.30 197.53,190.30 202.50,190.30" fill="none" stroke="#3a3aff" stroke-width="1.4" stroke-dasharray="2.4,1.4"/>
<path d="M63.30,189.45L65.45,193.35L61.15,193.35Z" fill="none" stroke="#2a2aff" stroke-width="0.95"/>
<path d="M68.27,189.45L70.42,193.35L66.12,193.35Z" fill="none" stroke="#2a2aff" stroke-width="0.95"/>
<path d="M73.24,189.45L75.39,193.35L71.09,193.35Z" fill="none" stroke="#2a2aff" stroke-width="0.95"/>
<path d="M78.21,189.45L80.36,193.35L76.06,193.35Z" fill="none" stroke="#2a2aff" stroke-width="0.95"/>
<path d="M83.19,189.45L85.34,193.35L81.04,193.35Z" fill="none" stroke="#2a2aff" stroke-width="0.95"/>
<path d="M88.16,189.45L90.31,193.35L86.01,193.35Z" fill="none" stroke="#2a2aff" stroke-width="0.95"/>
<path d="M93.13,189.45L95.28,193.35L90.98,193.35Z" fill="none" stroke="#2a2aff" stroke-width="0.95"/>
<path d="M98.10,189.65L100.25,193.55L95.95,193.55Z" fill="none" stroke="#2a2aff" stroke-width="0.95"/>
<path d="M102.80,190.25L104.95,194.15L100.65,194.15Z" fill="none" stroke="#2a2aff" stroke-width="0.95"/>
<path d="M107.90,193.85L110.05,197.75L105.75,197.75Z" fill="none" stroke="#2a2aff" stroke-width="0.95"/>
<path d="M112.90,203.65L115.05,207.55L110.75,207.55Z" fill="none" stroke="#2a2aff" stroke-width="0.95"/>
<path d="M118.00,224.15L120.15,228.05L115.85,228.05Z" fill="none" stroke="#2a2aff" stroke-width="0.95"/>
<path d="M123.00,220.25L125.15,224.15L120.85,224.15Z" fill="none" stroke="#2a2aff" stroke-width="0.95"/>
<path d="M127.90,201.65L130.05,205.55L125.75,205.55Z" fill="none" stroke="#2a2aff" stroke-width="0.95"/>
<path d="M132.70,189.95L134.85,193.85L130.55,193.85Z" fill="none" stroke="#2a2aff" stroke-width="0.95"/>
<path d="M137.70,182.25L139.85,186.15L135.55,186.15Z" fill="none" stroke="#2a2aff" stroke-width="0.95"/>
<path d="M142.80,167.95L144.95,171.85L140.65,171.85Z" fill="none" stroke="#2a2aff" stroke-width="0.95"/>
<path d="M147.80,158.95L149.95,162.85L145.65,162.85Z" fill="none" stroke="#2a2aff" stroke-width="0.95"/>
<path d="M152.80,176.35L154.95,180.25L150.65,180.25Z" fill="none" stroke="#2a2aff" stroke-width="0.95"/>
<path d="M157.90,185.05L160.05,188.95L155.75,188.95Z" fill="none" stroke="#2a2aff" stroke-width="0.95"/>
<path d="M162.90,186.55L165.05,190.45L160.75,190.45Z" fill="none" stroke="#2a2aff" stroke-width="0.95"/>
<path d="M167.70,187.65L169.85,191.55L165.55,191.55Z" fill="none" stroke="#2a2aff" stroke-width="0.95"/>
<path d="M172.67,188.35L174.82,192.25L170.52,192.25Z" fill="none" stroke="#2a2aff" stroke-width="0.95"/>
<path d="M177.64,188.35L179.79,192.25L175.49,192.25Z" fill="none" stroke="#2a2aff" stroke-width="0.95"/>
<path d="M182.61,188.35L184.76,192.25L180.46,192.25Z" fill="none" stroke="#2a2aff" stroke-width="0.95"/>
<path d="M187.59,188.35L189.74,192.25L185.44,192.25Z" fill="none" stroke="#2a2aff" stroke-width="0.95"/>
<path d="M192.56,188.35L194.71,192.25L190.41,192.25Z" fill="none" stroke="#2a2aff" stroke-width="0.95"/>
<path d="M197.53,188.35L199.68,192.25L195.38,192.25Z" fill="none" stroke="#2a2aff" stroke-width="0.95"/>
<path d="M202.50,188.35L204.65,192.25L200.35,192.25Z" fill="none" stroke="#2a2aff" stroke-width="0.95"/>
<polyline points="63.30,190.80 68.27,190.80 73.24,190.80 78.21,190.80 83.19,190.80 88.16,190.80 93.13,190.80 98.10,190.70 102.80,190.70 107.90,190.70 112.90,191.10 118.00,198.90 123.00,198.90 127.90,191.60 132.70,191.10 137.70,191.60 142.80,198.90 147.80,198.90 152.80,191.90 157.90,191.10 162.90,191.10 167.70,191.10 172.67,191.00 177.64,191.00 182.61,191.00 187.59,191.00 192.56,191.00 197.53,191.00 202.50,191.00" fill="none" stroke="#ff3aff" stroke-width="1.2" stroke-dasharray="2.4,1.4"/>
<path d="M63.30,192.75L65.45,188.85L61.15,188.85Z" fill="none" stroke="#ff1aff" stroke-width="0.95"/>
<path d="M68.27,192.75L70.42,188.85L66.12,188.85Z" fill="none" stroke="#ff1aff" stroke-width="0.95"/>
<path d="M73.24,192.75L75.39,188.85L71.09,188.85Z" fill="none" stroke="#ff1aff" stroke-width="0.95"/>
<path d="M78.21,192.75L80.36,188.85L76.06,188.85Z" fill="none" stroke="#ff1aff" stroke-width="0.95"/>
<path d="M83.19,192.75L85.34,188.85L81.04,188.85Z" fill="none" stroke="#ff1aff" stroke-width="0.95"/>
<path d="M88.16,192.75L90.31,188.85L86.01,188.85Z" fill="none" stroke="#ff1aff" stroke-width="0.95"/>
<path d="M93.13,192.75L95.28,188.85L90.98,188.85Z" fill="none" stroke="#ff1aff" stroke-width="0.95"/>
<path d="M98.10,192.65L100.25,188.75L95.95,188.75Z" fill="none" stroke="#ff1aff" stroke-width="0.95"/>
<path d="M102.80,192.65L104.95,188.75L100.65,188.75Z" fill="none" stroke="#ff1aff" stroke-width="0.95"/>
<path d="M107.90,192.65L110.05,188.75L105.75,188.75Z" fill="none" stroke="#ff1aff" stroke-width="0.95"/>
<path d="M112.90,193.05L115.05,189.15L110.75,189.15Z" fill="none" stroke="#ff1aff" stroke-width="0.95"/>
<path d="M118.00,200.85L120.15,196.95L115.85,196.95Z" fill="none" stroke="#ff1aff" stroke-width="0.95"/>
<path d="M123.00,200.85L125.15,196.95L120.85,196.95Z" fill="none" stroke="#ff1aff" stroke-width="0.95"/>
<path d="M127.90,193.55L130.05,189.65L125.75,189.65Z" fill="none" stroke="#ff1aff" stroke-width="0.95"/>
<path d="M132.70,193.05L134.85,189.15L130.55,189.15Z" fill="none" stroke="#ff1aff" stroke-width="0.95"/>
<path d="M137.70,193.55L139.85,189.65L135.55,189.65Z" fill="none" stroke="#ff1aff" stroke-width="0.95"/>
<path d="M142.80,200.85L144.95,196.95L140.65,196.95Z" fill="none" stroke="#ff1aff" stroke-width="0.95"/>
<path d="M147.80,200.85L149.95,196.95L145.65,196.95Z" fill="none" stroke="#ff1aff" stroke-width="0.95"/>
<path d="M152.80,193.85L154.95,189.95L150.65,189.95Z" fill="none" stroke="#ff1aff" stroke-width="0.95"/>
<path d="M157.90,193.05L160.05,189.15L155.75,189.15Z" fill="none" stroke="#ff1aff" stroke-width="0.95"/>
<path d="M162.90,193.05L165.05,189.15L160.75,189.15Z" fill="none" stroke="#ff1aff" stroke-width="0.95"/>
<path d="M167.70,193.05L169.85,189.15L165.55,189.15Z" fill="none" stroke="#ff1aff" stroke-width="0.95"/>
<path d="M172.67,192.95L174.82,189.05L170.52,189.05Z" fill="none" stroke="#ff1aff" stroke-width="0.95"/>
<path d="M177.64,192.95L179.79,189.05L175.49,189.05Z" fill="none" stroke="#ff1aff" stroke-width="0.95"/>
<path d="M182.61,192.95L184.76,189.05L180.46,189.05Z" fill="none" stroke="#ff1aff" stroke-width="0.95"/>
<path d="M187.59,192.95L189.74,189.05L185.44,189.05Z" fill="none" stroke="#ff1aff" stroke-width="0.95"/>
<path d="M192.56,192.95L194.71,189.05L190.41,189.05Z" fill="none" stroke="#ff1aff" stroke-width="0.95"/>
<path d="M197.53,192.95L199.68,189.05L195.38,189.05Z" fill="none" stroke="#ff1aff" stroke-width="0.95"/>
<path d="M202.50,192.95L204.65,189.05L200.35,189.05Z" fill="none" stroke="#ff1aff" stroke-width="0.95"/>
<polyline points="214.20,190.70 219.16,190.70 224.11,190.70 229.07,190.70 234.03,190.70 238.99,190.70 243.94,190.70 248.90,190.70 253.90,190.70 258.70,190.70 263.60,191.10 268.60,191.90 273.40,191.10 278.40,186.80 283.40,186.00 288.50,186.80 293.40,191.10 298.30,191.90 303.20,191.10 308.40,190.70 313.30,190.70 318.30,190.70 323.26,190.70 328.21,190.70 333.17,190.70 338.13,190.70 343.09,190.70 348.04,190.70 353.00,190.70" fill="none" stroke="#3a3a3a" stroke-width="0.9" stroke-dasharray="2.2,1.3,0.8,1.3"/>
<rect x="212.60" y="189.10" width="3.2" height="3.2" fill="none" stroke="#3a3a3a" stroke-width="0.85"/>
<rect x="217.56" y="189.10" width="3.2" height="3.2" fill="none" stroke="#3a3a3a" stroke-width="0.85"/>
<rect x="222.51" y="189.10" width="3.2" height="3.2" fill="none" stroke="#3a3a3a" stroke-width="0.85"/>
<rect x="227.47" y="189.10" width="3.2" height="3.2" fill="none" stroke="#3a3a3a" stroke-width="0.85"/>
<rect x="232.43" y="189.10" width="3.2" height="3.2" fill="none" stroke="#3a3a3a" stroke-width="0.85"/>
<rect x="237.39" y="189.10" width="3.2" height="3.2" fill="none" stroke="#3a3a3a" stroke-width="0.85"/>
<rect x="242.34" y="189.10" width="3.2" height="3.2" fill="none" stroke="#3a3a3a" stroke-width="0.85"/>
<rect x="247.30" y="189.10" width="3.2" height="3.2" fill="none" stroke="#3a3a3a" stroke-width="0.85"/>
<rect x="252.30" y="189.10" width="3.2" height="3.2" fill="none" stroke="#3a3a3a" stroke-width="0.85"/>
<rect x="257.10" y="189.10" width="3.2" height="3.2" fill="none" stroke="#3a3a3a" stroke-width="0.85"/>
<rect x="262.00" y="189.50" width="3.2" height="3.2" fill="none" stroke="#3a3a3a" stroke-width="0.85"/>
<rect x="267.00" y="190.30" width="3.2" height="3.2" fill="none" stroke="#3a3a3a" stroke-width="0.85"/>
<rect x="271.80" y="189.50" width="3.2" height="3.2" fill="none" stroke="#3a3a3a" stroke-width="0.85"/>
<rect x="276.80" y="185.20" width="3.2" height="3.2" fill="none" stroke="#3a3a3a" stroke-width="0.85"/>
<rect x="281.80" y="184.40" width="3.2" height="3.2" fill="none" stroke="#3a3a3a" stroke-width="0.85"/>
<rect x="286.90" y="185.20" width="3.2" height="3.2" fill="none" stroke="#3a3a3a" stroke-width="0.85"/>
<rect x="291.80" y="189.50" width="3.2" height="3.2" fill="none" stroke="#3a3a3a" stroke-width="0.85"/>
<rect x="296.70" y="190.30" width="3.2" height="3.2" fill="none" stroke="#3a3a3a" stroke-width="0.85"/>
<rect x="301.60" y="189.50" width="3.2" height="3.2" fill="none" stroke="#3a3a3a" stroke-width="0.85"/>
<rect x="306.80" y="189.10" width="3.2" height="3.2" fill="none" stroke="#3a3a3a" stroke-width="0.85"/>
<rect x="311.70" y="189.10" width="3.2" height="3.2" fill="none" stroke="#3a3a3a" stroke-width="0.85"/>
<rect x="316.70" y="189.10" width="3.2" height="3.2" fill="none" stroke="#3a3a3a" stroke-width="0.85"/>
<rect x="321.66" y="189.10" width="3.2" height="3.2" fill="none" stroke="#3a3a3a" stroke-width="0.85"/>
<rect x="326.61" y="189.10" width="3.2" height="3.2" fill="none" stroke="#3a3a3a" stroke-width="0.85"/>
<rect x="331.57" y="189.10" width="3.2" height="3.2" fill="none" stroke="#3a3a3a" stroke-width="0.85"/>
<rect x="336.53" y="189.10" width="3.2" height="3.2" fill="none" stroke="#3a3a3a" stroke-width="0.85"/>
<rect x="341.49" y="189.10" width="3.2" height="3.2" fill="none" stroke="#3a3a3a" stroke-width="0.85"/>
<rect x="346.44" y="189.10" width="3.2" height="3.2" fill="none" stroke="#3a3a3a" stroke-width="0.85"/>
<rect x="351.40" y="189.10" width="3.2" height="3.2" fill="none" stroke="#3a3a3a" stroke-width="0.85"/>
<polyline points="214.20,190.90 219.16,190.90 224.11,190.90 229.07,190.90 234.03,190.90 238.99,190.90 243.94,190.90 248.90,191.10 253.90,191.90 258.70,193.20 263.60,196.60 268.60,205.60 273.40,212.10 278.40,197.80 283.40,190.70 288.50,180.30 293.40,163.20 298.30,165.80 303.20,180.30 308.40,186.50 313.30,188.50 318.30,190.10 323.26,190.50 328.21,190.50 333.17,190.50 338.13,190.50 343.09,190.50 348.04,190.50 353.00,190.50" fill="none" stroke="#ff4a4a" stroke-width="0.8" stroke-dasharray="1,0.9"/>
<circle cx="214.20" cy="190.90" r="1.75" fill="none" stroke="#ff2a2a" stroke-width="0.95"/>
<circle cx="219.16" cy="190.90" r="1.75" fill="none" stroke="#ff2a2a" stroke-width="0.95"/>
<circle cx="224.11" cy="190.90" r="1.75" fill="none" stroke="#ff2a2a" stroke-width="0.95"/>
<circle cx="229.07" cy="190.90" r="1.75" fill="none" stroke="#ff2a2a" stroke-width="0.95"/>
<circle cx="234.03" cy="190.90" r="1.75" fill="none" stroke="#ff2a2a" stroke-width="0.95"/>
<circle cx="238.99" cy="190.90" r="1.75" fill="none" stroke="#ff2a2a" stroke-width="0.95"/>
<circle cx="243.94" cy="190.90" r="1.75" fill="none" stroke="#ff2a2a" stroke-width="0.95"/>
<circle cx="248.90" cy="191.10" r="1.75" fill="none" stroke="#ff2a2a" stroke-width="0.95"/>
<circle cx="253.90" cy="191.90" r="1.75" fill="none" stroke="#ff2a2a" stroke-width="0.95"/>
<circle cx="258.70" cy="193.20" r="1.75" fill="none" stroke="#ff2a2a" stroke-width="0.95"/>
<circle cx="263.60" cy="196.60" r="1.75" fill="none" stroke="#ff2a2a" stroke-width="0.95"/>
<circle cx="268.60" cy="205.60" r="1.75" fill="none" stroke="#ff2a2a" stroke-width="0.95"/>
<circle cx="273.40" cy="212.10" r="1.75" fill="none" stroke="#ff2a2a" stroke-width="0.95"/>
<circle cx="278.40" cy="197.80" r="1.75" fill="none" stroke="#ff2a2a" stroke-width="0.95"/>
<circle cx="283.40" cy="190.70" r="1.75" fill="none" stroke="#ff2a2a" stroke-width="0.95"/>
<circle cx="288.50" cy="180.30" r="1.75" fill="none" stroke="#ff2a2a" stroke-width="0.95"/>
<circle cx="293.40" cy="163.20" r="1.75" fill="none" stroke="#ff2a2a" stroke-width="0.95"/>
<circle cx="298.30" cy="165.80" r="1.75" fill="none" stroke="#ff2a2a" stroke-width="0.95"/>
<circle cx="303.20" cy="180.30" r="1.75" fill="none" stroke="#ff2a2a" stroke-width="0.95"/>
<circle cx="308.40" cy="186.50" r="1.75" fill="none" stroke="#ff2a2a" stroke-width="0.95"/>
<circle cx="313.30" cy="188.50" r="1.75" fill="none" stroke="#ff2a2a" stroke-width="0.95"/>
<circle cx="318.30" cy="190.10" r="1.75" fill="none" stroke="#ff2a2a" stroke-width="0.95"/>
<circle cx="323.26" cy="190.50" r="1.75" fill="none" stroke="#ff2a2a" stroke-width="0.95"/>
<circle cx="328.21" cy="190.50" r="1.75" fill="none" stroke="#ff2a2a" stroke-width="0.95"/>
<circle cx="333.17" cy="190.50" r="1.75" fill="none" stroke="#ff2a2a" stroke-width="0.95"/>
<circle cx="338.13" cy="190.50" r="1.75" fill="none" stroke="#ff2a2a" stroke-width="0.95"/>
<circle cx="343.09" cy="190.50" r="1.75" fill="none" stroke="#ff2a2a" stroke-width="0.95"/>
<circle cx="348.04" cy="190.50" r="1.75" fill="none" stroke="#ff2a2a" stroke-width="0.95"/>
<circle cx="353.00" cy="190.50" r="1.75" fill="none" stroke="#ff2a2a" stroke-width="0.95"/>
<polyline points="214.20,189.80 219.16,189.80 224.11,189.80 229.07,189.80 234.03,189.80 238.99,189.80 243.94,189.80 248.90,188.80 253.90,188.00 258.70,186.50 263.60,178.70 268.60,162.40 273.40,165.20 278.40,181.10 283.40,188.80 288.50,195.00 293.40,205.10 298.30,211.80 303.20,199.40 308.40,193.50 313.30,191.60 318.30,190.70 323.26,190.90 328.21,190.90 333.17,190.90 338.13,190.90 343.09,190.90 348.04,190.90 353.00,190.90" fill="none" stroke="#3a3aff" stroke-width="1.4" stroke-dasharray="2.4,1.4"/>
<path d="M214.20,187.85L216.35,191.75L212.05,191.75Z" fill="none" stroke="#2a2aff" stroke-width="0.95"/>
<path d="M219.16,187.85L221.31,191.75L217.01,191.75Z" fill="none" stroke="#2a2aff" stroke-width="0.95"/>
<path d="M224.11,187.85L226.26,191.75L221.96,191.75Z" fill="none" stroke="#2a2aff" stroke-width="0.95"/>
<path d="M229.07,187.85L231.22,191.75L226.92,191.75Z" fill="none" stroke="#2a2aff" stroke-width="0.95"/>
<path d="M234.03,187.85L236.18,191.75L231.88,191.75Z" fill="none" stroke="#2a2aff" stroke-width="0.95"/>
<path d="M238.99,187.85L241.14,191.75L236.84,191.75Z" fill="none" stroke="#2a2aff" stroke-width="0.95"/>
<path d="M243.94,187.85L246.09,191.75L241.79,191.75Z" fill="none" stroke="#2a2aff" stroke-width="0.95"/>
<path d="M248.90,186.85L251.05,190.75L246.75,190.75Z" fill="none" stroke="#2a2aff" stroke-width="0.95"/>
<path d="M253.90,186.05L256.05,189.95L251.75,189.95Z" fill="none" stroke="#2a2aff" stroke-width="0.95"/>
<path d="M258.70,184.55L260.85,188.45L256.55,188.45Z" fill="none" stroke="#2a2aff" stroke-width="0.95"/>
<path d="M263.60,176.75L265.75,180.65L261.45,180.65Z" fill="none" stroke="#2a2aff" stroke-width="0.95"/>
<path d="M268.60,160.45L270.75,164.35L266.45,164.35Z" fill="none" stroke="#2a2aff" stroke-width="0.95"/>
<path d="M273.40,163.25L275.55,167.15L271.25,167.15Z" fill="none" stroke="#2a2aff" stroke-width="0.95"/>
<path d="M278.40,179.15L280.55,183.05L276.25,183.05Z" fill="none" stroke="#2a2aff" stroke-width="0.95"/>
<path d="M283.40,186.85L285.55,190.75L281.25,190.75Z" fill="none" stroke="#2a2aff" stroke-width="0.95"/>
<path d="M288.50,193.05L290.65,196.95L286.35,196.95Z" fill="none" stroke="#2a2aff" stroke-width="0.95"/>
<path d="M293.40,203.15L295.55,207.05L291.25,207.05Z" fill="none" stroke="#2a2aff" stroke-width="0.95"/>
<path d="M298.30,209.85L300.45,213.75L296.15,213.75Z" fill="none" stroke="#2a2aff" stroke-width="0.95"/>
<path d="M303.20,197.45L305.35,201.35L301.05,201.35Z" fill="none" stroke="#2a2aff" stroke-width="0.95"/>
<path d="M308.40,191.55L310.55,195.45L306.25,195.45Z" fill="none" stroke="#2a2aff" stroke-width="0.95"/>
<path d="M313.30,189.65L315.45,193.55L311.15,193.55Z" fill="none" stroke="#2a2aff" stroke-width="0.95"/>
<path d="M318.30,188.75L320.45,192.65L316.15,192.65Z" fill="none" stroke="#2a2aff" stroke-width="0.95"/>
<path d="M323.26,188.95L325.41,192.85L321.11,192.85Z" fill="none" stroke="#2a2aff" stroke-width="0.95"/>
<path d="M328.21,188.95L330.36,192.85L326.06,192.85Z" fill="none" stroke="#2a2aff" stroke-width="0.95"/>
<path d="M333.17,188.95L335.32,192.85L331.02,192.85Z" fill="none" stroke="#2a2aff" stroke-width="0.95"/>
<path d="M338.13,188.95L340.28,192.85L335.98,192.85Z" fill="none" stroke="#2a2aff" stroke-width="0.95"/>
<path d="M343.09,188.95L345.24,192.85L340.94,192.85Z" fill="none" stroke="#2a2aff" stroke-width="0.95"/>
<path d="M348.04,188.95L350.19,192.85L345.89,192.85Z" fill="none" stroke="#2a2aff" stroke-width="0.95"/>
<path d="M353.00,188.95L355.15,192.85L350.85,192.85Z" fill="none" stroke="#2a2aff" stroke-width="0.95"/>
<polyline points="214.20,190.70 219.16,190.70 224.11,190.70 229.07,190.70 234.03,190.70 238.99,190.70 243.94,190.70 248.90,190.70 253.90,190.70 258.70,190.70 263.60,191.00 268.60,195.00 273.40,195.00 278.40,191.00 283.40,190.70 288.50,191.00 293.40,195.00 298.30,195.00 303.20,191.00 308.40,190.70 313.30,190.70 318.30,190.70 323.26,190.70 328.21,190.70 333.17,190.70 338.13,190.70 343.09,190.70 348.04,190.70 353.00,190.70" fill="none" stroke="#ff3aff" stroke-width="1.2" stroke-dasharray="2.4,1.4"/>
<path d="M214.20,192.65L216.35,188.75L212.05,188.75Z" fill="none" stroke="#ff1aff" stroke-width="0.95"/>
<path d="M219.16,192.65L221.31,188.75L217.01,188.75Z" fill="none" stroke="#ff1aff" stroke-width="0.95"/>
<path d="M224.11,192.65L226.26,188.75L221.96,188.75Z" fill="none" stroke="#ff1aff" stroke-width="0.95"/>
<path d="M229.07,192.65L231.22,188.75L226.92,188.75Z" fill="none" stroke="#ff1aff" stroke-width="0.95"/>
<path d="M234.03,192.65L236.18,188.75L231.88,188.75Z" fill="none" stroke="#ff1aff" stroke-width="0.95"/>
<path d="M238.99,192.65L241.14,188.75L236.84,188.75Z" fill="none" stroke="#ff1aff" stroke-width="0.95"/>
<path d="M243.94,192.65L246.09,188.75L241.79,188.75Z" fill="none" stroke="#ff1aff" stroke-width="0.95"/>
<path d="M248.90,192.65L251.05,188.75L246.75,188.75Z" fill="none" stroke="#ff1aff" stroke-width="0.95"/>
<path d="M253.90,192.65L256.05,188.75L251.75,188.75Z" fill="none" stroke="#ff1aff" stroke-width="0.95"/>
<path d="M258.70,192.65L260.85,188.75L256.55,188.75Z" fill="none" stroke="#ff1aff" stroke-width="0.95"/>
<path d="M263.60,192.95L265.75,189.05L261.45,189.05Z" fill="none" stroke="#ff1aff" stroke-width="0.95"/>
<path d="M268.60,196.95L270.75,193.05L266.45,193.05Z" fill="none" stroke="#ff1aff" stroke-width="0.95"/>
<path d="M273.40,196.95L275.55,193.05L271.25,193.05Z" fill="none" stroke="#ff1aff" stroke-width="0.95"/>
<path d="M278.40,192.95L280.55,189.05L276.25,189.05Z" fill="none" stroke="#ff1aff" stroke-width="0.95"/>
<path d="M283.40,192.65L285.55,188.75L281.25,188.75Z" fill="none" stroke="#ff1aff" stroke-width="0.95"/>
<path d="M288.50,192.95L290.65,189.05L286.35,189.05Z" fill="none" stroke="#ff1aff" stroke-width="0.95"/>
<path d="M293.40,196.95L295.55,193.05L291.25,193.05Z" fill="none" stroke="#ff1aff" stroke-width="0.95"/>
<path d="M298.30,196.95L300.45,193.05L296.15,193.05Z" fill="none" stroke="#ff1aff" stroke-width="0.95"/>
<path d="M303.20,192.95L305.35,189.05L301.05,189.05Z" fill="none" stroke="#ff1aff" stroke-width="0.95"/>
<path d="M308.40,192.65L310.55,188.75L306.25,188.75Z" fill="none" stroke="#ff1aff" stroke-width="0.95"/>
<path d="M313.30,192.65L315.45,188.75L311.15,188.75Z" fill="none" stroke="#ff1aff" stroke-width="0.95"/>
<path d="M318.30,192.65L320.45,188.75L316.15,188.75Z" fill="none" stroke="#ff1aff" stroke-width="0.95"/>
<path d="M323.26,192.65L325.41,188.75L321.11,188.75Z" fill="none" stroke="#ff1aff" stroke-width="0.95"/>
<path d="M328.21,192.65L330.36,188.75L326.06,188.75Z" fill="none" stroke="#ff1aff" stroke-width="0.95"/>
<path d="M333.17,192.65L335.32,188.75L331.02,188.75Z" fill="none" stroke="#ff1aff" stroke-width="0.95"/>
<path d="M338.13,192.65L340.28,188.75L335.98,188.75Z" fill="none" stroke="#ff1aff" stroke-width="0.95"/>
<path d="M343.09,192.65L345.24,188.75L340.94,188.75Z" fill="none" stroke="#ff1aff" stroke-width="0.95"/>
<path d="M348.04,192.65L350.19,188.75L345.89,188.75Z" fill="none" stroke="#ff1aff" stroke-width="0.95"/>
<path d="M353.00,192.65L355.15,188.75L350.85,188.75Z" fill="none" stroke="#ff1aff" stroke-width="0.95"/>
<polyline points="365.55,191.10 370.49,191.10 375.42,191.10 380.36,191.10 385.29,191.10 390.23,191.10 395.16,191.10 400.10,191.10 405.10,191.10 409.90,191.50 414.90,192.70 419.80,195.80 424.60,200.00 429.60,199.40 434.60,199.40 439.40,200.00 444.40,199.70 449.30,195.80 454.50,192.70 459.40,191.70 464.20,191.10 469.20,191.10 474.14,191.10 479.07,191.10 484.01,191.10 488.94,191.10 493.88,191.10 498.81,191.10 503.75,191.10" fill="none" stroke="#3a3a3a" stroke-width="0.9" stroke-dasharray="2.2,1.3,0.8,1.3"/>
<rect x="363.95" y="189.50" width="3.2" height="3.2" fill="none" stroke="#3a3a3a" stroke-width="0.85"/>
<rect x="368.89" y="189.50" width="3.2" height="3.2" fill="none" stroke="#3a3a3a" stroke-width="0.85"/>
<rect x="373.82" y="189.50" width="3.2" height="3.2" fill="none" stroke="#3a3a3a" stroke-width="0.85"/>
<rect x="378.76" y="189.50" width="3.2" height="3.2" fill="none" stroke="#3a3a3a" stroke-width="0.85"/>
<rect x="383.69" y="189.50" width="3.2" height="3.2" fill="none" stroke="#3a3a3a" stroke-width="0.85"/>
<rect x="388.63" y="189.50" width="3.2" height="3.2" fill="none" stroke="#3a3a3a" stroke-width="0.85"/>
<rect x="393.56" y="189.50" width="3.2" height="3.2" fill="none" stroke="#3a3a3a" stroke-width="0.85"/>
<rect x="398.50" y="189.50" width="3.2" height="3.2" fill="none" stroke="#3a3a3a" stroke-width="0.85"/>
<rect x="403.50" y="189.50" width="3.2" height="3.2" fill="none" stroke="#3a3a3a" stroke-width="0.85"/>
<rect x="408.30" y="189.90" width="3.2" height="3.2" fill="none" stroke="#3a3a3a" stroke-width="0.85"/>
<rect x="413.30" y="191.10" width="3.2" height="3.2" fill="none" stroke="#3a3a3a" stroke-width="0.85"/>
<rect x="418.20" y="194.20" width="3.2" height="3.2" fill="none" stroke="#3a3a3a" stroke-width="0.85"/>
<rect x="423.00" y="198.40" width="3.2" height="3.2" fill="none" stroke="#3a3a3a" stroke-width="0.85"/>
<rect x="428.00" y="197.80" width="3.2" height="3.2" fill="none" stroke="#3a3a3a" stroke-width="0.85"/>
<rect x="433.00" y="197.80" width="3.2" height="3.2" fill="none" stroke="#3a3a3a" stroke-width="0.85"/>
<rect x="437.80" y="198.40" width="3.2" height="3.2" fill="none" stroke="#3a3a3a" stroke-width="0.85"/>
<rect x="442.80" y="198.10" width="3.2" height="3.2" fill="none" stroke="#3a3a3a" stroke-width="0.85"/>
<rect x="447.70" y="194.20" width="3.2" height="3.2" fill="none" stroke="#3a3a3a" stroke-width="0.85"/>
<rect x="452.90" y="191.10" width="3.2" height="3.2" fill="none" stroke="#3a3a3a" stroke-width="0.85"/>
<rect x="457.80" y="190.10" width="3.2" height="3.2" fill="none" stroke="#3a3a3a" stroke-width="0.85"/>
<rect x="462.60" y="189.50" width="3.2" height="3.2" fill="none" stroke="#3a3a3a" stroke-width="0.85"/>
<rect x="467.60" y="189.50" width="3.2" height="3.2" fill="none" stroke="#3a3a3a" stroke-width="0.85"/>
<rect x="472.54" y="189.50" width="3.2" height="3.2" fill="none" stroke="#3a3a3a" stroke-width="0.85"/>
<rect x="477.47" y="189.50" width="3.2" height="3.2" fill="none" stroke="#3a3a3a" stroke-width="0.85"/>
<rect x="482.41" y="189.50" width="3.2" height="3.2" fill="none" stroke="#3a3a3a" stroke-width="0.85"/>
<rect x="487.34" y="189.50" width="3.2" height="3.2" fill="none" stroke="#3a3a3a" stroke-width="0.85"/>
<rect x="492.28" y="189.50" width="3.2" height="3.2" fill="none" stroke="#3a3a3a" stroke-width="0.85"/>
<rect x="497.21" y="189.50" width="3.2" height="3.2" fill="none" stroke="#3a3a3a" stroke-width="0.85"/>
<rect x="502.15" y="189.50" width="3.2" height="3.2" fill="none" stroke="#3a3a3a" stroke-width="0.85"/>
<polyline points="365.55,190.90 370.49,190.90 375.42,190.90 380.36,190.90 385.29,190.90 390.23,190.90 395.16,190.90 400.10,190.70 405.10,191.10 409.90,192.70 414.90,195.80 419.80,202.80 424.60,207.80 429.60,196.60 434.60,190.10 439.40,182.60 444.40,167.40 449.30,169.90 454.50,182.60 459.40,187.60 464.20,189.60 469.20,190.40 474.14,190.80 479.07,190.80 484.01,190.80 488.94,190.80 493.88,190.80 498.81,190.80 503.75,190.80" fill="none" stroke="#ff4a4a" stroke-width="0.8" stroke-dasharray="1,0.9"/>
<circle cx="365.55" cy="190.90" r="1.75" fill="none" stroke="#ff2a2a" stroke-width="0.95"/>
<circle cx="370.49" cy="190.90" r="1.75" fill="none" stroke="#ff2a2a" stroke-width="0.95"/>
<circle cx="375.42" cy="190.90" r="1.75" fill="none" stroke="#ff2a2a" stroke-width="0.95"/>
<circle cx="380.36" cy="190.90" r="1.75" fill="none" stroke="#ff2a2a" stroke-width="0.95"/>
<circle cx="385.29" cy="190.90" r="1.75" fill="none" stroke="#ff2a2a" stroke-width="0.95"/>
<circle cx="390.23" cy="190.90" r="1.75" fill="none" stroke="#ff2a2a" stroke-width="0.95"/>
<circle cx="395.16" cy="190.90" r="1.75" fill="none" stroke="#ff2a2a" stroke-width="0.95"/>
<circle cx="400.10" cy="190.70" r="1.75" fill="none" stroke="#ff2a2a" stroke-width="0.95"/>
<circle cx="405.10" cy="191.10" r="1.75" fill="none" stroke="#ff2a2a" stroke-width="0.95"/>
<circle cx="409.90" cy="192.70" r="1.75" fill="none" stroke="#ff2a2a" stroke-width="0.95"/>
<circle cx="414.90" cy="195.80" r="1.75" fill="none" stroke="#ff2a2a" stroke-width="0.95"/>
<circle cx="419.80" cy="202.80" r="1.75" fill="none" stroke="#ff2a2a" stroke-width="0.95"/>
<circle cx="424.60" cy="207.80" r="1.75" fill="none" stroke="#ff2a2a" stroke-width="0.95"/>
<circle cx="429.60" cy="196.60" r="1.75" fill="none" stroke="#ff2a2a" stroke-width="0.95"/>
<circle cx="434.60" cy="190.10" r="1.75" fill="none" stroke="#ff2a2a" stroke-width="0.95"/>
<circle cx="439.40" cy="182.60" r="1.75" fill="none" stroke="#ff2a2a" stroke-width="0.95"/>
<circle cx="444.40" cy="167.40" r="1.75" fill="none" stroke="#ff2a2a" stroke-width="0.95"/>
<circle cx="449.30" cy="169.90" r="1.75" fill="none" stroke="#ff2a2a" stroke-width="0.95"/>
<circle cx="454.50" cy="182.60" r="1.75" fill="none" stroke="#ff2a2a" stroke-width="0.95"/>
<circle cx="459.40" cy="187.60" r="1.75" fill="none" stroke="#ff2a2a" stroke-width="0.95"/>
<circle cx="464.20" cy="189.60" r="1.75" fill="none" stroke="#ff2a2a" stroke-width="0.95"/>
<circle cx="469.20" cy="190.40" r="1.75" fill="none" stroke="#ff2a2a" stroke-width="0.95"/>
<circle cx="474.14" cy="190.80" r="1.75" fill="none" stroke="#ff2a2a" stroke-width="0.95"/>
<circle cx="479.07" cy="190.80" r="1.75" fill="none" stroke="#ff2a2a" stroke-width="0.95"/>
<circle cx="484.01" cy="190.80" r="1.75" fill="none" stroke="#ff2a2a" stroke-width="0.95"/>
<circle cx="488.94" cy="190.80" r="1.75" fill="none" stroke="#ff2a2a" stroke-width="0.95"/>
<circle cx="493.88" cy="190.80" r="1.75" fill="none" stroke="#ff2a2a" stroke-width="0.95"/>
<circle cx="498.81" cy="190.80" r="1.75" fill="none" stroke="#ff2a2a" stroke-width="0.95"/>
<circle cx="503.75" cy="190.80" r="1.75" fill="none" stroke="#ff2a2a" stroke-width="0.95"/>
<polyline points="365.55,190.00 370.49,190.00 375.42,190.00 380.36,190.00 385.29,190.00 390.23,190.00 395.16,190.00 400.10,189.10 405.10,188.80 409.90,187.30 414.90,181.80 419.80,167.10 424.60,169.40 429.60,182.60 434.60,188.80 439.40,195.00 444.40,202.50 449.30,207.80 454.50,197.40 459.40,192.70 464.20,191.10 469.20,190.70 474.14,190.90 479.07,190.90 484.01,190.90 488.94,190.90 493.88,190.90 498.81,190.90 503.75,190.90" fill="none" stroke="#3a3aff" stroke-width="1.4" stroke-dasharray="2.4,1.4"/>
<path d="M365.55,188.05L367.70,191.95L363.40,191.95Z" fill="none" stroke="#2a2aff" stroke-width="0.95"/>
<path d="M370.49,188.05L372.64,191.95L368.34,191.95Z" fill="none" stroke="#2a2aff" stroke-width="0.95"/>
<path d="M375.42,188.05L377.57,191.95L373.27,191.95Z" fill="none" stroke="#2a2aff" stroke-width="0.95"/>
<path d="M380.36,188.05L382.51,191.95L378.21,191.95Z" fill="none" stroke="#2a2aff" stroke-width="0.95"/>
<path d="M385.29,188.05L387.44,191.95L383.14,191.95Z" fill="none" stroke="#2a2aff" stroke-width="0.95"/>
<path d="M390.23,188.05L392.38,191.95L388.08,191.95Z" fill="none" stroke="#2a2aff" stroke-width="0.95"/>
<path d="M395.16,188.05L397.31,191.95L393.01,191.95Z" fill="none" stroke="#2a2aff" stroke-width="0.95"/>
<path d="M400.10,187.15L402.25,191.05L397.95,191.05Z" fill="none" stroke="#2a2aff" stroke-width="0.95"/>
<path d="M405.10,186.85L407.25,190.75L402.95,190.75Z" fill="none" stroke="#2a2aff" stroke-width="0.95"/>
<path d="M409.90,185.35L412.05,189.25L407.75,189.25Z" fill="none" stroke="#2a2aff" stroke-width="0.95"/>
<path d="M414.90,179.85L417.05,183.75L412.75,183.75Z" fill="none" stroke="#2a2aff" stroke-width="0.95"/>
<path d="M419.80,165.15L421.95,169.05L417.65,169.05Z" fill="none" stroke="#2a2aff" stroke-width="0.95"/>
<path d="M424.60,167.45L426.75,171.35L422.45,171.35Z" fill="none" stroke="#2a2aff" stroke-width="0.95"/>
<path d="M429.60,180.65L431.75,184.55L427.45,184.55Z" fill="none" stroke="#2a2aff" stroke-width="0.95"/>
<path d="M434.60,186.85L436.75,190.75L432.45,190.75Z" fill="none" stroke="#2a2aff" stroke-width="0.95"/>
<path d="M439.40,193.05L441.55,196.95L437.25,196.95Z" fill="none" stroke="#2a2aff" stroke-width="0.95"/>
<path d="M444.40,200.55L446.55,204.45L442.25,204.45Z" fill="none" stroke="#2a2aff" stroke-width="0.95"/>
<path d="M449.30,205.85L451.45,209.75L447.15,209.75Z" fill="none" stroke="#2a2aff" stroke-width="0.95"/>
<path d="M454.50,195.45L456.65,199.35L452.35,199.35Z" fill="none" stroke="#2a2aff" stroke-width="0.95"/>
<path d="M459.40,190.75L461.55,194.65L457.25,194.65Z" fill="none" stroke="#2a2aff" stroke-width="0.95"/>
<path d="M464.20,189.15L466.35,193.05L462.05,193.05Z" fill="none" stroke="#2a2aff" stroke-width="0.95"/>
<path d="M469.20,188.75L471.35,192.65L467.05,192.65Z" fill="none" stroke="#2a2aff" stroke-width="0.95"/>
<path d="M474.14,188.95L476.29,192.85L471.99,192.85Z" fill="none" stroke="#2a2aff" stroke-width="0.95"/>
<path d="M479.07,188.95L481.22,192.85L476.92,192.85Z" fill="none" stroke="#2a2aff" stroke-width="0.95"/>
<path d="M484.01,188.95L486.16,192.85L481.86,192.85Z" fill="none" stroke="#2a2aff" stroke-width="0.95"/>
<path d="M488.94,188.95L491.09,192.85L486.79,192.85Z" fill="none" stroke="#2a2aff" stroke-width="0.95"/>
<path d="M493.88,188.95L496.03,192.85L491.73,192.85Z" fill="none" stroke="#2a2aff" stroke-width="0.95"/>
<path d="M498.81,188.95L500.96,192.85L496.66,192.85Z" fill="none" stroke="#2a2aff" stroke-width="0.95"/>
<path d="M503.75,188.95L505.90,192.85L501.60,192.85Z" fill="none" stroke="#2a2aff" stroke-width="0.95"/>
<polyline points="365.55,191.10 370.49,191.10 375.42,191.10 380.36,191.10 385.29,191.10 390.23,191.10 395.16,191.10 400.10,191.10 405.10,191.10 409.90,191.10 414.90,191.30 419.80,194.30 424.60,194.70 429.60,191.60 434.60,191.10 439.40,191.60 444.40,194.30 449.30,194.70 454.50,191.40 459.40,191.10 464.20,191.10 469.20,191.10 474.14,191.10 479.07,191.10 484.01,191.10 488.94,191.10 493.88,191.10 498.81,191.10 503.75,191.10" fill="none" stroke="#ff3aff" stroke-width="1.2" stroke-dasharray="2.4,1.4"/>
<path d="M365.55,193.05L367.70,189.15L363.40,189.15Z" fill="none" stroke="#ff1aff" stroke-width="0.95"/>
<path d="M370.49,193.05L372.64,189.15L368.34,189.15Z" fill="none" stroke="#ff1aff" stroke-width="0.95"/>
<path d="M375.42,193.05L377.57,189.15L373.27,189.15Z" fill="none" stroke="#ff1aff" stroke-width="0.95"/>
<path d="M380.36,193.05L382.51,189.15L378.21,189.15Z" fill="none" stroke="#ff1aff" stroke-width="0.95"/>
<path d="M385.29,193.05L387.44,189.15L383.14,189.15Z" fill="none" stroke="#ff1aff" stroke-width="0.95"/>
<path d="M390.23,193.05L392.38,189.15L388.08,189.15Z" fill="none" stroke="#ff1aff" stroke-width="0.95"/>
<path d="M395.16,193.05L397.31,189.15L393.01,189.15Z" fill="none" stroke="#ff1aff" stroke-width="0.95"/>
<path d="M400.10,193.05L402.25,189.15L397.95,189.15Z" fill="none" stroke="#ff1aff" stroke-width="0.95"/>
<path d="M405.10,193.05L407.25,189.15L402.95,189.15Z" fill="none" stroke="#ff1aff" stroke-width="0.95"/>
<path d="M409.90,193.05L412.05,189.15L407.75,189.15Z" fill="none" stroke="#ff1aff" stroke-width="0.95"/>
<path d="M414.90,193.25L417.05,189.35L412.75,189.35Z" fill="none" stroke="#ff1aff" stroke-width="0.95"/>
<path d="M419.80,196.25L421.95,192.35L417.65,192.35Z" fill="none" stroke="#ff1aff" stroke-width="0.95"/>
<path d="M424.60,196.65L426.75,192.75L422.45,192.75Z" fill="none" stroke="#ff1aff" stroke-width="0.95"/>
<path d="M429.60,193.55L431.75,189.65L427.45,189.65Z" fill="none" stroke="#ff1aff" stroke-width="0.95"/>
<path d="M434.60,193.05L436.75,189.15L432.45,189.15Z" fill="none" stroke="#ff1aff" stroke-width="0.95"/>
<path d="M439.40,193.55L441.55,189.65L437.25,189.65Z" fill="none" stroke="#ff1aff" stroke-width="0.95"/>
<path d="M444.40,196.25L446.55,192.35L442.25,192.35Z" fill="none" stroke="#ff1aff" stroke-width="0.95"/>
<path d="M449.30,196.65L451.45,192.75L447.15,192.75Z" fill="none" stroke="#ff1aff" stroke-width="0.95"/>
<path d="M454.50,193.35L456.65,189.45L452.35,189.45Z" fill="none" stroke="#ff1aff" stroke-width="0.95"/>
<path d="M459.40,193.05L461.55,189.15L457.25,189.15Z" fill="none" stroke="#ff1aff" stroke-width="0.95"/>
<path d="M464.20,193.05L466.35,189.15L462.05,189.15Z" fill="none" stroke="#ff1aff" stroke-width="0.95"/>
<path d="M469.20,193.05L471.35,189.15L467.05,189.15Z" fill="none" stroke="#ff1aff" stroke-width="0.95"/>
<path d="M474.14,193.05L476.29,189.15L471.99,189.15Z" fill="none" stroke="#ff1aff" stroke-width="0.95"/>
<path d="M479.07,193.05L481.22,189.15L476.92,189.15Z" fill="none" stroke="#ff1aff" stroke-width="0.95"/>
<path d="M484.01,193.05L486.16,189.15L481.86,189.15Z" fill="none" stroke="#ff1aff" stroke-width="0.95"/>
<path d="M488.94,193.05L491.09,189.15L486.79,189.15Z" fill="none" stroke="#ff1aff" stroke-width="0.95"/>
<path d="M493.88,193.05L496.03,189.15L491.73,189.15Z" fill="none" stroke="#ff1aff" stroke-width="0.95"/>
<path d="M498.81,193.05L500.96,189.15L496.66,189.15Z" fill="none" stroke="#ff1aff" stroke-width="0.95"/>
<path d="M503.75,193.05L505.90,189.15L501.60,189.15Z" fill="none" stroke="#ff1aff" stroke-width="0.95"/>
<polyline points="516.20,191.10 521.13,191.10 526.06,191.10 530.99,191.10 535.91,191.10 540.84,191.10 545.77,191.10 550.70,191.10 555.70,191.10 560.60,191.10 565.50,191.10 570.50,190.40 575.40,188.90 580.30,185.60 585.20,185.30 590.20,185.60 595.10,188.90 600.00,190.40 605.00,191.10 609.90,191.10 614.80,191.10 619.70,191.10 624.63,191.10 629.56,191.10 634.49,191.10 639.41,191.10 644.34,191.10 649.27,191.10 654.20,191.10" fill="none" stroke="#3a3a3a" stroke-width="0.9" stroke-dasharray="2.2,1.3,0.8,1.3"/>
<rect x="514.60" y="189.50" width="3.2" height="3.2" fill="none" stroke="#3a3a3a" stroke-width="0.85"/>
<rect x="519.53" y="189.50" width="3.2" height="3.2" fill="none" stroke="#3a3a3a" stroke-width="0.85"/>
<rect x="524.46" y="189.50" width="3.2" height="3.2" fill="none" stroke="#3a3a3a" stroke-width="0.85"/>
<rect x="529.39" y="189.50" width="3.2" height="3.2" fill="none" stroke="#3a3a3a" stroke-width="0.85"/>
<rect x="534.31" y="189.50" width="3.2" height="3.2" fill="none" stroke="#3a3a3a" stroke-width="0.85"/>
<rect x="539.24" y="189.50" width="3.2" height="3.2" fill="none" stroke="#3a3a3a" stroke-width="0.85"/>
<rect x="544.17" y="189.50" width="3.2" height="3.2" fill="none" stroke="#3a3a3a" stroke-width="0.85"/>
<rect x="549.10" y="189.50" width="3.2" height="3.2" fill="none" stroke="#3a3a3a" stroke-width="0.85"/>
<rect x="554.10" y="189.50" width="3.2" height="3.2" fill="none" stroke="#3a3a3a" stroke-width="0.85"/>
<rect x="559.00" y="189.50" width="3.2" height="3.2" fill="none" stroke="#3a3a3a" stroke-width="0.85"/>
<rect x="563.90" y="189.50" width="3.2" height="3.2" fill="none" stroke="#3a3a3a" stroke-width="0.85"/>
<rect x="568.90" y="188.80" width="3.2" height="3.2" fill="none" stroke="#3a3a3a" stroke-width="0.85"/>
<rect x="573.80" y="187.30" width="3.2" height="3.2" fill="none" stroke="#3a3a3a" stroke-width="0.85"/>
<rect x="578.70" y="184.00" width="3.2" height="3.2" fill="none" stroke="#3a3a3a" stroke-width="0.85"/>
<rect x="583.60" y="183.70" width="3.2" height="3.2" fill="none" stroke="#3a3a3a" stroke-width="0.85"/>
<rect x="588.60" y="184.00" width="3.2" height="3.2" fill="none" stroke="#3a3a3a" stroke-width="0.85"/>
<rect x="593.50" y="187.30" width="3.2" height="3.2" fill="none" stroke="#3a3a3a" stroke-width="0.85"/>
<rect x="598.40" y="188.80" width="3.2" height="3.2" fill="none" stroke="#3a3a3a" stroke-width="0.85"/>
<rect x="603.40" y="189.50" width="3.2" height="3.2" fill="none" stroke="#3a3a3a" stroke-width="0.85"/>
<rect x="608.30" y="189.50" width="3.2" height="3.2" fill="none" stroke="#3a3a3a" stroke-width="0.85"/>
<rect x="613.20" y="189.50" width="3.2" height="3.2" fill="none" stroke="#3a3a3a" stroke-width="0.85"/>
<rect x="618.10" y="189.50" width="3.2" height="3.2" fill="none" stroke="#3a3a3a" stroke-width="0.85"/>
<rect x="623.03" y="189.50" width="3.2" height="3.2" fill="none" stroke="#3a3a3a" stroke-width="0.85"/>
<rect x="627.96" y="189.50" width="3.2" height="3.2" fill="none" stroke="#3a3a3a" stroke-width="0.85"/>
<rect x="632.89" y="189.50" width="3.2" height="3.2" fill="none" stroke="#3a3a3a" stroke-width="0.85"/>
<rect x="637.81" y="189.50" width="3.2" height="3.2" fill="none" stroke="#3a3a3a" stroke-width="0.85"/>
<rect x="642.74" y="189.50" width="3.2" height="3.2" fill="none" stroke="#3a3a3a" stroke-width="0.85"/>
<rect x="647.67" y="189.50" width="3.2" height="3.2" fill="none" stroke="#3a3a3a" stroke-width="0.85"/>
<rect x="652.60" y="189.50" width="3.2" height="3.2" fill="none" stroke="#3a3a3a" stroke-width="0.85"/>
<polyline points="516.20,191.50 521.13,191.50 526.06,191.50 530.99,191.50 535.91,191.50 540.84,191.50 545.77,191.50 550.70,191.50 555.70,191.50 560.60,192.20 565.50,194.00 570.50,196.80 575.40,198.40 580.30,194.00 585.20,191.10 590.20,188.20 595.10,182.00 600.00,182.70 605.00,188.00 609.90,190.00 614.80,191.10 619.70,191.30 624.63,191.30 629.56,191.30 634.49,191.30 639.41,191.30 644.34,191.30 649.27,191.30 654.20,191.30" fill="none" stroke="#ff4a4a" stroke-width="0.8" stroke-dasharray="1,0.9"/>
<circle cx="516.20" cy="191.50" r="1.75" fill="none" stroke="#ff2a2a" stroke-width="0.95"/>
<circle cx="521.13" cy="191.50" r="1.75" fill="none" stroke="#ff2a2a" stroke-width="0.95"/>
<circle cx="526.06" cy="191.50" r="1.75" fill="none" stroke="#ff2a2a" stroke-width="0.95"/>
<circle cx="530.99" cy="191.50" r="1.75" fill="none" stroke="#ff2a2a" stroke-width="0.95"/>
<circle cx="535.91" cy="191.50" r="1.75" fill="none" stroke="#ff2a2a" stroke-width="0.95"/>
<circle cx="540.84" cy="191.50" r="1.75" fill="none" stroke="#ff2a2a" stroke-width="0.95"/>
<circle cx="545.77" cy="191.50" r="1.75" fill="none" stroke="#ff2a2a" stroke-width="0.95"/>
<circle cx="550.70" cy="191.50" r="1.75" fill="none" stroke="#ff2a2a" stroke-width="0.95"/>
<circle cx="555.70" cy="191.50" r="1.75" fill="none" stroke="#ff2a2a" stroke-width="0.95"/>
<circle cx="560.60" cy="192.20" r="1.75" fill="none" stroke="#ff2a2a" stroke-width="0.95"/>
<circle cx="565.50" cy="194.00" r="1.75" fill="none" stroke="#ff2a2a" stroke-width="0.95"/>
<circle cx="570.50" cy="196.80" r="1.75" fill="none" stroke="#ff2a2a" stroke-width="0.95"/>
<circle cx="575.40" cy="198.40" r="1.75" fill="none" stroke="#ff2a2a" stroke-width="0.95"/>
<circle cx="580.30" cy="194.00" r="1.75" fill="none" stroke="#ff2a2a" stroke-width="0.95"/>
<circle cx="585.20" cy="191.10" r="1.75" fill="none" stroke="#ff2a2a" stroke-width="0.95"/>
<circle cx="590.20" cy="188.20" r="1.75" fill="none" stroke="#ff2a2a" stroke-width="0.95"/>
<circle cx="595.10" cy="182.00" r="1.75" fill="none" stroke="#ff2a2a" stroke-width="0.95"/>
<circle cx="600.00" cy="182.70" r="1.75" fill="none" stroke="#ff2a2a" stroke-width="0.95"/>
<circle cx="605.00" cy="188.00" r="1.75" fill="none" stroke="#ff2a2a" stroke-width="0.95"/>
<circle cx="609.90" cy="190.00" r="1.75" fill="none" stroke="#ff2a2a" stroke-width="0.95"/>
<circle cx="614.80" cy="191.10" r="1.75" fill="none" stroke="#ff2a2a" stroke-width="0.95"/>
<circle cx="619.70" cy="191.30" r="1.75" fill="none" stroke="#ff2a2a" stroke-width="0.95"/>
<circle cx="624.63" cy="191.30" r="1.75" fill="none" stroke="#ff2a2a" stroke-width="0.95"/>
<circle cx="629.56" cy="191.30" r="1.75" fill="none" stroke="#ff2a2a" stroke-width="0.95"/>
<circle cx="634.49" cy="191.30" r="1.75" fill="none" stroke="#ff2a2a" stroke-width="0.95"/>
<circle cx="639.41" cy="191.30" r="1.75" fill="none" stroke="#ff2a2a" stroke-width="0.95"/>
<circle cx="644.34" cy="191.30" r="1.75" fill="none" stroke="#ff2a2a" stroke-width="0.95"/>
<circle cx="649.27" cy="191.30" r="1.75" fill="none" stroke="#ff2a2a" stroke-width="0.95"/>
<circle cx="654.20" cy="191.30" r="1.75" fill="none" stroke="#ff2a2a" stroke-width="0.95"/>
<polyline points="516.20,190.70 521.13,190.70 526.06,190.70 530.99,190.70 535.91,190.70 540.84,190.70 545.77,190.70 550.70,190.70 555.70,190.20 560.60,189.60 565.50,187.50 570.50,181.40 575.40,182.50 580.30,188.00 585.20,190.70 590.20,193.50 595.10,196.50 600.00,197.90 605.00,194.60 609.90,191.80 614.80,191.30 619.70,191.10 624.63,191.10 629.56,191.10 634.49,191.10 639.41,191.10 644.34,191.10 649.27,191.10 654.20,191.10" fill="none" stroke="#3a3aff" stroke-width="1.4" stroke-dasharray="2.4,1.4"/>
<path d="M516.20,188.75L518.35,192.65L514.05,192.65Z" fill="none" stroke="#2a2aff" stroke-width="0.95"/>
<path d="M521.13,188.75L523.28,192.65L518.98,192.65Z" fill="none" stroke="#2a2aff" stroke-width="0.95"/>
<path d="M526.06,188.75L528.21,192.65L523.91,192.65Z" fill="none" stroke="#2a2aff" stroke-width="0.95"/>
<path d="M530.99,188.75L533.14,192.65L528.84,192.65Z" fill="none" stroke="#2a2aff" stroke-width="0.95"/>
<path d="M535.91,188.75L538.06,192.65L533.76,192.65Z" fill="none" stroke="#2a2aff" stroke-width="0.95"/>
<path d="M540.84,188.75L542.99,192.65L538.69,192.65Z" fill="none" stroke="#2a2aff" stroke-width="0.95"/>
<path d="M545.77,188.75L547.92,192.65L543.62,192.65Z" fill="none" stroke="#2a2aff" stroke-width="0.95"/>
<path d="M550.70,188.75L552.85,192.65L548.55,192.65Z" fill="none" stroke="#2a2aff" stroke-width="0.95"/>
<path d="M555.70,188.25L557.85,192.15L553.55,192.15Z" fill="none" stroke="#2a2aff" stroke-width="0.95"/>
<path d="M560.60,187.65L562.75,191.55L558.45,191.55Z" fill="none" stroke="#2a2aff" stroke-width="0.95"/>
<path d="M565.50,185.55L567.65,189.45L563.35,189.45Z" fill="none" stroke="#2a2aff" stroke-width="0.95"/>
<path d="M570.50,179.45L572.65,183.35L568.35,183.35Z" fill="none" stroke="#2a2aff" stroke-width="0.95"/>
<path d="M575.40,180.55L577.55,184.45L573.25,184.45Z" fill="none" stroke="#2a2aff" stroke-width="0.95"/>
<path d="M580.30,186.05L582.45,189.95L578.15,189.95Z" fill="none" stroke="#2a2aff" stroke-width="0.95"/>
<path d="M585.20,188.75L587.35,192.65L583.05,192.65Z" fill="none" stroke="#2a2aff" stroke-width="0.95"/>
<path d="M590.20,191.55L592.35,195.45L588.05,195.45Z" fill="none" stroke="#2a2aff" stroke-width="0.95"/>
<path d="M595.10,194.55L597.25,198.45L592.95,198.45Z" fill="none" stroke="#2a2aff" stroke-width="0.95"/>
<path d="M600.00,195.95L602.15,199.85L597.85,199.85Z" fill="none" stroke="#2a2aff" stroke-width="0.95"/>
<path d="M605.00,192.65L607.15,196.55L602.85,196.55Z" fill="none" stroke="#2a2aff" stroke-width="0.95"/>
<path d="M609.90,189.85L612.05,193.75L607.75,193.75Z" fill="none" stroke="#2a2aff" stroke-width="0.95"/>
<path d="M614.80,189.35L616.95,193.25L612.65,193.25Z" fill="none" stroke="#2a2aff" stroke-width="0.95"/>
<path d="M619.70,189.15L621.85,193.05L617.55,193.05Z" fill="none" stroke="#2a2aff" stroke-width="0.95"/>
<path d="M624.63,189.15L626.78,193.05L622.48,193.05Z" fill="none" stroke="#2a2aff" stroke-width="0.95"/>
<path d="M629.56,189.15L631.71,193.05L627.41,193.05Z" fill="none" stroke="#2a2aff" stroke-width="0.95"/>
<path d="M634.49,189.15L636.64,193.05L632.34,193.05Z" fill="none" stroke="#2a2aff" stroke-width="0.95"/>
<path d="M639.41,189.15L641.56,193.05L637.26,193.05Z" fill="none" stroke="#2a2aff" stroke-width="0.95"/>
<path d="M644.34,189.15L646.49,193.05L642.19,193.05Z" fill="none" stroke="#2a2aff" stroke-width="0.95"/>
<path d="M649.27,189.15L651.42,193.05L647.12,193.05Z" fill="none" stroke="#2a2aff" stroke-width="0.95"/>
<path d="M654.20,189.15L656.35,193.05L652.05,193.05Z" fill="none" stroke="#2a2aff" stroke-width="0.95"/>
<polyline points="516.20,191.50 521.13,191.50 526.06,191.50 530.99,191.50 535.91,191.50 540.84,191.50 545.77,191.50 550.70,191.50 555.70,191.50 560.60,191.50 565.50,191.50 570.50,192.90 575.40,192.90 580.30,191.50 585.20,191.50 590.20,191.50 595.10,192.90 600.00,192.90 605.00,191.50 609.90,191.50 614.80,191.50 619.70,191.50 624.63,191.50 629.56,191.50 634.49,191.50 639.41,191.50 644.34,191.50 649.27,191.50 654.20,191.50" fill="none" stroke="#ff3aff" stroke-width="1.2" stroke-dasharray="2.4,1.4"/>
<path d="M516.20,193.45L518.35,189.55L514.05,189.55Z" fill="none" stroke="#ff1aff" stroke-width="0.95"/>
<path d="M521.13,193.45L523.28,189.55L518.98,189.55Z" fill="none" stroke="#ff1aff" stroke-width="0.95"/>
<path d="M526.06,193.45L528.21,189.55L523.91,189.55Z" fill="none" stroke="#ff1aff" stroke-width="0.95"/>
<path d="M530.99,193.45L533.14,189.55L528.84,189.55Z" fill="none" stroke="#ff1aff" stroke-width="0.95"/>
<path d="M535.91,193.45L538.06,189.55L533.76,189.55Z" fill="none" stroke="#ff1aff" stroke-width="0.95"/>
<path d="M540.84,193.45L542.99,189.55L538.69,189.55Z" fill="none" stroke="#ff1aff" stroke-width="0.95"/>
<path d="M545.77,193.45L547.92,189.55L543.62,189.55Z" fill="none" stroke="#ff1aff" stroke-width="0.95"/>
<path d="M550.70,193.45L552.85,189.55L548.55,189.55Z" fill="none" stroke="#ff1aff" stroke-width="0.95"/>
<path d="M555.70,193.45L557.85,189.55L553.55,189.55Z" fill="none" stroke="#ff1aff" stroke-width="0.95"/>
<path d="M560.60,193.45L562.75,189.55L558.45,189.55Z" fill="none" stroke="#ff1aff" stroke-width="0.95"/>
<path d="M565.50,193.45L567.65,189.55L563.35,189.55Z" fill="none" stroke="#ff1aff" stroke-width="0.95"/>
<path d="M570.50,194.85L572.65,190.95L568.35,190.95Z" fill="none" stroke="#ff1aff" stroke-width="0.95"/>
<path d="M575.40,194.85L577.55,190.95L573.25,190.95Z" fill="none" stroke="#ff1aff" stroke-width="0.95"/>
<path d="M580.30,193.45L582.45,189.55L578.15,189.55Z" fill="none" stroke="#ff1aff" stroke-width="0.95"/>
<path d="M585.20,193.45L587.35,189.55L583.05,189.55Z" fill="none" stroke="#ff1aff" stroke-width="0.95"/>
<path d="M590.20,193.45L592.35,189.55L588.05,189.55Z" fill="none" stroke="#ff1aff" stroke-width="0.95"/>
<path d="M595.10,194.85L597.25,190.95L592.95,190.95Z" fill="none" stroke="#ff1aff" stroke-width="0.95"/>
<path d="M600.00,194.85L602.15,190.95L597.85,190.95Z" fill="none" stroke="#ff1aff" stroke-width="0.95"/>
<path d="M605.00,193.45L607.15,189.55L602.85,189.55Z" fill="none" stroke="#ff1aff" stroke-width="0.95"/>
<path d="M609.90,193.45L612.05,189.55L607.75,189.55Z" fill="none" stroke="#ff1aff" stroke-width="0.95"/>
<path d="M614.80,193.45L616.95,189.55L612.65,189.55Z" fill="none" stroke="#ff1aff" stroke-width="0.95"/>
<path d="M619.70,193.45L621.85,189.55L617.55,189.55Z" fill="none" stroke="#ff1aff" stroke-width="0.95"/>
<path d="M624.63,193.45L626.78,189.55L622.48,189.55Z" fill="none" stroke="#ff1aff" stroke-width="0.95"/>
<path d="M629.56,193.45L631.71,189.55L627.41,189.55Z" fill="none" stroke="#ff1aff" stroke-width="0.95"/>
<path d="M634.49,193.45L636.64,189.55L632.34,189.55Z" fill="none" stroke="#ff1aff" stroke-width="0.95"/>
<path d="M639.41,193.45L641.56,189.55L637.26,189.55Z" fill="none" stroke="#ff1aff" stroke-width="0.95"/>
<path d="M644.34,193.45L646.49,189.55L642.19,189.55Z" fill="none" stroke="#ff1aff" stroke-width="0.95"/>
<path d="M649.27,193.45L651.42,189.55L647.12,189.55Z" fill="none" stroke="#ff1aff" stroke-width="0.95"/>
<path d="M654.20,193.45L656.35,189.55L652.05,189.55Z" fill="none" stroke="#ff1aff" stroke-width="0.95"/>
<polyline points="61.38,324.29 64.23,324.26 67.09,324.21 69.95,324.15 72.80,324.08 75.66,323.99 78.52,323.76 81.38,323.40 84.23,323.04 87.09,322.83 89.95,322.69 92.81,322.11 95.66,320.69 98.52,318.17 101.38,312.91 104.23,304.62 107.09,300.64 109.95,303.59 112.81,310.93 115.66,322.81 118.52,330.33 121.38,334.22 124.24,336.41 127.09,337.28 129.95,337.50 132.81,337.28 135.66,336.41 138.52,334.22 141.38,330.33 144.24,322.81 147.09,310.93 149.95,303.59 152.81,300.64 155.67,304.62 158.52,312.91 161.38,318.17 164.24,320.69 167.09,322.11 169.95,322.69 172.81,322.83 175.67,323.04 178.52,323.40 181.38,323.76 184.24,323.99 187.10,324.08 189.95,324.15 192.81,324.21 195.67,324.26 198.52,324.29" fill="none" stroke="#3a3a3a" stroke-width="0.9" stroke-dasharray="2.2,1.3,0.8,1.3"/>
<rect x="59.78" y="322.69" width="3.2" height="3.2" fill="none" stroke="#3a3a3a" stroke-width="0.85"/>
<rect x="62.63" y="322.66" width="3.2" height="3.2" fill="none" stroke="#3a3a3a" stroke-width="0.85"/>
<rect x="65.49" y="322.61" width="3.2" height="3.2" fill="none" stroke="#3a3a3a" stroke-width="0.85"/>
<rect x="68.35" y="322.55" width="3.2" height="3.2" fill="none" stroke="#3a3a3a" stroke-width="0.85"/>
<rect x="71.20" y="322.48" width="3.2" height="3.2" fill="none" stroke="#3a3a3a" stroke-width="0.85"/>
<rect x="74.06" y="322.39" width="3.2" height="3.2" fill="none" stroke="#3a3a3a" stroke-width="0.85"/>
<rect x="76.92" y="322.16" width="3.2" height="3.2" fill="none" stroke="#3a3a3a" stroke-width="0.85"/>
<rect x="79.78" y="321.80" width="3.2" height="3.2" fill="none" stroke="#3a3a3a" stroke-width="0.85"/>
<rect x="82.63" y="321.44" width="3.2" height="3.2" fill="none" stroke="#3a3a3a" stroke-width="0.85"/>
<rect x="85.49" y="321.23" width="3.2" height="3.2" fill="none" stroke="#3a3a3a" stroke-width="0.85"/>
<rect x="88.35" y="321.09" width="3.2" height="3.2" fill="none" stroke="#3a3a3a" stroke-width="0.85"/>
<rect x="91.21" y="320.51" width="3.2" height="3.2" fill="none" stroke="#3a3a3a" stroke-width="0.85"/>
<rect x="94.06" y="319.09" width="3.2" height="3.2" fill="none" stroke="#3a3a3a" stroke-width="0.85"/>
<rect x="96.92" y="316.57" width="3.2" height="3.2" fill="none" stroke="#3a3a3a" stroke-width="0.85"/>
<rect x="99.78" y="311.31" width="3.2" height="3.2" fill="none" stroke="#3a3a3a" stroke-width="0.85"/>
<rect x="102.63" y="303.02" width="3.2" height="3.2" fill="none" stroke="#3a3a3a" stroke-width="0.85"/>
<rect x="105.49" y="299.04" width="3.2" height="3.2" fill="none" stroke="#3a3a3a" stroke-width="0.85"/>
<rect x="108.35" y="301.99" width="3.2" height="3.2" fill="none" stroke="#3a3a3a" stroke-width="0.85"/>
<rect x="111.21" y="309.33" width="3.2" height="3.2" fill="none" stroke="#3a3a3a" stroke-width="0.85"/>
<rect x="114.06" y="321.21" width="3.2" height="3.2" fill="none" stroke="#3a3a3a" stroke-width="0.85"/>
<rect x="116.92" y="328.73" width="3.2" height="3.2" fill="none" stroke="#3a3a3a" stroke-width="0.85"/>
<rect x="119.78" y="332.62" width="3.2" height="3.2" fill="none" stroke="#3a3a3a" stroke-width="0.85"/>
<rect x="122.64" y="334.81" width="3.2" height="3.2" fill="none" stroke="#3a3a3a" stroke-width="0.85"/>
<rect x="125.49" y="335.68" width="3.2" height="3.2" fill="none" stroke="#3a3a3a" stroke-width="0.85"/>
<rect x="128.35" y="335.90" width="3.2" height="3.2" fill="none" stroke="#3a3a3a" stroke-width="0.85"/>
<rect x="131.21" y="335.68" width="3.2" height="3.2" fill="none" stroke="#3a3a3a" stroke-width="0.85"/>
<rect x="134.06" y="334.81" width="3.2" height="3.2" fill="none" stroke="#3a3a3a" stroke-width="0.85"/>
<rect x="136.92" y="332.62" width="3.2" height="3.2" fill="none" stroke="#3a3a3a" stroke-width="0.85"/>
<rect x="139.78" y="328.73" width="3.2" height="3.2" fill="none" stroke="#3a3a3a" stroke-width="0.85"/>
<rect x="142.64" y="321.21" width="3.2" height="3.2" fill="none" stroke="#3a3a3a" stroke-width="0.85"/>
<rect x="145.49" y="309.33" width="3.2" height="3.2" fill="none" stroke="#3a3a3a" stroke-width="0.85"/>
<rect x="148.35" y="301.99" width="3.2" height="3.2" fill="none" stroke="#3a3a3a" stroke-width="0.85"/>
<rect x="151.21" y="299.04" width="3.2" height="3.2" fill="none" stroke="#3a3a3a" stroke-width="0.85"/>
<rect x="154.07" y="303.02" width="3.2" height="3.2" fill="none" stroke="#3a3a3a" stroke-width="0.85"/>
<rect x="156.92" y="311.31" width="3.2" height="3.2" fill="none" stroke="#3a3a3a" stroke-width="0.85"/>
<rect x="159.78" y="316.57" width="3.2" height="3.2" fill="none" stroke="#3a3a3a" stroke-width="0.85"/>
<rect x="162.64" y="319.09" width="3.2" height="3.2" fill="none" stroke="#3a3a3a" stroke-width="0.85"/>
<rect x="165.49" y="320.51" width="3.2" height="3.2" fill="none" stroke="#3a3a3a" stroke-width="0.85"/>
<rect x="168.35" y="321.09" width="3.2" height="3.2" fill="none" stroke="#3a3a3a" stroke-width="0.85"/>
<rect x="171.21" y="321.23" width="3.2" height="3.2" fill="none" stroke="#3a3a3a" stroke-width="0.85"/>
<rect x="174.07" y="321.44" width="3.2" height="3.2" fill="none" stroke="#3a3a3a" stroke-width="0.85"/>
<rect x="176.92" y="321.80" width="3.2" height="3.2" fill="none" stroke="#3a3a3a" stroke-width="0.85"/>
<rect x="179.78" y="322.16" width="3.2" height="3.2" fill="none" stroke="#3a3a3a" stroke-width="0.85"/>
<rect x="182.64" y="322.39" width="3.2" height="3.2" fill="none" stroke="#3a3a3a" stroke-width="0.85"/>
<rect x="185.50" y="322.48" width="3.2" height="3.2" fill="none" stroke="#3a3a3a" stroke-width="0.85"/>
<rect x="188.35" y="322.55" width="3.2" height="3.2" fill="none" stroke="#3a3a3a" stroke-width="0.85"/>
<rect x="191.21" y="322.61" width="3.2" height="3.2" fill="none" stroke="#3a3a3a" stroke-width="0.85"/>
<rect x="194.07" y="322.66" width="3.2" height="3.2" fill="none" stroke="#3a3a3a" stroke-width="0.85"/>
<rect x="196.92" y="322.69" width="3.2" height="3.2" fill="none" stroke="#3a3a3a" stroke-width="0.85"/>
<polyline points="61.38,326.28 64.23,326.53 67.09,326.78 69.95,327.03 72.80,327.25 75.66,327.48 78.52,327.77 81.38,328.21 84.23,328.81 87.09,329.42 89.95,329.94 92.81,330.77 95.66,332.68 98.52,336.35 101.38,343.92 104.23,357.81 107.09,377.67 109.95,389.06 112.81,378.22 115.66,365.29 118.52,355.66 121.38,350.45 124.24,348.13 127.09,347.39 129.95,347.20 132.81,347.39 135.66,348.13 138.52,350.45 141.38,355.66 144.24,365.29 147.09,378.22 149.95,389.06 152.81,377.67 155.67,357.81 158.52,343.92 161.38,336.35 164.24,332.68 167.09,330.77 169.95,329.94 172.81,329.42 175.67,328.81 178.52,328.21 181.38,327.77 184.24,327.48 187.10,327.25 189.95,327.03 192.81,326.78 195.67,326.53 198.52,326.28" fill="none" stroke="#ff6a6a" stroke-width="0.75"/>
<circle cx="61.38" cy="326.28" r="1.75" fill="none" stroke="#ff2a2a" stroke-width="0.95"/>
<circle cx="64.23" cy="326.53" r="1.75" fill="none" stroke="#ff2a2a" stroke-width="0.95"/>
<circle cx="67.09" cy="326.78" r="1.75" fill="none" stroke="#ff2a2a" stroke-width="0.95"/>
<circle cx="69.95" cy="327.03" r="1.75" fill="none" stroke="#ff2a2a" stroke-width="0.95"/>
<circle cx="72.80" cy="327.25" r="1.75" fill="none" stroke="#ff2a2a" stroke-width="0.95"/>
<circle cx="75.66" cy="327.48" r="1.75" fill="none" stroke="#ff2a2a" stroke-width="0.95"/>
<circle cx="78.52" cy="327.77" r="1.75" fill="none" stroke="#ff2a2a" stroke-width="0.95"/>
<circle cx="81.38" cy="328.21" r="1.75" fill="none" stroke="#ff2a2a" stroke-width="0.95"/>
<circle cx="84.23" cy="328.81" r="1.75" fill="none" stroke="#ff2a2a" stroke-width="0.95"/>
<circle cx="87.09" cy="329.42" r="1.75" fill="none" stroke="#ff2a2a" stroke-width="0.95"/>
<circle cx="89.95" cy="329.94" r="1.75" fill="none" stroke="#ff2a2a" stroke-width="0.95"/>
<circle cx="92.81" cy="330.77" r="1.75" fill="none" stroke="#ff2a2a" stroke-width="0.95"/>
<circle cx="95.66" cy="332.68" r="1.75" fill="none" stroke="#ff2a2a" stroke-width="0.95"/>
<circle cx="98.52" cy="336.35" r="1.75" fill="none" stroke="#ff2a2a" stroke-width="0.95"/>
<circle cx="101.38" cy="343.92" r="1.75" fill="none" stroke="#ff2a2a" stroke-width="0.95"/>
<circle cx="104.23" cy="357.81" r="1.75" fill="none" stroke="#ff2a2a" stroke-width="0.95"/>
<circle cx="107.09" cy="377.67" r="1.75" fill="none" stroke="#ff2a2a" stroke-width="0.95"/>
<circle cx="109.95" cy="389.06" r="1.75" fill="none" stroke="#ff2a2a" stroke-width="0.95"/>
<circle cx="112.81" cy="378.22" r="1.75" fill="none" stroke="#ff2a2a" stroke-width="0.95"/>
<circle cx="115.66" cy="365.29" r="1.75" fill="none" stroke="#ff2a2a" stroke-width="0.95"/>
<circle cx="118.52" cy="355.66" r="1.75" fill="none" stroke="#ff2a2a" stroke-width="0.95"/>
<circle cx="121.38" cy="350.45" r="1.75" fill="none" stroke="#ff2a2a" stroke-width="0.95"/>
<circle cx="124.24" cy="348.13" r="1.75" fill="none" stroke="#ff2a2a" stroke-width="0.95"/>
<circle cx="127.09" cy="347.39" r="1.75" fill="none" stroke="#ff2a2a" stroke-width="0.95"/>
<circle cx="129.95" cy="347.20" r="1.75" fill="none" stroke="#ff2a2a" stroke-width="0.95"/>
<circle cx="132.81" cy="347.39" r="1.75" fill="none" stroke="#ff2a2a" stroke-width="0.95"/>
<circle cx="135.66" cy="348.13" r="1.75" fill="none" stroke="#ff2a2a" stroke-width="0.95"/>
<circle cx="138.52" cy="350.45" r="1.75" fill="none" stroke="#ff2a2a" stroke-width="0.95"/>
<circle cx="141.38" cy="355.66" r="1.75" fill="none" stroke="#ff2a2a" stroke-width="0.95"/>
<circle cx="144.24" cy="365.29" r="1.75" fill="none" stroke="#ff2a2a" stroke-width="0.95"/>
<circle cx="147.09" cy="378.22" r="1.75" fill="none" stroke="#ff2a2a" stroke-width="0.95"/>
<circle cx="149.95" cy="389.06" r="1.75" fill="none" stroke="#ff2a2a" stroke-width="0.95"/>
<circle cx="152.81" cy="377.67" r="1.75" fill="none" stroke="#ff2a2a" stroke-width="0.95"/>
<circle cx="155.67" cy="357.81" r="1.75" fill="none" stroke="#ff2a2a" stroke-width="0.95"/>
<circle cx="158.52" cy="343.92" r="1.75" fill="none" stroke="#ff2a2a" stroke-width="0.95"/>
<circle cx="161.38" cy="336.35" r="1.75" fill="none" stroke="#ff2a2a" stroke-width="0.95"/>
<circle cx="164.24" cy="332.68" r="1.75" fill="none" stroke="#ff2a2a" stroke-width="0.95"/>
<circle cx="167.09" cy="330.77" r="1.75" fill="none" stroke="#ff2a2a" stroke-width="0.95"/>
<circle cx="169.95" cy="329.94" r="1.75" fill="none" stroke="#ff2a2a" stroke-width="0.95"/>
<circle cx="172.81" cy="329.42" r="1.75" fill="none" stroke="#ff2a2a" stroke-width="0.95"/>
<circle cx="175.67" cy="328.81" r="1.75" fill="none" stroke="#ff2a2a" stroke-width="0.95"/>
<circle cx="178.52" cy="328.21" r="1.75" fill="none" stroke="#ff2a2a" stroke-width="0.95"/>
<circle cx="181.38" cy="327.77" r="1.75" fill="none" stroke="#ff2a2a" stroke-width="0.95"/>
<circle cx="184.24" cy="327.48" r="1.75" fill="none" stroke="#ff2a2a" stroke-width="0.95"/>
<circle cx="187.10" cy="327.25" r="1.75" fill="none" stroke="#ff2a2a" stroke-width="0.95"/>
<circle cx="189.95" cy="327.03" r="1.75" fill="none" stroke="#ff2a2a" stroke-width="0.95"/>
<circle cx="192.81" cy="326.78" r="1.75" fill="none" stroke="#ff2a2a" stroke-width="0.95"/>
<circle cx="195.67" cy="326.53" r="1.75" fill="none" stroke="#ff2a2a" stroke-width="0.95"/>
<circle cx="198.52" cy="326.28" r="1.75" fill="none" stroke="#ff2a2a" stroke-width="0.95"/>
<polyline points="227.64,339.81 230.46,339.84 233.28,339.89 236.10,339.95 238.92,340.03 241.74,340.13 244.57,340.24 247.39,340.42 250.21,340.80 253.03,341.37 255.85,341.98 258.67,342.74 261.49,344.30 264.31,346.76 267.14,353.84 269.96,367.79 272.78,383.25 275.60,387.64 278.42,374.40 281.24,351.65 284.06,343.66 286.89,339.73 289.71,337.84 292.53,336.87 295.35,336.80 298.17,336.87 300.99,337.84 303.81,339.73 306.64,343.66 309.46,351.65 312.28,374.40 315.10,387.64 317.92,383.25 320.74,367.79 323.56,353.84 326.39,346.76 329.21,344.30 332.03,342.74 334.85,341.98 337.67,341.37 340.49,340.80 343.31,340.42 346.13,340.24 348.96,340.13 351.78,340.03 354.60,339.95 357.42,339.89 360.24,339.84 363.06,339.81" fill="none" stroke="#3a3a3a" stroke-width="0.9" stroke-dasharray="2.2,1.3,0.8,1.3"/>
<rect x="226.04" y="338.21" width="3.2" height="3.2" fill="none" stroke="#3a3a3a" stroke-width="0.85"/>
<rect x="228.86" y="338.24" width="3.2" height="3.2" fill="none" stroke="#3a3a3a" stroke-width="0.85"/>
<rect x="231.68" y="338.29" width="3.2" height="3.2" fill="none" stroke="#3a3a3a" stroke-width="0.85"/>
<rect x="234.50" y="338.35" width="3.2" height="3.2" fill="none" stroke="#3a3a3a" stroke-width="0.85"/>
<rect x="237.32" y="338.43" width="3.2" height="3.2" fill="none" stroke="#3a3a3a" stroke-width="0.85"/>
<rect x="240.14" y="338.53" width="3.2" height="3.2" fill="none" stroke="#3a3a3a" stroke-width="0.85"/>
<rect x="242.97" y="338.64" width="3.2" height="3.2" fill="none" stroke="#3a3a3a" stroke-width="0.85"/>
<rect x="245.79" y="338.82" width="3.2" height="3.2" fill="none" stroke="#3a3a3a" stroke-width="0.85"/>
<rect x="248.61" y="339.20" width="3.2" height="3.2" fill="none" stroke="#3a3a3a" stroke-width="0.85"/>
<rect x="251.43" y="339.77" width="3.2" height="3.2" fill="none" stroke="#3a3a3a" stroke-width="0.85"/>
<rect x="254.25" y="340.38" width="3.2" height="3.2" fill="none" stroke="#3a3a3a" stroke-width="0.85"/>
<rect x="257.07" y="341.14" width="3.2" height="3.2" fill="none" stroke="#3a3a3a" stroke-width="0.85"/>
<rect x="259.89" y="342.70" width="3.2" height="3.2" fill="none" stroke="#3a3a3a" stroke-width="0.85"/>
<rect x="262.71" y="345.16" width="3.2" height="3.2" fill="none" stroke="#3a3a3a" stroke-width="0.85"/>
<rect x="265.54" y="352.24" width="3.2" height="3.2" fill="none" stroke="#3a3a3a" stroke-width="0.85"/>
<rect x="268.36" y="366.19" width="3.2" height="3.2" fill="none" stroke="#3a3a3a" stroke-width="0.85"/>
<rect x="271.18" y="381.65" width="3.2" height="3.2" fill="none" stroke="#3a3a3a" stroke-width="0.85"/>
<rect x="274.00" y="386.04" width="3.2" height="3.2" fill="none" stroke="#3a3a3a" stroke-width="0.85"/>
<rect x="276.82" y="372.80" width="3.2" height="3.2" fill="none" stroke="#3a3a3a" stroke-width="0.85"/>
<rect x="279.64" y="350.05" width="3.2" height="3.2" fill="none" stroke="#3a3a3a" stroke-width="0.85"/>
<rect x="282.46" y="342.06" width="3.2" height="3.2" fill="none" stroke="#3a3a3a" stroke-width="0.85"/>
<rect x="285.29" y="338.13" width="3.2" height="3.2" fill="none" stroke="#3a3a3a" stroke-width="0.85"/>
<rect x="288.11" y="336.24" width="3.2" height="3.2" fill="none" stroke="#3a3a3a" stroke-width="0.85"/>
<rect x="290.93" y="335.27" width="3.2" height="3.2" fill="none" stroke="#3a3a3a" stroke-width="0.85"/>
<rect x="293.75" y="335.20" width="3.2" height="3.2" fill="none" stroke="#3a3a3a" stroke-width="0.85"/>
<rect x="296.57" y="335.27" width="3.2" height="3.2" fill="none" stroke="#3a3a3a" stroke-width="0.85"/>
<rect x="299.39" y="336.24" width="3.2" height="3.2" fill="none" stroke="#3a3a3a" stroke-width="0.85"/>
<rect x="302.21" y="338.13" width="3.2" height="3.2" fill="none" stroke="#3a3a3a" stroke-width="0.85"/>
<rect x="305.04" y="342.06" width="3.2" height="3.2" fill="none" stroke="#3a3a3a" stroke-width="0.85"/>
<rect x="307.86" y="350.05" width="3.2" height="3.2" fill="none" stroke="#3a3a3a" stroke-width="0.85"/>
<rect x="310.68" y="372.80" width="3.2" height="3.2" fill="none" stroke="#3a3a3a" stroke-width="0.85"/>
<rect x="313.50" y="386.04" width="3.2" height="3.2" fill="none" stroke="#3a3a3a" stroke-width="0.85"/>
<rect x="316.32" y="381.65" width="3.2" height="3.2" fill="none" stroke="#3a3a3a" stroke-width="0.85"/>
<rect x="319.14" y="366.19" width="3.2" height="3.2" fill="none" stroke="#3a3a3a" stroke-width="0.85"/>
<rect x="321.96" y="352.24" width="3.2" height="3.2" fill="none" stroke="#3a3a3a" stroke-width="0.85"/>
<rect x="324.79" y="345.16" width="3.2" height="3.2" fill="none" stroke="#3a3a3a" stroke-width="0.85"/>
<rect x="327.61" y="342.70" width="3.2" height="3.2" fill="none" stroke="#3a3a3a" stroke-width="0.85"/>
<rect x="330.43" y="341.14" width="3.2" height="3.2" fill="none" stroke="#3a3a3a" stroke-width="0.85"/>
<rect x="333.25" y="340.38" width="3.2" height="3.2" fill="none" stroke="#3a3a3a" stroke-width="0.85"/>
<rect x="336.07" y="339.77" width="3.2" height="3.2" fill="none" stroke="#3a3a3a" stroke-width="0.85"/>
<rect x="338.89" y="339.20" width="3.2" height="3.2" fill="none" stroke="#3a3a3a" stroke-width="0.85"/>
<rect x="341.71" y="338.82" width="3.2" height="3.2" fill="none" stroke="#3a3a3a" stroke-width="0.85"/>
<rect x="344.53" y="338.64" width="3.2" height="3.2" fill="none" stroke="#3a3a3a" stroke-width="0.85"/>
<rect x="347.36" y="338.53" width="3.2" height="3.2" fill="none" stroke="#3a3a3a" stroke-width="0.85"/>
<rect x="350.18" y="338.43" width="3.2" height="3.2" fill="none" stroke="#3a3a3a" stroke-width="0.85"/>
<rect x="353.00" y="338.35" width="3.2" height="3.2" fill="none" stroke="#3a3a3a" stroke-width="0.85"/>
<rect x="355.82" y="338.29" width="3.2" height="3.2" fill="none" stroke="#3a3a3a" stroke-width="0.85"/>
<rect x="358.64" y="338.24" width="3.2" height="3.2" fill="none" stroke="#3a3a3a" stroke-width="0.85"/>
<rect x="361.46" y="338.21" width="3.2" height="3.2" fill="none" stroke="#3a3a3a" stroke-width="0.85"/>
<polyline points="227.64,337.58 230.46,337.51 233.28,337.41 236.10,337.28 238.92,337.11 241.74,336.92 244.57,336.71 247.39,336.43 250.21,335.90 253.03,335.28 255.85,334.51 258.67,333.27 261.49,331.07 264.31,327.97 267.14,323.03 269.96,315.56 272.78,309.71 275.60,308.30 278.42,309.60 281.24,315.94 284.06,321.77 286.89,325.26 289.71,326.68 292.53,327.32 295.35,327.40 298.17,327.32 300.99,326.68 303.81,325.26 306.64,321.77 309.46,315.94 312.28,309.60 315.10,308.30 317.92,309.71 320.74,315.56 323.56,323.03 326.39,327.97 329.21,331.07 332.03,333.27 334.85,334.51 337.67,335.28 340.49,335.90 343.31,336.43 346.13,336.71 348.96,336.92 351.78,337.11 354.60,337.28 357.42,337.41 360.24,337.51 363.06,337.58" fill="none" stroke="#ff6a6a" stroke-width="0.75"/>
<circle cx="227.64" cy="337.58" r="1.75" fill="none" stroke="#ff2a2a" stroke-width="0.95"/>
<circle cx="230.46" cy="337.51" r="1.75" fill="none" stroke="#ff2a2a" stroke-width="0.95"/>
<circle cx="233.28" cy="337.41" r="1.75" fill="none" stroke="#ff2a2a" stroke-width="0.95"/>
<circle cx="236.10" cy="337.28" r="1.75" fill="none" stroke="#ff2a2a" stroke-width="0.95"/>
<circle cx="238.92" cy="337.11" r="1.75" fill="none" stroke="#ff2a2a" stroke-width="0.95"/>
<circle cx="241.74" cy="336.92" r="1.75" fill="none" stroke="#ff2a2a" stroke-width="0.95"/>
<circle cx="244.57" cy="336.71" r="1.75" fill="none" stroke="#ff2a2a" stroke-width="0.95"/>
<circle cx="247.39" cy="336.43" r="1.75" fill="none" stroke="#ff2a2a" stroke-width="0.95"/>
<circle cx="250.21" cy="335.90" r="1.75" fill="none" stroke="#ff2a2a" stroke-width="0.95"/>
<circle cx="253.03" cy="335.28" r="1.75" fill="none" stroke="#ff2a2a" stroke-width="0.95"/>
<circle cx="255.85" cy="334.51" r="1.75" fill="none" stroke="#ff2a2a" stroke-width="0.95"/>
<circle cx="258.67" cy="333.27" r="1.75" fill="none" stroke="#ff2a2a" stroke-width="0.95"/>
<circle cx="261.49" cy="331.07" r="1.75" fill="none" stroke="#ff2a2a" stroke-width="0.95"/>
<circle cx="264.31" cy="327.97" r="1.75" fill="none" stroke="#ff2a2a" stroke-width="0.95"/>
<circle cx="267.14" cy="323.03" r="1.75" fill="none" stroke="#ff2a2a" stroke-width="0.95"/>
<circle cx="269.96" cy="315.56" r="1.75" fill="none" stroke="#ff2a2a" stroke-width="0.95"/>
<circle cx="272.78" cy="309.71" r="1.75" fill="none" stroke="#ff2a2a" stroke-width="0.95"/>
<circle cx="275.60" cy="308.30" r="1.75" fill="none" stroke="#ff2a2a" stroke-width="0.95"/>
<circle cx="278.42" cy="309.60" r="1.75" fill="none" stroke="#ff2a2a" stroke-width="0.95"/>
<circle cx="281.24" cy="315.94" r="1.75" fill="none" stroke="#ff2a2a" stroke-width="0.95"/>
<circle cx="284.06" cy="321.77" r="1.75" fill="none" stroke="#ff2a2a" stroke-width="0.95"/>
<circle cx="286.89" cy="325.26" r="1.75" fill="none" stroke="#ff2a2a" stroke-width="0.95"/>
<circle cx="289.71" cy="326.68" r="1.75" fill="none" stroke="#ff2a2a" stroke-width="0.95"/>
<circle cx="292.53" cy="327.32" r="1.75" fill="none" stroke="#ff2a2a" stroke-width="0.95"/>
<circle cx="295.35" cy="327.40" r="1.75" fill="none" stroke="#ff2a2a" stroke-width="0.95"/>
<circle cx="298.17" cy="327.32" r="1.75" fill="none" stroke="#ff2a2a" stroke-width="0.95"/>
<circle cx="300.99" cy="326.68" r="1.75" fill="none" stroke="#ff2a2a" stroke-width="0.95"/>
<circle cx="303.81" cy="325.26" r="1.75" fill="none" stroke="#ff2a2a" stroke-width="0.95"/>
<circle cx="306.64" cy="321.77" r="1.75" fill="none" stroke="#ff2a2a" stroke-width="0.95"/>
<circle cx="309.46" cy="315.94" r="1.75" fill="none" stroke="#ff2a2a" stroke-width="0.95"/>
<circle cx="312.28" cy="309.60" r="1.75" fill="none" stroke="#ff2a2a" stroke-width="0.95"/>
<circle cx="315.10" cy="308.30" r="1.75" fill="none" stroke="#ff2a2a" stroke-width="0.95"/>
<circle cx="317.92" cy="309.71" r="1.75" fill="none" stroke="#ff2a2a" stroke-width="0.95"/>
<circle cx="320.74" cy="315.56" r="1.75" fill="none" stroke="#ff2a2a" stroke-width="0.95"/>
<circle cx="323.56" cy="323.03" r="1.75" fill="none" stroke="#ff2a2a" stroke-width="0.95"/>
<circle cx="326.39" cy="327.97" r="1.75" fill="none" stroke="#ff2a2a" stroke-width="0.95"/>
<circle cx="329.21" cy="331.07" r="1.75" fill="none" stroke="#ff2a2a" stroke-width="0.95"/>
<circle cx="332.03" cy="333.27" r="1.75" fill="none" stroke="#ff2a2a" stroke-width="0.95"/>
<circle cx="334.85" cy="334.51" r="1.75" fill="none" stroke="#ff2a2a" stroke-width="0.95"/>
<circle cx="337.67" cy="335.28" r="1.75" fill="none" stroke="#ff2a2a" stroke-width="0.95"/>
<circle cx="340.49" cy="335.90" r="1.75" fill="none" stroke="#ff2a2a" stroke-width="0.95"/>
<circle cx="343.31" cy="336.43" r="1.75" fill="none" stroke="#ff2a2a" stroke-width="0.95"/>
<circle cx="346.13" cy="336.71" r="1.75" fill="none" stroke="#ff2a2a" stroke-width="0.95"/>
<circle cx="348.96" cy="336.92" r="1.75" fill="none" stroke="#ff2a2a" stroke-width="0.95"/>
<circle cx="351.78" cy="337.11" r="1.75" fill="none" stroke="#ff2a2a" stroke-width="0.95"/>
<circle cx="354.60" cy="337.28" r="1.75" fill="none" stroke="#ff2a2a" stroke-width="0.95"/>
<circle cx="357.42" cy="337.41" r="1.75" fill="none" stroke="#ff2a2a" stroke-width="0.95"/>
<circle cx="360.24" cy="337.51" r="1.75" fill="none" stroke="#ff2a2a" stroke-width="0.95"/>
<circle cx="363.06" cy="337.58" r="1.75" fill="none" stroke="#ff2a2a" stroke-width="0.95"/>
<polyline points="375.41,340.30 378.21,340.30 381.01,340.30 383.81,340.30 386.61,340.30 389.41,340.30 392.21,340.31 395.01,340.40 397.81,340.58 400.61,340.95 403.41,341.87 406.21,342.86 409.01,344.24 411.81,346.65 414.61,353.64 417.41,364.75 420.20,378.06 423.00,382.69 425.80,374.12 428.60,363.42 431.40,356.15 434.20,352.25 437.00,350.86 439.80,350.70 442.60,350.70 445.40,350.70 448.20,350.86 451.00,352.25 453.80,356.15 456.60,363.42 459.40,374.12 462.20,382.69 465.00,378.06 467.79,364.75 470.59,353.64 473.39,346.65 476.19,344.24 478.99,342.86 481.79,341.87 484.59,340.95 487.39,340.58 490.19,340.40 492.99,340.31 495.79,340.30 498.59,340.30 501.39,340.30 504.19,340.30 506.99,340.30 509.79,340.30" fill="none" stroke="#3a3a3a" stroke-width="0.9" stroke-dasharray="2.2,1.3,0.8,1.3"/>
<rect x="373.81" y="338.70" width="3.2" height="3.2" fill="none" stroke="#3a3a3a" stroke-width="0.85"/>
<rect x="376.61" y="338.70" width="3.2" height="3.2" fill="none" stroke="#3a3a3a" stroke-width="0.85"/>
<rect x="379.41" y="338.70" width="3.2" height="3.2" fill="none" stroke="#3a3a3a" stroke-width="0.85"/>
<rect x="382.21" y="338.70" width="3.2" height="3.2" fill="none" stroke="#3a3a3a" stroke-width="0.85"/>
<rect x="385.01" y="338.70" width="3.2" height="3.2" fill="none" stroke="#3a3a3a" stroke-width="0.85"/>
<rect x="387.81" y="338.70" width="3.2" height="3.2" fill="none" stroke="#3a3a3a" stroke-width="0.85"/>
<rect x="390.61" y="338.71" width="3.2" height="3.2" fill="none" stroke="#3a3a3a" stroke-width="0.85"/>
<rect x="393.41" y="338.80" width="3.2" height="3.2" fill="none" stroke="#3a3a3a" stroke-width="0.85"/>
<rect x="396.21" y="338.98" width="3.2" height="3.2" fill="none" stroke="#3a3a3a" stroke-width="0.85"/>
<rect x="399.01" y="339.35" width="3.2" height="3.2" fill="none" stroke="#3a3a3a" stroke-width="0.85"/>
<rect x="401.81" y="340.27" width="3.2" height="3.2" fill="none" stroke="#3a3a3a" stroke-width="0.85"/>
<rect x="404.61" y="341.26" width="3.2" height="3.2" fill="none" stroke="#3a3a3a" stroke-width="0.85"/>
<rect x="407.41" y="342.64" width="3.2" height="3.2" fill="none" stroke="#3a3a3a" stroke-width="0.85"/>
<rect x="410.21" y="345.05" width="3.2" height="3.2" fill="none" stroke="#3a3a3a" stroke-width="0.85"/>
<rect x="413.01" y="352.04" width="3.2" height="3.2" fill="none" stroke="#3a3a3a" stroke-width="0.85"/>
<rect x="415.81" y="363.15" width="3.2" height="3.2" fill="none" stroke="#3a3a3a" stroke-width="0.85"/>
<rect x="418.60" y="376.46" width="3.2" height="3.2" fill="none" stroke="#3a3a3a" stroke-width="0.85"/>
<rect x="421.40" y="381.09" width="3.2" height="3.2" fill="none" stroke="#3a3a3a" stroke-width="0.85"/>
<rect x="424.20" y="372.52" width="3.2" height="3.2" fill="none" stroke="#3a3a3a" stroke-width="0.85"/>
<rect x="427.00" y="361.82" width="3.2" height="3.2" fill="none" stroke="#3a3a3a" stroke-width="0.85"/>
<rect x="429.80" y="354.55" width="3.2" height="3.2" fill="none" stroke="#3a3a3a" stroke-width="0.85"/>
<rect x="432.60" y="350.65" width="3.2" height="3.2" fill="none" stroke="#3a3a3a" stroke-width="0.85"/>
<rect x="435.40" y="349.26" width="3.2" height="3.2" fill="none" stroke="#3a3a3a" stroke-width="0.85"/>
<rect x="438.20" y="349.10" width="3.2" height="3.2" fill="none" stroke="#3a3a3a" stroke-width="0.85"/>
<rect x="441.00" y="349.10" width="3.2" height="3.2" fill="none" stroke="#3a3a3a" stroke-width="0.85"/>
<rect x="443.80" y="349.10" width="3.2" height="3.2" fill="none" stroke="#3a3a3a" stroke-width="0.85"/>
<rect x="446.60" y="349.26" width="3.2" height="3.2" fill="none" stroke="#3a3a3a" stroke-width="0.85"/>
<rect x="449.40" y="350.65" width="3.2" height="3.2" fill="none" stroke="#3a3a3a" stroke-width="0.85"/>
<rect x="452.20" y="354.55" width="3.2" height="3.2" fill="none" stroke="#3a3a3a" stroke-width="0.85"/>
<rect x="455.00" y="361.82" width="3.2" height="3.2" fill="none" stroke="#3a3a3a" stroke-width="0.85"/>
<rect x="457.80" y="372.52" width="3.2" height="3.2" fill="none" stroke="#3a3a3a" stroke-width="0.85"/>
<rect x="460.60" y="381.09" width="3.2" height="3.2" fill="none" stroke="#3a3a3a" stroke-width="0.85"/>
<rect x="463.40" y="376.46" width="3.2" height="3.2" fill="none" stroke="#3a3a3a" stroke-width="0.85"/>
<rect x="466.19" y="363.15" width="3.2" height="3.2" fill="none" stroke="#3a3a3a" stroke-width="0.85"/>
<rect x="468.99" y="352.04" width="3.2" height="3.2" fill="none" stroke="#3a3a3a" stroke-width="0.85"/>
<rect x="471.79" y="345.05" width="3.2" height="3.2" fill="none" stroke="#3a3a3a" stroke-width="0.85"/>
<rect x="474.59" y="342.64" width="3.2" height="3.2" fill="none" stroke="#3a3a3a" stroke-width="0.85"/>
<rect x="477.39" y="341.26" width="3.2" height="3.2" fill="none" stroke="#3a3a3a" stroke-width="0.85"/>
<rect x="480.19" y="340.27" width="3.2" height="3.2" fill="none" stroke="#3a3a3a" stroke-width="0.85"/>
<rect x="482.99" y="339.35" width="3.2" height="3.2" fill="none" stroke="#3a3a3a" stroke-width="0.85"/>
<rect x="485.79" y="338.98" width="3.2" height="3.2" fill="none" stroke="#3a3a3a" stroke-width="0.85"/>
<rect x="488.59" y="338.80" width="3.2" height="3.2" fill="none" stroke="#3a3a3a" stroke-width="0.85"/>
<rect x="491.39" y="338.71" width="3.2" height="3.2" fill="none" stroke="#3a3a3a" stroke-width="0.85"/>
<rect x="494.19" y="338.70" width="3.2" height="3.2" fill="none" stroke="#3a3a3a" stroke-width="0.85"/>
<rect x="496.99" y="338.70" width="3.2" height="3.2" fill="none" stroke="#3a3a3a" stroke-width="0.85"/>
<rect x="499.79" y="338.70" width="3.2" height="3.2" fill="none" stroke="#3a3a3a" stroke-width="0.85"/>
<rect x="502.59" y="338.70" width="3.2" height="3.2" fill="none" stroke="#3a3a3a" stroke-width="0.85"/>
<rect x="505.39" y="338.70" width="3.2" height="3.2" fill="none" stroke="#3a3a3a" stroke-width="0.85"/>
<rect x="508.19" y="338.70" width="3.2" height="3.2" fill="none" stroke="#3a3a3a" stroke-width="0.85"/>
<polyline points="375.41,338.00 378.21,338.00 381.01,338.00 383.81,338.00 386.61,338.00 389.41,338.00 392.21,337.98 395.01,337.87 397.81,337.66 400.61,337.15 403.41,336.30 406.21,335.38 409.01,334.45 411.81,332.67 414.61,328.66 417.41,321.94 420.20,317.95 423.00,318.97 425.80,323.23 428.60,331.60 431.40,337.72 434.20,340.75 437.00,342.35 439.80,342.99 442.60,343.10 445.40,342.99 448.20,342.35 451.00,340.75 453.80,337.72 456.60,331.60 459.40,323.23 462.20,318.97 465.00,317.95 467.79,321.94 470.59,328.66 473.39,332.67 476.19,334.45 478.99,335.38 481.79,336.30 484.59,337.15 487.39,337.66 490.19,337.87 492.99,337.98 495.79,338.00 498.59,338.00 501.39,338.00 504.19,338.00 506.99,338.00 509.79,338.00" fill="none" stroke="#ff6a6a" stroke-width="0.75"/>
<circle cx="375.41" cy="338.00" r="1.75" fill="none" stroke="#ff2a2a" stroke-width="0.95"/>
<circle cx="378.21" cy="338.00" r="1.75" fill="none" stroke="#ff2a2a" stroke-width="0.95"/>
<circle cx="381.01" cy="338.00" r="1.75" fill="none" stroke="#ff2a2a" stroke-width="0.95"/>
<circle cx="383.81" cy="338.00" r="1.75" fill="none" stroke="#ff2a2a" stroke-width="0.95"/>
<circle cx="386.61" cy="338.00" r="1.75" fill="none" stroke="#ff2a2a" stroke-width="0.95"/>
<circle cx="389.41" cy="338.00" r="1.75" fill="none" stroke="#ff2a2a" stroke-width="0.95"/>
<circle cx="392.21" cy="337.98" r="1.75" fill="none" stroke="#ff2a2a" stroke-width="0.95"/>
<circle cx="395.01" cy="337.87" r="1.75" fill="none" stroke="#ff2a2a" stroke-width="0.95"/>
<circle cx="397.81" cy="337.66" r="1.75" fill="none" stroke="#ff2a2a" stroke-width="0.95"/>
<circle cx="400.61" cy="337.15" r="1.75" fill="none" stroke="#ff2a2a" stroke-width="0.95"/>
<circle cx="403.41" cy="336.30" r="1.75" fill="none" stroke="#ff2a2a" stroke-width="0.95"/>
<circle cx="406.21" cy="335.38" r="1.75" fill="none" stroke="#ff2a2a" stroke-width="0.95"/>
<circle cx="409.01" cy="334.45" r="1.75" fill="none" stroke="#ff2a2a" stroke-width="0.95"/>
<circle cx="411.81" cy="332.67" r="1.75" fill="none" stroke="#ff2a2a" stroke-width="0.95"/>
<circle cx="414.61" cy="328.66" r="1.75" fill="none" stroke="#ff2a2a" stroke-width="0.95"/>
<circle cx="417.41" cy="321.94" r="1.75" fill="none" stroke="#ff2a2a" stroke-width="0.95"/>
<circle cx="420.20" cy="317.95" r="1.75" fill="none" stroke="#ff2a2a" stroke-width="0.95"/>
<circle cx="423.00" cy="318.97" r="1.75" fill="none" stroke="#ff2a2a" stroke-width="0.95"/>
<circle cx="425.80" cy="323.23" r="1.75" fill="none" stroke="#ff2a2a" stroke-width="0.95"/>
<circle cx="428.60" cy="331.60" r="1.75" fill="none" stroke="#ff2a2a" stroke-width="0.95"/>
<circle cx="431.40" cy="337.72" r="1.75" fill="none" stroke="#ff2a2a" stroke-width="0.95"/>
<circle cx="434.20" cy="340.75" r="1.75" fill="none" stroke="#ff2a2a" stroke-width="0.95"/>
<circle cx="437.00" cy="342.35" r="1.75" fill="none" stroke="#ff2a2a" stroke-width="0.95"/>
<circle cx="439.80" cy="342.99" r="1.75" fill="none" stroke="#ff2a2a" stroke-width="0.95"/>
<circle cx="442.60" cy="343.10" r="1.75" fill="none" stroke="#ff2a2a" stroke-width="0.95"/>
<circle cx="445.40" cy="342.99" r="1.75" fill="none" stroke="#ff2a2a" stroke-width="0.95"/>
<circle cx="448.20" cy="342.35" r="1.75" fill="none" stroke="#ff2a2a" stroke-width="0.95"/>
<circle cx="451.00" cy="340.75" r="1.75" fill="none" stroke="#ff2a2a" stroke-width="0.95"/>
<circle cx="453.80" cy="337.72" r="1.75" fill="none" stroke="#ff2a2a" stroke-width="0.95"/>
<circle cx="456.60" cy="331.60" r="1.75" fill="none" stroke="#ff2a2a" stroke-width="0.95"/>
<circle cx="459.40" cy="323.23" r="1.75" fill="none" stroke="#ff2a2a" stroke-width="0.95"/>
<circle cx="462.20" cy="318.97" r="1.75" fill="none" stroke="#ff2a2a" stroke-width="0.95"/>
<circle cx="465.00" cy="317.95" r="1.75" fill="none" stroke="#ff2a2a" stroke-width="0.95"/>
<circle cx="467.79" cy="321.94" r="1.75" fill="none" stroke="#ff2a2a" stroke-width="0.95"/>
<circle cx="470.59" cy="328.66" r="1.75" fill="none" stroke="#ff2a2a" stroke-width="0.95"/>
<circle cx="473.39" cy="332.67" r="1.75" fill="none" stroke="#ff2a2a" stroke-width="0.95"/>
<circle cx="476.19" cy="334.45" r="1.75" fill="none" stroke="#ff2a2a" stroke-width="0.95"/>
<circle cx="478.99" cy="335.38" r="1.75" fill="none" stroke="#ff2a2a" stroke-width="0.95"/>
<circle cx="481.79" cy="336.30" r="1.75" fill="none" stroke="#ff2a2a" stroke-width="0.95"/>
<circle cx="484.59" cy="337.15" r="1.75" fill="none" stroke="#ff2a2a" stroke-width="0.95"/>
<circle cx="487.39" cy="337.66" r="1.75" fill="none" stroke="#ff2a2a" stroke-width="0.95"/>
<circle cx="490.19" cy="337.87" r="1.75" fill="none" stroke="#ff2a2a" stroke-width="0.95"/>
<circle cx="492.99" cy="337.98" r="1.75" fill="none" stroke="#ff2a2a" stroke-width="0.95"/>
<circle cx="495.79" cy="338.00" r="1.75" fill="none" stroke="#ff2a2a" stroke-width="0.95"/>
<circle cx="498.59" cy="338.00" r="1.75" fill="none" stroke="#ff2a2a" stroke-width="0.95"/>
<circle cx="501.39" cy="338.00" r="1.75" fill="none" stroke="#ff2a2a" stroke-width="0.95"/>
<circle cx="504.19" cy="338.00" r="1.75" fill="none" stroke="#ff2a2a" stroke-width="0.95"/>
<circle cx="506.99" cy="338.00" r="1.75" fill="none" stroke="#ff2a2a" stroke-width="0.95"/>
<circle cx="509.79" cy="338.00" r="1.75" fill="none" stroke="#ff2a2a" stroke-width="0.95"/>
<polyline points="522.55,340.10 525.38,340.10 528.20,340.10 531.03,340.10 533.86,340.10 536.69,340.10 539.52,340.10 542.35,340.10 545.18,340.10 548.01,340.17 550.84,340.39 553.67,340.76 556.50,341.20 559.33,341.92 562.16,343.86 564.99,347.54 567.82,351.37 570.64,352.40 573.47,346.72 576.30,340.68 579.13,337.54 581.96,334.91 584.79,334.16 587.62,333.92 590.45,333.90 593.28,333.92 596.11,334.16 598.94,334.91 601.77,337.54 604.60,340.68 607.43,346.72 610.26,352.40 613.08,351.37 615.91,347.54 618.74,343.86 621.57,341.92 624.40,341.20 627.23,340.76 630.06,340.39 632.89,340.17 635.72,340.10 638.55,340.10 641.38,340.10 644.21,340.10 647.04,340.10 649.87,340.10 652.70,340.10 655.52,340.10 658.35,340.10" fill="none" stroke="#3a3a3a" stroke-width="0.9" stroke-dasharray="2.2,1.3,0.8,1.3"/>
<rect x="520.95" y="338.50" width="3.2" height="3.2" fill="none" stroke="#3a3a3a" stroke-width="0.85"/>
<rect x="523.78" y="338.50" width="3.2" height="3.2" fill="none" stroke="#3a3a3a" stroke-width="0.85"/>
<rect x="526.60" y="338.50" width="3.2" height="3.2" fill="none" stroke="#3a3a3a" stroke-width="0.85"/>
<rect x="529.43" y="338.50" width="3.2" height="3.2" fill="none" stroke="#3a3a3a" stroke-width="0.85"/>
<rect x="532.26" y="338.50" width="3.2" height="3.2" fill="none" stroke="#3a3a3a" stroke-width="0.85"/>
<rect x="535.09" y="338.50" width="3.2" height="3.2" fill="none" stroke="#3a3a3a" stroke-width="0.85"/>
<rect x="537.92" y="338.50" width="3.2" height="3.2" fill="none" stroke="#3a3a3a" stroke-width="0.85"/>
<rect x="540.75" y="338.50" width="3.2" height="3.2" fill="none" stroke="#3a3a3a" stroke-width="0.85"/>
<rect x="543.58" y="338.50" width="3.2" height="3.2" fill="none" stroke="#3a3a3a" stroke-width="0.85"/>
<rect x="546.41" y="338.57" width="3.2" height="3.2" fill="none" stroke="#3a3a3a" stroke-width="0.85"/>
<rect x="549.24" y="338.79" width="3.2" height="3.2" fill="none" stroke="#3a3a3a" stroke-width="0.85"/>
<rect x="552.07" y="339.16" width="3.2" height="3.2" fill="none" stroke="#3a3a3a" stroke-width="0.85"/>
<rect x="554.90" y="339.60" width="3.2" height="3.2" fill="none" stroke="#3a3a3a" stroke-width="0.85"/>
<rect x="557.73" y="340.32" width="3.2" height="3.2" fill="none" stroke="#3a3a3a" stroke-width="0.85"/>
<rect x="560.56" y="342.26" width="3.2" height="3.2" fill="none" stroke="#3a3a3a" stroke-width="0.85"/>
<rect x="563.39" y="345.94" width="3.2" height="3.2" fill="none" stroke="#3a3a3a" stroke-width="0.85"/>
<rect x="566.22" y="349.77" width="3.2" height="3.2" fill="none" stroke="#3a3a3a" stroke-width="0.85"/>
<rect x="569.04" y="350.80" width="3.2" height="3.2" fill="none" stroke="#3a3a3a" stroke-width="0.85"/>
<rect x="571.87" y="345.12" width="3.2" height="3.2" fill="none" stroke="#3a3a3a" stroke-width="0.85"/>
<rect x="574.70" y="339.08" width="3.2" height="3.2" fill="none" stroke="#3a3a3a" stroke-width="0.85"/>
<rect x="577.53" y="335.94" width="3.2" height="3.2" fill="none" stroke="#3a3a3a" stroke-width="0.85"/>
<rect x="580.36" y="333.31" width="3.2" height="3.2" fill="none" stroke="#3a3a3a" stroke-width="0.85"/>
<rect x="583.19" y="332.56" width="3.2" height="3.2" fill="none" stroke="#3a3a3a" stroke-width="0.85"/>
<rect x="586.02" y="332.32" width="3.2" height="3.2" fill="none" stroke="#3a3a3a" stroke-width="0.85"/>
<rect x="588.85" y="332.30" width="3.2" height="3.2" fill="none" stroke="#3a3a3a" stroke-width="0.85"/>
<rect x="591.68" y="332.32" width="3.2" height="3.2" fill="none" stroke="#3a3a3a" stroke-width="0.85"/>
<rect x="594.51" y="332.56" width="3.2" height="3.2" fill="none" stroke="#3a3a3a" stroke-width="0.85"/>
<rect x="597.34" y="333.31" width="3.2" height="3.2" fill="none" stroke="#3a3a3a" stroke-width="0.85"/>
<rect x="600.17" y="335.94" width="3.2" height="3.2" fill="none" stroke="#3a3a3a" stroke-width="0.85"/>
<rect x="603.00" y="339.08" width="3.2" height="3.2" fill="none" stroke="#3a3a3a" stroke-width="0.85"/>
<rect x="605.83" y="345.12" width="3.2" height="3.2" fill="none" stroke="#3a3a3a" stroke-width="0.85"/>
<rect x="608.66" y="350.80" width="3.2" height="3.2" fill="none" stroke="#3a3a3a" stroke-width="0.85"/>
<rect x="611.48" y="349.77" width="3.2" height="3.2" fill="none" stroke="#3a3a3a" stroke-width="0.85"/>
<rect x="614.31" y="345.94" width="3.2" height="3.2" fill="none" stroke="#3a3a3a" stroke-width="0.85"/>
<rect x="617.14" y="342.26" width="3.2" height="3.2" fill="none" stroke="#3a3a3a" stroke-width="0.85"/>
<rect x="619.97" y="340.32" width="3.2" height="3.2" fill="none" stroke="#3a3a3a" stroke-width="0.85"/>
<rect x="622.80" y="339.60" width="3.2" height="3.2" fill="none" stroke="#3a3a3a" stroke-width="0.85"/>
<rect x="625.63" y="339.16" width="3.2" height="3.2" fill="none" stroke="#3a3a3a" stroke-width="0.85"/>
<rect x="628.46" y="338.79" width="3.2" height="3.2" fill="none" stroke="#3a3a3a" stroke-width="0.85"/>
<rect x="631.29" y="338.57" width="3.2" height="3.2" fill="none" stroke="#3a3a3a" stroke-width="0.85"/>
<rect x="634.12" y="338.50" width="3.2" height="3.2" fill="none" stroke="#3a3a3a" stroke-width="0.85"/>
<rect x="636.95" y="338.50" width="3.2" height="3.2" fill="none" stroke="#3a3a3a" stroke-width="0.85"/>
<rect x="639.78" y="338.50" width="3.2" height="3.2" fill="none" stroke="#3a3a3a" stroke-width="0.85"/>
<rect x="642.61" y="338.50" width="3.2" height="3.2" fill="none" stroke="#3a3a3a" stroke-width="0.85"/>
<rect x="645.44" y="338.50" width="3.2" height="3.2" fill="none" stroke="#3a3a3a" stroke-width="0.85"/>
<rect x="648.27" y="338.50" width="3.2" height="3.2" fill="none" stroke="#3a3a3a" stroke-width="0.85"/>
<rect x="651.10" y="338.50" width="3.2" height="3.2" fill="none" stroke="#3a3a3a" stroke-width="0.85"/>
<rect x="653.92" y="338.50" width="3.2" height="3.2" fill="none" stroke="#3a3a3a" stroke-width="0.85"/>
<rect x="656.75" y="338.50" width="3.2" height="3.2" fill="none" stroke="#3a3a3a" stroke-width="0.85"/>
<polyline points="522.55,338.80 525.38,338.80 528.20,338.80 531.03,338.80 533.86,338.80 536.69,338.80 539.52,338.80 542.35,338.80 545.18,338.80 548.01,338.80 550.84,338.66 553.67,338.11 556.50,337.19 559.33,335.89 562.16,334.21 564.99,330.77 567.82,327.19 570.64,325.85 573.47,325.31 576.30,327.38 579.13,329.25 581.96,330.38 584.79,330.59 587.62,330.54 590.45,330.50 593.28,330.54 596.11,330.59 598.94,330.38 601.77,329.25 604.60,327.38 607.43,325.31 610.26,325.85 613.08,327.19 615.91,330.77 618.74,334.21 621.57,335.89 624.40,337.19 627.23,338.11 630.06,338.66 632.89,338.80 635.72,338.80 638.55,338.80 641.38,338.80 644.21,338.80 647.04,338.80 649.87,338.80 652.70,338.80 655.52,338.80 658.35,338.80" fill="none" stroke="#ff6a6a" stroke-width="0.75"/>
<circle cx="522.55" cy="338.80" r="1.75" fill="none" stroke="#ff2a2a" stroke-width="0.95"/>
<circle cx="525.38" cy="338.80" r="1.75" fill="none" stroke="#ff2a2a" stroke-width="0.95"/>
<circle cx="528.20" cy="338.80" r="1.75" fill="none" stroke="#ff2a2a" stroke-width="0.95"/>
<circle cx="531.03" cy="338.80" r="1.75" fill="none" stroke="#ff2a2a" stroke-width="0.95"/>
<circle cx="533.86" cy="338.80" r="1.75" fill="none" stroke="#ff2a2a" stroke-width="0.95"/>
<circle cx="536.69" cy="338.80" r="1.75" fill="none" stroke="#ff2a2a" stroke-width="0.95"/>
<circle cx="539.52" cy="338.80" r="1.75" fill="none" stroke="#ff2a2a" stroke-width="0.95"/>
<circle cx="542.35" cy="338.80" r="1.75" fill="none" stroke="#ff2a2a" stroke-width="0.95"/>
<circle cx="545.18" cy="338.80" r="1.75" fill="none" stroke="#ff2a2a" stroke-width="0.95"/>
<circle cx="548.01" cy="338.80" r="1.75" fill="none" stroke="#ff2a2a" stroke-width="0.95"/>
<circle cx="550.84" cy="338.66" r="1.75" fill="none" stroke="#ff2a2a" stroke-width="0.95"/>
<circle cx="553.67" cy="338.11" r="1.75" fill="none" stroke="#ff2a2a" stroke-width="0.95"/>
<circle cx="556.50" cy="337.19" r="1.75" fill="none" stroke="#ff2a2a" stroke-width="0.95"/>
<circle cx="559.33" cy="335.89" r="1.75" fill="none" stroke="#ff2a2a" stroke-width="0.95"/>
<circle cx="562.16" cy="334.21" r="1.75" fill="none" stroke="#ff2a2a" stroke-width="0.95"/>
<circle cx="564.99" cy="330.77" r="1.75" fill="none" stroke="#ff2a2a" stroke-width="0.95"/>
<circle cx="567.82" cy="327.19" r="1.75" fill="none" stroke="#ff2a2a" stroke-width="0.95"/>
<circle cx="570.64" cy="325.85" r="1.75" fill="none" stroke="#ff2a2a" stroke-width="0.95"/>
<circle cx="573.47" cy="325.31" r="1.75" fill="none" stroke="#ff2a2a" stroke-width="0.95"/>
<circle cx="576.30" cy="327.38" r="1.75" fill="none" stroke="#ff2a2a" stroke-width="0.95"/>
<circle cx="579.13" cy="329.25" r="1.75" fill="none" stroke="#ff2a2a" stroke-width="0.95"/>
<circle cx="581.96" cy="330.38" r="1.75" fill="none" stroke="#ff2a2a" stroke-width="0.95"/>
<circle cx="584.79" cy="330.59" r="1.75" fill="none" stroke="#ff2a2a" stroke-width="0.95"/>
<circle cx="587.62" cy="330.54" r="1.75" fill="none" stroke="#ff2a2a" stroke-width="0.95"/>
<circle cx="590.45" cy="330.50" r="1.75" fill="none" stroke="#ff2a2a" stroke-width="0.95"/>
<circle cx="593.28" cy="330.54" r="1.75" fill="none" stroke="#ff2a2a" stroke-width="0.95"/>
<circle cx="596.11" cy="330.59" r="1.75" fill="none" stroke="#ff2a2a" stroke-width="0.95"/>
<circle cx="598.94" cy="330.38" r="1.75" fill="none" stroke="#ff2a2a" stroke-width="0.95"/>
<circle cx="601.77" cy="329.25" r="1.75" fill="none" stroke="#ff2a2a" stroke-width="0.95"/>
<circle cx="604.60" cy="327.38" r="1.75" fill="none" stroke="#ff2a2a" stroke-width="0.95"/>
<circle cx="607.43" cy="325.31" r="1.75" fill="none" stroke="#ff2a2a" stroke-width="0.95"/>
<circle cx="610.26" cy="325.85" r="1.75" fill="none" stroke="#ff2a2a" stroke-width="0.95"/>
<circle cx="613.08" cy="327.19" r="1.75" fill="none" stroke="#ff2a2a" stroke-width="0.95"/>
<circle cx="615.91" cy="330.77" r="1.75" fill="none" stroke="#ff2a2a" stroke-width="0.95"/>
<circle cx="618.74" cy="334.21" r="1.75" fill="none" stroke="#ff2a2a" stroke-width="0.95"/>
<circle cx="621.57" cy="335.89" r="1.75" fill="none" stroke="#ff2a2a" stroke-width="0.95"/>
<circle cx="624.40" cy="337.19" r="1.75" fill="none" stroke="#ff2a2a" stroke-width="0.95"/>
<circle cx="627.23" cy="338.11" r="1.75" fill="none" stroke="#ff2a2a" stroke-width="0.95"/>
<circle cx="630.06" cy="338.66" r="1.75" fill="none" stroke="#ff2a2a" stroke-width="0.95"/>
<circle cx="632.89" cy="338.80" r="1.75" fill="none" stroke="#ff2a2a" stroke-width="0.95"/>
<circle cx="635.72" cy="338.80" r="1.75" fill="none" stroke="#ff2a2a" stroke-width="0.95"/>
<circle cx="638.55" cy="338.80" r="1.75" fill="none" stroke="#ff2a2a" stroke-width="0.95"/>
<circle cx="641.38" cy="338.80" r="1.75" fill="none" stroke="#ff2a2a" stroke-width="0.95"/>
<circle cx="644.21" cy="338.80" r="1.75" fill="none" stroke="#ff2a2a" stroke-width="0.95"/>
<circle cx="647.04" cy="338.80" r="1.75" fill="none" stroke="#ff2a2a" stroke-width="0.95"/>
<circle cx="649.87" cy="338.80" r="1.75" fill="none" stroke="#ff2a2a" stroke-width="0.95"/>
<circle cx="652.70" cy="338.80" r="1.75" fill="none" stroke="#ff2a2a" stroke-width="0.95"/>
<circle cx="655.52" cy="338.80" r="1.75" fill="none" stroke="#ff2a2a" stroke-width="0.95"/>
<circle cx="658.35" cy="338.80" r="1.75" fill="none" stroke="#ff2a2a" stroke-width="0.95"/>
<polyline points="62.46,446.60 67.27,446.60 72.07,446.60 76.88,446.60 81.69,446.60 86.49,446.60 91.30,446.30 96.10,446.30 100.90,446.30 105.60,445.50 110.40,443.90 115.20,447.20 120.00,451.30 124.70,458.20 129.50,466.90 134.30,478.40 139.10,505.90 144.00,492.40 148.80,462.80 153.70,452.90 158.50,450.10 163.40,448.80 168.20,448.00 173.01,447.30 177.81,447.30 182.62,447.30 187.43,447.30 192.23,447.30 197.04,447.30" fill="none" stroke="#3a3a3a" stroke-width="0.9" stroke-dasharray="2.2,1.3,0.8,1.3"/>
<rect x="60.86" y="445.00" width="3.2" height="3.2" fill="none" stroke="#3a3a3a" stroke-width="0.85"/>
<rect x="65.67" y="445.00" width="3.2" height="3.2" fill="none" stroke="#3a3a3a" stroke-width="0.85"/>
<rect x="70.47" y="445.00" width="3.2" height="3.2" fill="none" stroke="#3a3a3a" stroke-width="0.85"/>
<rect x="75.28" y="445.00" width="3.2" height="3.2" fill="none" stroke="#3a3a3a" stroke-width="0.85"/>
<rect x="80.09" y="445.00" width="3.2" height="3.2" fill="none" stroke="#3a3a3a" stroke-width="0.85"/>
<rect x="84.89" y="445.00" width="3.2" height="3.2" fill="none" stroke="#3a3a3a" stroke-width="0.85"/>
<rect x="89.70" y="444.70" width="3.2" height="3.2" fill="none" stroke="#3a3a3a" stroke-width="0.85"/>
<rect x="94.50" y="444.70" width="3.2" height="3.2" fill="none" stroke="#3a3a3a" stroke-width="0.85"/>
<rect x="99.30" y="444.70" width="3.2" height="3.2" fill="none" stroke="#3a3a3a" stroke-width="0.85"/>
<rect x="104.00" y="443.90" width="3.2" height="3.2" fill="none" stroke="#3a3a3a" stroke-width="0.85"/>
<rect x="108.80" y="442.30" width="3.2" height="3.2" fill="none" stroke="#3a3a3a" stroke-width="0.85"/>
<rect x="113.60" y="445.60" width="3.2" height="3.2" fill="none" stroke="#3a3a3a" stroke-width="0.85"/>
<rect x="118.40" y="449.70" width="3.2" height="3.2" fill="none" stroke="#3a3a3a" stroke-width="0.85"/>
<rect x="123.10" y="456.60" width="3.2" height="3.2" fill="none" stroke="#3a3a3a" stroke-width="0.85"/>
<rect x="127.90" y="465.30" width="3.2" height="3.2" fill="none" stroke="#3a3a3a" stroke-width="0.85"/>
<rect x="132.70" y="476.80" width="3.2" height="3.2" fill="none" stroke="#3a3a3a" stroke-width="0.85"/>
<rect x="137.50" y="504.30" width="3.2" height="3.2" fill="none" stroke="#3a3a3a" stroke-width="0.85"/>
<rect x="142.40" y="490.80" width="3.2" height="3.2" fill="none" stroke="#3a3a3a" stroke-width="0.85"/>
<rect x="147.20" y="461.20" width="3.2" height="3.2" fill="none" stroke="#3a3a3a" stroke-width="0.85"/>
<rect x="152.10" y="451.30" width="3.2" height="3.2" fill="none" stroke="#3a3a3a" stroke-width="0.85"/>
<rect x="156.90" y="448.50" width="3.2" height="3.2" fill="none" stroke="#3a3a3a" stroke-width="0.85"/>
<rect x="161.80" y="447.20" width="3.2" height="3.2" fill="none" stroke="#3a3a3a" stroke-width="0.85"/>
<rect x="166.60" y="446.40" width="3.2" height="3.2" fill="none" stroke="#3a3a3a" stroke-width="0.85"/>
<rect x="171.41" y="445.70" width="3.2" height="3.2" fill="none" stroke="#3a3a3a" stroke-width="0.85"/>
<rect x="176.21" y="445.70" width="3.2" height="3.2" fill="none" stroke="#3a3a3a" stroke-width="0.85"/>
<rect x="181.02" y="445.70" width="3.2" height="3.2" fill="none" stroke="#3a3a3a" stroke-width="0.85"/>
<rect x="185.83" y="445.70" width="3.2" height="3.2" fill="none" stroke="#3a3a3a" stroke-width="0.85"/>
<rect x="190.63" y="445.70" width="3.2" height="3.2" fill="none" stroke="#3a3a3a" stroke-width="0.85"/>
<rect x="195.44" y="445.70" width="3.2" height="3.2" fill="none" stroke="#3a3a3a" stroke-width="0.85"/>
<polyline points="62.46,447.00 67.27,447.00 72.07,447.00 76.88,447.00 81.69,447.00 86.49,447.00 91.30,448.00 96.10,449.30 100.90,450.10 105.60,453.30 110.40,464.10 115.20,495.70 120.00,503.90 124.70,477.60 129.50,466.90 134.30,461.50 139.10,458.70 144.00,439.80 148.80,441.10 153.70,445.50 158.50,446.30 163.40,446.70 168.20,446.70 173.01,446.80 177.81,446.80 182.62,446.80 187.43,446.80 192.23,446.80 197.04,446.80" fill="none" stroke="#ff6a6a" stroke-width="0.75"/>
<circle cx="62.46" cy="447.00" r="1.75" fill="none" stroke="#ff2a2a" stroke-width="0.95"/>
<circle cx="67.27" cy="447.00" r="1.75" fill="none" stroke="#ff2a2a" stroke-width="0.95"/>
<circle cx="72.07" cy="447.00" r="1.75" fill="none" stroke="#ff2a2a" stroke-width="0.95"/>
<circle cx="76.88" cy="447.00" r="1.75" fill="none" stroke="#ff2a2a" stroke-width="0.95"/>
<circle cx="81.69" cy="447.00" r="1.75" fill="none" stroke="#ff2a2a" stroke-width="0.95"/>
<circle cx="86.49" cy="447.00" r="1.75" fill="none" stroke="#ff2a2a" stroke-width="0.95"/>
<circle cx="91.30" cy="448.00" r="1.75" fill="none" stroke="#ff2a2a" stroke-width="0.95"/>
<circle cx="96.10" cy="449.30" r="1.75" fill="none" stroke="#ff2a2a" stroke-width="0.95"/>
<circle cx="100.90" cy="450.10" r="1.75" fill="none" stroke="#ff2a2a" stroke-width="0.95"/>
<circle cx="105.60" cy="453.30" r="1.75" fill="none" stroke="#ff2a2a" stroke-width="0.95"/>
<circle cx="110.40" cy="464.10" r="1.75" fill="none" stroke="#ff2a2a" stroke-width="0.95"/>
<circle cx="115.20" cy="495.70" r="1.75" fill="none" stroke="#ff2a2a" stroke-width="0.95"/>
<circle cx="120.00" cy="503.90" r="1.75" fill="none" stroke="#ff2a2a" stroke-width="0.95"/>
<circle cx="124.70" cy="477.60" r="1.75" fill="none" stroke="#ff2a2a" stroke-width="0.95"/>
<circle cx="129.50" cy="466.90" r="1.75" fill="none" stroke="#ff2a2a" stroke-width="0.95"/>
<circle cx="134.30" cy="461.50" r="1.75" fill="none" stroke="#ff2a2a" stroke-width="0.95"/>
<circle cx="139.10" cy="458.70" r="1.75" fill="none" stroke="#ff2a2a" stroke-width="0.95"/>
<circle cx="144.00" cy="439.80" r="1.75" fill="none" stroke="#ff2a2a" stroke-width="0.95"/>
<circle cx="148.80" cy="441.10" r="1.75" fill="none" stroke="#ff2a2a" stroke-width="0.95"/>
<circle cx="153.70" cy="445.50" r="1.75" fill="none" stroke="#ff2a2a" stroke-width="0.95"/>
<circle cx="158.50" cy="446.30" r="1.75" fill="none" stroke="#ff2a2a" stroke-width="0.95"/>
<circle cx="163.40" cy="446.70" r="1.75" fill="none" stroke="#ff2a2a" stroke-width="0.95"/>
<circle cx="168.20" cy="446.70" r="1.75" fill="none" stroke="#ff2a2a" stroke-width="0.95"/>
<circle cx="173.01" cy="446.80" r="1.75" fill="none" stroke="#ff2a2a" stroke-width="0.95"/>
<circle cx="177.81" cy="446.80" r="1.75" fill="none" stroke="#ff2a2a" stroke-width="0.95"/>
<circle cx="182.62" cy="446.80" r="1.75" fill="none" stroke="#ff2a2a" stroke-width="0.95"/>
<circle cx="187.43" cy="446.80" r="1.75" fill="none" stroke="#ff2a2a" stroke-width="0.95"/>
<circle cx="192.23" cy="446.80" r="1.75" fill="none" stroke="#ff2a2a" stroke-width="0.95"/>
<circle cx="197.04" cy="446.80" r="1.75" fill="none" stroke="#ff2a2a" stroke-width="0.95"/>
<polyline points="228.80,457.50 233.55,457.50 238.30,457.50 243.05,457.50 247.80,457.50 252.55,457.50 257.30,457.70 262.00,458.30 266.70,459.10 271.70,460.30 276.40,465.30 281.30,479.30 286.00,484.60 290.70,462.10 295.50,450.90 300.30,442.80 305.00,433.80 309.90,437.30 314.60,447.80 319.30,454.00 323.90,456.00 328.80,456.80 333.30,457.10 338.05,457.30 342.80,457.30 347.55,457.30 352.30,457.30 357.05,457.30 361.80,457.30" fill="none" stroke="#3a3a3a" stroke-width="0.9" stroke-dasharray="2.2,1.3,0.8,1.3"/>
<rect x="227.20" y="455.90" width="3.2" height="3.2" fill="none" stroke="#3a3a3a" stroke-width="0.85"/>
<rect x="231.95" y="455.90" width="3.2" height="3.2" fill="none" stroke="#3a3a3a" stroke-width="0.85"/>
<rect x="236.70" y="455.90" width="3.2" height="3.2" fill="none" stroke="#3a3a3a" stroke-width="0.85"/>
<rect x="241.45" y="455.90" width="3.2" height="3.2" fill="none" stroke="#3a3a3a" stroke-width="0.85"/>
<rect x="246.20" y="455.90" width="3.2" height="3.2" fill="none" stroke="#3a3a3a" stroke-width="0.85"/>
<rect x="250.95" y="455.90" width="3.2" height="3.2" fill="none" stroke="#3a3a3a" stroke-width="0.85"/>
<rect x="255.70" y="456.10" width="3.2" height="3.2" fill="none" stroke="#3a3a3a" stroke-width="0.85"/>
<rect x="260.40" y="456.70" width="3.2" height="3.2" fill="none" stroke="#3a3a3a" stroke-width="0.85"/>
<rect x="265.10" y="457.50" width="3.2" height="3.2" fill="none" stroke="#3a3a3a" stroke-width="0.85"/>
<rect x="270.10" y="458.70" width="3.2" height="3.2" fill="none" stroke="#3a3a3a" stroke-width="0.85"/>
<rect x="274.80" y="463.70" width="3.2" height="3.2" fill="none" stroke="#3a3a3a" stroke-width="0.85"/>
<rect x="279.70" y="477.70" width="3.2" height="3.2" fill="none" stroke="#3a3a3a" stroke-width="0.85"/>
<rect x="284.40" y="483.00" width="3.2" height="3.2" fill="none" stroke="#3a3a3a" stroke-width="0.85"/>
<rect x="289.10" y="460.50" width="3.2" height="3.2" fill="none" stroke="#3a3a3a" stroke-width="0.85"/>
<rect x="293.90" y="449.30" width="3.2" height="3.2" fill="none" stroke="#3a3a3a" stroke-width="0.85"/>
<rect x="298.70" y="441.20" width="3.2" height="3.2" fill="none" stroke="#3a3a3a" stroke-width="0.85"/>
<rect x="303.40" y="432.20" width="3.2" height="3.2" fill="none" stroke="#3a3a3a" stroke-width="0.85"/>
<rect x="308.30" y="435.70" width="3.2" height="3.2" fill="none" stroke="#3a3a3a" stroke-width="0.85"/>
<rect x="313.00" y="446.20" width="3.2" height="3.2" fill="none" stroke="#3a3a3a" stroke-width="0.85"/>
<rect x="317.70" y="452.40" width="3.2" height="3.2" fill="none" stroke="#3a3a3a" stroke-width="0.85"/>
<rect x="322.30" y="454.40" width="3.2" height="3.2" fill="none" stroke="#3a3a3a" stroke-width="0.85"/>
<rect x="327.20" y="455.20" width="3.2" height="3.2" fill="none" stroke="#3a3a3a" stroke-width="0.85"/>
<rect x="331.70" y="455.50" width="3.2" height="3.2" fill="none" stroke="#3a3a3a" stroke-width="0.85"/>
<rect x="336.45" y="455.70" width="3.2" height="3.2" fill="none" stroke="#3a3a3a" stroke-width="0.85"/>
<rect x="341.20" y="455.70" width="3.2" height="3.2" fill="none" stroke="#3a3a3a" stroke-width="0.85"/>
<rect x="345.95" y="455.70" width="3.2" height="3.2" fill="none" stroke="#3a3a3a" stroke-width="0.85"/>
<rect x="350.70" y="455.70" width="3.2" height="3.2" fill="none" stroke="#3a3a3a" stroke-width="0.85"/>
<rect x="355.45" y="455.70" width="3.2" height="3.2" fill="none" stroke="#3a3a3a" stroke-width="0.85"/>
<rect x="360.20" y="455.70" width="3.2" height="3.2" fill="none" stroke="#3a3a3a" stroke-width="0.85"/>
<polyline points="228.80,457.20 233.55,457.20 238.30,457.20 243.05,457.20 247.80,457.20 252.55,457.20 257.30,456.80 262.00,456.50 266.70,456.00 271.70,453.60 276.40,446.60 281.30,433.80 286.00,436.70 290.70,443.70 295.50,451.30 300.30,458.90 305.00,479.00 309.90,486.00 314.60,468.20 319.30,461.20 323.90,459.10 328.80,458.50 333.30,458.30 338.05,458.00 342.80,458.00 347.55,458.00 352.30,458.00 357.05,458.00 361.80,458.00" fill="none" stroke="#ff6a6a" stroke-width="0.75"/>
<circle cx="228.80" cy="457.20" r="1.75" fill="none" stroke="#ff2a2a" stroke-width="0.95"/>
<circle cx="233.55" cy="457.20" r="1.75" fill="none" stroke="#ff2a2a" stroke-width="0.95"/>
<circle cx="238.30" cy="457.20" r="1.75" fill="none" stroke="#ff2a2a" stroke-width="0.95"/>
<circle cx="243.05" cy="457.20" r="1.75" fill="none" stroke="#ff2a2a" stroke-width="0.95"/>
<circle cx="247.80" cy="457.20" r="1.75" fill="none" stroke="#ff2a2a" stroke-width="0.95"/>
<circle cx="252.55" cy="457.20" r="1.75" fill="none" stroke="#ff2a2a" stroke-width="0.95"/>
<circle cx="257.30" cy="456.80" r="1.75" fill="none" stroke="#ff2a2a" stroke-width="0.95"/>
<circle cx="262.00" cy="456.50" r="1.75" fill="none" stroke="#ff2a2a" stroke-width="0.95"/>
<circle cx="266.70" cy="456.00" r="1.75" fill="none" stroke="#ff2a2a" stroke-width="0.95"/>
<circle cx="271.70" cy="453.60" r="1.75" fill="none" stroke="#ff2a2a" stroke-width="0.95"/>
<circle cx="276.40" cy="446.60" r="1.75" fill="none" stroke="#ff2a2a" stroke-width="0.95"/>
<circle cx="281.30" cy="433.80" r="1.75" fill="none" stroke="#ff2a2a" stroke-width="0.95"/>
<circle cx="286.00" cy="436.70" r="1.75" fill="none" stroke="#ff2a2a" stroke-width="0.95"/>
<circle cx="290.70" cy="443.70" r="1.75" fill="none" stroke="#ff2a2a" stroke-width="0.95"/>
<circle cx="295.50" cy="451.30" r="1.75" fill="none" stroke="#ff2a2a" stroke-width="0.95"/>
<circle cx="300.30" cy="458.90" r="1.75" fill="none" stroke="#ff2a2a" stroke-width="0.95"/>
<circle cx="305.00" cy="479.00" r="1.75" fill="none" stroke="#ff2a2a" stroke-width="0.95"/>
<circle cx="309.90" cy="486.00" r="1.75" fill="none" stroke="#ff2a2a" stroke-width="0.95"/>
<circle cx="314.60" cy="468.20" r="1.75" fill="none" stroke="#ff2a2a" stroke-width="0.95"/>
<circle cx="319.30" cy="461.20" r="1.75" fill="none" stroke="#ff2a2a" stroke-width="0.95"/>
<circle cx="323.90" cy="459.10" r="1.75" fill="none" stroke="#ff2a2a" stroke-width="0.95"/>
<circle cx="328.80" cy="458.50" r="1.75" fill="none" stroke="#ff2a2a" stroke-width="0.95"/>
<circle cx="333.30" cy="458.30" r="1.75" fill="none" stroke="#ff2a2a" stroke-width="0.95"/>
<circle cx="338.05" cy="458.00" r="1.75" fill="none" stroke="#ff2a2a" stroke-width="0.95"/>
<circle cx="342.80" cy="458.00" r="1.75" fill="none" stroke="#ff2a2a" stroke-width="0.95"/>
<circle cx="347.55" cy="458.00" r="1.75" fill="none" stroke="#ff2a2a" stroke-width="0.95"/>
<circle cx="352.30" cy="458.00" r="1.75" fill="none" stroke="#ff2a2a" stroke-width="0.95"/>
<circle cx="357.05" cy="458.00" r="1.75" fill="none" stroke="#ff2a2a" stroke-width="0.95"/>
<circle cx="361.80" cy="458.00" r="1.75" fill="none" stroke="#ff2a2a" stroke-width="0.95"/>
<polyline points="376.48,457.10 381.23,457.10 385.99,457.10 390.74,457.10 395.49,457.10 400.25,457.10 405.00,457.10 409.80,457.10 414.50,458.50 419.30,460.30 424.00,465.10 428.80,478.50 433.50,488.00 438.30,473.00 443.00,464.70 447.80,457.10 452.60,445.20 457.30,443.70 462.10,450.80 466.80,455.00 471.60,456.20 476.30,456.40 481.05,456.80 485.81,456.80 490.56,456.80 495.31,456.80 500.07,456.80 504.82,456.80 509.57,456.80" fill="none" stroke="#3a3a3a" stroke-width="0.9" stroke-dasharray="2.2,1.3,0.8,1.3"/>
<rect x="374.88" y="455.50" width="3.2" height="3.2" fill="none" stroke="#3a3a3a" stroke-width="0.85"/>
<rect x="379.63" y="455.50" width="3.2" height="3.2" fill="none" stroke="#3a3a3a" stroke-width="0.85"/>
<rect x="384.39" y="455.50" width="3.2" height="3.2" fill="none" stroke="#3a3a3a" stroke-width="0.85"/>
<rect x="389.14" y="455.50" width="3.2" height="3.2" fill="none" stroke="#3a3a3a" stroke-width="0.85"/>
<rect x="393.89" y="455.50" width="3.2" height="3.2" fill="none" stroke="#3a3a3a" stroke-width="0.85"/>
<rect x="398.65" y="455.50" width="3.2" height="3.2" fill="none" stroke="#3a3a3a" stroke-width="0.85"/>
<rect x="403.40" y="455.50" width="3.2" height="3.2" fill="none" stroke="#3a3a3a" stroke-width="0.85"/>
<rect x="408.20" y="455.50" width="3.2" height="3.2" fill="none" stroke="#3a3a3a" stroke-width="0.85"/>
<rect x="412.90" y="456.90" width="3.2" height="3.2" fill="none" stroke="#3a3a3a" stroke-width="0.85"/>
<rect x="417.70" y="458.70" width="3.2" height="3.2" fill="none" stroke="#3a3a3a" stroke-width="0.85"/>
<rect x="422.40" y="463.50" width="3.2" height="3.2" fill="none" stroke="#3a3a3a" stroke-width="0.85"/>
<rect x="427.20" y="476.90" width="3.2" height="3.2" fill="none" stroke="#3a3a3a" stroke-width="0.85"/>
<rect x="431.90" y="486.40" width="3.2" height="3.2" fill="none" stroke="#3a3a3a" stroke-width="0.85"/>
<rect x="436.70" y="471.40" width="3.2" height="3.2" fill="none" stroke="#3a3a3a" stroke-width="0.85"/>
<rect x="441.40" y="463.10" width="3.2" height="3.2" fill="none" stroke="#3a3a3a" stroke-width="0.85"/>
<rect x="446.20" y="455.50" width="3.2" height="3.2" fill="none" stroke="#3a3a3a" stroke-width="0.85"/>
<rect x="451.00" y="443.60" width="3.2" height="3.2" fill="none" stroke="#3a3a3a" stroke-width="0.85"/>
<rect x="455.70" y="442.10" width="3.2" height="3.2" fill="none" stroke="#3a3a3a" stroke-width="0.85"/>
<rect x="460.50" y="449.20" width="3.2" height="3.2" fill="none" stroke="#3a3a3a" stroke-width="0.85"/>
<rect x="465.20" y="453.40" width="3.2" height="3.2" fill="none" stroke="#3a3a3a" stroke-width="0.85"/>
<rect x="470.00" y="454.60" width="3.2" height="3.2" fill="none" stroke="#3a3a3a" stroke-width="0.85"/>
<rect x="474.70" y="454.80" width="3.2" height="3.2" fill="none" stroke="#3a3a3a" stroke-width="0.85"/>
<rect x="479.45" y="455.20" width="3.2" height="3.2" fill="none" stroke="#3a3a3a" stroke-width="0.85"/>
<rect x="484.21" y="455.20" width="3.2" height="3.2" fill="none" stroke="#3a3a3a" stroke-width="0.85"/>
<rect x="488.96" y="455.20" width="3.2" height="3.2" fill="none" stroke="#3a3a3a" stroke-width="0.85"/>
<rect x="493.71" y="455.20" width="3.2" height="3.2" fill="none" stroke="#3a3a3a" stroke-width="0.85"/>
<rect x="498.47" y="455.20" width="3.2" height="3.2" fill="none" stroke="#3a3a3a" stroke-width="0.85"/>
<rect x="503.22" y="455.20" width="3.2" height="3.2" fill="none" stroke="#3a3a3a" stroke-width="0.85"/>
<rect x="507.97" y="455.20" width="3.2" height="3.2" fill="none" stroke="#3a3a3a" stroke-width="0.85"/>
<polyline points="376.48,457.30 381.23,457.30 385.99,457.30 390.74,457.30 395.49,457.30 400.25,457.30 405.00,457.30 409.80,457.60 414.50,455.90 419.30,454.70 424.00,449.30 428.80,440.10 433.50,447.80 438.30,458.30 443.00,464.70 447.80,471.00 452.60,483.30 457.30,483.70 462.10,467.10 466.80,460.90 471.60,458.50 476.30,458.30 481.05,458.00 485.81,458.00 490.56,458.00 495.31,458.00 500.07,458.00 504.82,458.00 509.57,458.00" fill="none" stroke="#ff6a6a" stroke-width="0.75"/>
<circle cx="376.48" cy="457.30" r="1.75" fill="none" stroke="#ff2a2a" stroke-width="0.95"/>
<circle cx="381.23" cy="457.30" r="1.75" fill="none" stroke="#ff2a2a" stroke-width="0.95"/>
<circle cx="385.99" cy="457.30" r="1.75" fill="none" stroke="#ff2a2a" stroke-width="0.95"/>
<circle cx="390.74" cy="457.30" r="1.75" fill="none" stroke="#ff2a2a" stroke-width="0.95"/>
<circle cx="395.49" cy="457.30" r="1.75" fill="none" stroke="#ff2a2a" stroke-width="0.95"/>
<circle cx="400.25" cy="457.30" r="1.75" fill="none" stroke="#ff2a2a" stroke-width="0.95"/>
<circle cx="405.00" cy="457.30" r="1.75" fill="none" stroke="#ff2a2a" stroke-width="0.95"/>
<circle cx="409.80" cy="457.60" r="1.75" fill="none" stroke="#ff2a2a" stroke-width="0.95"/>
<circle cx="414.50" cy="455.90" r="1.75" fill="none" stroke="#ff2a2a" stroke-width="0.95"/>
<circle cx="419.30" cy="454.70" r="1.75" fill="none" stroke="#ff2a2a" stroke-width="0.95"/>
<circle cx="424.00" cy="449.30" r="1.75" fill="none" stroke="#ff2a2a" stroke-width="0.95"/>
<circle cx="428.80" cy="440.10" r="1.75" fill="none" stroke="#ff2a2a" stroke-width="0.95"/>
<circle cx="433.50" cy="447.80" r="1.75" fill="none" stroke="#ff2a2a" stroke-width="0.95"/>
<circle cx="438.30" cy="458.30" r="1.75" fill="none" stroke="#ff2a2a" stroke-width="0.95"/>
<circle cx="443.00" cy="464.70" r="1.75" fill="none" stroke="#ff2a2a" stroke-width="0.95"/>
<circle cx="447.80" cy="471.00" r="1.75" fill="none" stroke="#ff2a2a" stroke-width="0.95"/>
<circle cx="452.60" cy="483.30" r="1.75" fill="none" stroke="#ff2a2a" stroke-width="0.95"/>
<circle cx="457.30" cy="483.70" r="1.75" fill="none" stroke="#ff2a2a" stroke-width="0.95"/>
<circle cx="462.10" cy="467.10" r="1.75" fill="none" stroke="#ff2a2a" stroke-width="0.95"/>
<circle cx="466.80" cy="460.90" r="1.75" fill="none" stroke="#ff2a2a" stroke-width="0.95"/>
<circle cx="471.60" cy="458.50" r="1.75" fill="none" stroke="#ff2a2a" stroke-width="0.95"/>
<circle cx="476.30" cy="458.30" r="1.75" fill="none" stroke="#ff2a2a" stroke-width="0.95"/>
<circle cx="481.05" cy="458.00" r="1.75" fill="none" stroke="#ff2a2a" stroke-width="0.95"/>
<circle cx="485.81" cy="458.00" r="1.75" fill="none" stroke="#ff2a2a" stroke-width="0.95"/>
<circle cx="490.56" cy="458.00" r="1.75" fill="none" stroke="#ff2a2a" stroke-width="0.95"/>
<circle cx="495.31" cy="458.00" r="1.75" fill="none" stroke="#ff2a2a" stroke-width="0.95"/>
<circle cx="500.07" cy="458.00" r="1.75" fill="none" stroke="#ff2a2a" stroke-width="0.95"/>
<circle cx="504.82" cy="458.00" r="1.75" fill="none" stroke="#ff2a2a" stroke-width="0.95"/>
<circle cx="509.57" cy="458.00" r="1.75" fill="none" stroke="#ff2a2a" stroke-width="0.95"/>
<polyline points="523.19,457.50 527.96,457.50 532.73,457.50 537.51,457.50 542.28,457.50 547.05,457.50 551.83,457.50 556.60,457.50 561.60,457.50 566.50,458.00 571.20,459.60 575.80,462.90 580.70,462.90 585.40,454.20 590.00,450.10 595.00,447.60 599.70,445.10 604.50,448.40 609.20,453.40 613.90,455.30 618.70,456.40 623.50,456.90 628.20,456.90 632.97,457.00 637.75,457.00 642.52,457.00 647.29,457.00 652.07,457.00 656.84,457.00" fill="none" stroke="#3a3a3a" stroke-width="0.9" stroke-dasharray="2.2,1.3,0.8,1.3"/>
<rect x="521.59" y="455.90" width="3.2" height="3.2" fill="none" stroke="#3a3a3a" stroke-width="0.85"/>
<rect x="526.36" y="455.90" width="3.2" height="3.2" fill="none" stroke="#3a3a3a" stroke-width="0.85"/>
<rect x="531.13" y="455.90" width="3.2" height="3.2" fill="none" stroke="#3a3a3a" stroke-width="0.85"/>
<rect x="535.91" y="455.90" width="3.2" height="3.2" fill="none" stroke="#3a3a3a" stroke-width="0.85"/>
<rect x="540.68" y="455.90" width="3.2" height="3.2" fill="none" stroke="#3a3a3a" stroke-width="0.85"/>
<rect x="545.45" y="455.90" width="3.2" height="3.2" fill="none" stroke="#3a3a3a" stroke-width="0.85"/>
<rect x="550.23" y="455.90" width="3.2" height="3.2" fill="none" stroke="#3a3a3a" stroke-width="0.85"/>
<rect x="555.00" y="455.90" width="3.2" height="3.2" fill="none" stroke="#3a3a3a" stroke-width="0.85"/>
<rect x="560.00" y="455.90" width="3.2" height="3.2" fill="none" stroke="#3a3a3a" stroke-width="0.85"/>
<rect x="564.90" y="456.40" width="3.2" height="3.2" fill="none" stroke="#3a3a3a" stroke-width="0.85"/>
<rect x="569.60" y="458.00" width="3.2" height="3.2" fill="none" stroke="#3a3a3a" stroke-width="0.85"/>
<rect x="574.20" y="461.30" width="3.2" height="3.2" fill="none" stroke="#3a3a3a" stroke-width="0.85"/>
<rect x="579.10" y="461.30" width="3.2" height="3.2" fill="none" stroke="#3a3a3a" stroke-width="0.85"/>
<rect x="583.80" y="452.60" width="3.2" height="3.2" fill="none" stroke="#3a3a3a" stroke-width="0.85"/>
<rect x="588.40" y="448.50" width="3.2" height="3.2" fill="none" stroke="#3a3a3a" stroke-width="0.85"/>
<rect x="593.40" y="446.00" width="3.2" height="3.2" fill="none" stroke="#3a3a3a" stroke-width="0.85"/>
<rect x="598.10" y="443.50" width="3.2" height="3.2" fill="none" stroke="#3a3a3a" stroke-width="0.85"/>
<rect x="602.90" y="446.80" width="3.2" height="3.2" fill="none" stroke="#3a3a3a" stroke-width="0.85"/>
<rect x="607.60" y="451.80" width="3.2" height="3.2" fill="none" stroke="#3a3a3a" stroke-width="0.85"/>
<rect x="612.30" y="453.70" width="3.2" height="3.2" fill="none" stroke="#3a3a3a" stroke-width="0.85"/>
<rect x="617.10" y="454.80" width="3.2" height="3.2" fill="none" stroke="#3a3a3a" stroke-width="0.85"/>
<rect x="621.90" y="455.30" width="3.2" height="3.2" fill="none" stroke="#3a3a3a" stroke-width="0.85"/>
<rect x="626.60" y="455.30" width="3.2" height="3.2" fill="none" stroke="#3a3a3a" stroke-width="0.85"/>
<rect x="631.37" y="455.40" width="3.2" height="3.2" fill="none" stroke="#3a3a3a" stroke-width="0.85"/>
<rect x="636.15" y="455.40" width="3.2" height="3.2" fill="none" stroke="#3a3a3a" stroke-width="0.85"/>
<rect x="640.92" y="455.40" width="3.2" height="3.2" fill="none" stroke="#3a3a3a" stroke-width="0.85"/>
<rect x="645.69" y="455.40" width="3.2" height="3.2" fill="none" stroke="#3a3a3a" stroke-width="0.85"/>
<rect x="650.47" y="455.40" width="3.2" height="3.2" fill="none" stroke="#3a3a3a" stroke-width="0.85"/>
<rect x="655.24" y="455.40" width="3.2" height="3.2" fill="none" stroke="#3a3a3a" stroke-width="0.85"/>
<polyline points="523.19,457.00 527.96,457.00 532.73,457.00 537.51,457.00 542.28,457.00 547.05,457.00 551.83,457.00 556.60,456.90 561.60,456.90 566.50,455.30 571.20,452.50 575.80,447.00 580.70,446.00 585.40,447.90 590.00,450.30 595.00,453.10 599.70,460.70 604.50,464.60 609.20,460.40 613.90,458.00 618.70,457.50 623.50,457.50 628.20,457.50 632.97,457.50 637.75,457.50 642.52,457.50 647.29,457.50 652.07,457.50 656.84,457.50" fill="none" stroke="#ff6a6a" stroke-width="0.75"/>
<circle cx="523.19" cy="457.00" r="1.75" fill="none" stroke="#ff2a2a" stroke-width="0.95"/>
<circle cx="527.96" cy="457.00" r="1.75" fill="none" stroke="#ff2a2a" stroke-width="0.95"/>
<circle cx="532.73" cy="457.00" r="1.75" fill="none" stroke="#ff2a2a" stroke-width="0.95"/>
<circle cx="537.51" cy="457.00" r="1.75" fill="none" stroke="#ff2a2a" stroke-width="0.95"/>
<circle cx="542.28" cy="457.00" r="1.75" fill="none" stroke="#ff2a2a" stroke-width="0.95"/>
<circle cx="547.05" cy="457.00" r="1.75" fill="none" stroke="#ff2a2a" stroke-width="0.95"/>
<circle cx="551.83" cy="457.00" r="1.75" fill="none" stroke="#ff2a2a" stroke-width="0.95"/>
<circle cx="556.60" cy="456.90" r="1.75" fill="none" stroke="#ff2a2a" stroke-width="0.95"/>
<circle cx="561.60" cy="456.90" r="1.75" fill="none" stroke="#ff2a2a" stroke-width="0.95"/>
<circle cx="566.50" cy="455.30" r="1.75" fill="none" stroke="#ff2a2a" stroke-width="0.95"/>
<circle cx="571.20" cy="452.50" r="1.75" fill="none" stroke="#ff2a2a" stroke-width="0.95"/>
<circle cx="575.80" cy="447.00" r="1.75" fill="none" stroke="#ff2a2a" stroke-width="0.95"/>
<circle cx="580.70" cy="446.00" r="1.75" fill="none" stroke="#ff2a2a" stroke-width="0.95"/>
<circle cx="585.40" cy="447.90" r="1.75" fill="none" stroke="#ff2a2a" stroke-width="0.95"/>
<circle cx="590.00" cy="450.30" r="1.75" fill="none" stroke="#ff2a2a" stroke-width="0.95"/>
<circle cx="595.00" cy="453.10" r="1.75" fill="none" stroke="#ff2a2a" stroke-width="0.95"/>
<circle cx="599.70" cy="460.70" r="1.75" fill="none" stroke="#ff2a2a" stroke-width="0.95"/>
<circle cx="604.50" cy="464.60" r="1.75" fill="none" stroke="#ff2a2a" stroke-width="0.95"/>
<circle cx="609.20" cy="460.40" r="1.75" fill="none" stroke="#ff2a2a" stroke-width="0.95"/>
<circle cx="613.90" cy="458.00" r="1.75" fill="none" stroke="#ff2a2a" stroke-width="0.95"/>
<circle cx="618.70" cy="457.50" r="1.75" fill="none" stroke="#ff2a2a" stroke-width="0.95"/>
<circle cx="623.50" cy="457.50" r="1.75" fill="none" stroke="#ff2a2a" stroke-width="0.95"/>
<circle cx="628.20" cy="457.50" r="1.75" fill="none" stroke="#ff2a2a" stroke-width="0.95"/>
<circle cx="632.97" cy="457.50" r="1.75" fill="none" stroke="#ff2a2a" stroke-width="0.95"/>
<circle cx="637.75" cy="457.50" r="1.75" fill="none" stroke="#ff2a2a" stroke-width="0.95"/>
<circle cx="642.52" cy="457.50" r="1.75" fill="none" stroke="#ff2a2a" stroke-width="0.95"/>
<circle cx="647.29" cy="457.50" r="1.75" fill="none" stroke="#ff2a2a" stroke-width="0.95"/>
<circle cx="652.07" cy="457.50" r="1.75" fill="none" stroke="#ff2a2a" stroke-width="0.95"/>
<circle cx="656.84" cy="457.50" r="1.75" fill="none" stroke="#ff2a2a" stroke-width="0.95"/>
<text x="40.41" y="42.76" font-family="'Liberation Sans', sans-serif" font-size="15" letter-spacing="-0.80">0.1</text>
<text x="47.04" y="74.16" font-family="'Liberation Sans', sans-serif" font-size="15">0</text>
<text x="36.23" y="109.76" font-family="'Liberation Sans', sans-serif" font-size="15" letter-spacing="-0.80">-0.1</text>
<text x="40.31" y="164.26" font-family="'Liberation Sans', sans-serif" font-size="15" letter-spacing="-0.80">0.1</text>
<text x="46.74" y="195.46" font-family="'Liberation Sans', sans-serif" font-size="15">0</text>
<text x="36.43" y="230.96" font-family="'Liberation Sans', sans-serif" font-size="15" letter-spacing="-0.80">-0.1</text>
<text x="55.02" y="266.06" font-family="'Liberation Sans', sans-serif" font-size="15" letter-spacing="-0.60">-4</text>
<text x="90.28" y="266.14" font-family="'Liberation Sans', sans-serif" font-size="15" letter-spacing="-0.60">-2</text>
<text x="127.13" y="266.06" font-family="'Liberation Sans', sans-serif" font-size="15" letter-spacing="-0.60">0</text>
<text x="162.83" y="266.14" font-family="'Liberation Sans', sans-serif" font-size="15" letter-spacing="-0.60">2</text>
<text x="197.28" y="266.06" font-family="'Liberation Sans', sans-serif" font-size="15" letter-spacing="-0.60">4</text>
<text x="205.92" y="266.06" font-family="'Liberation Sans', sans-serif" font-size="15" letter-spacing="-0.60">-4</text>
<text x="242.68" y="266.14" font-family="'Liberation Sans', sans-serif" font-size="15" letter-spacing="-0.60">-2</text>
<text x="279.23" y="266.06" font-family="'Liberation Sans', sans-serif" font-size="15" letter-spacing="-0.60">0</text>
<text x="314.53" y="266.14" font-family="'Liberation Sans', sans-serif" font-size="15" letter-spacing="-0.60">2</text>
<text x="349.98" y="266.06" font-family="'Liberation Sans', sans-serif" font-size="15" letter-spacing="-0.60">4</text>
<text x="357.22" y="266.06" font-family="'Liberation Sans', sans-serif" font-size="15" letter-spacing="-0.60">-4</text>
<text x="393.38" y="266.14" font-family="'Liberation Sans', sans-serif" font-size="15" letter-spacing="-0.60">-2</text>
<text x="429.83" y="266.06" font-family="'Liberation Sans', sans-serif" font-size="15" letter-spacing="-0.60">0</text>
<text x="465.33" y="266.14" font-family="'Liberation Sans', sans-serif" font-size="15" letter-spacing="-0.60">2</text>
<text x="499.78" y="266.06" font-family="'Liberation Sans', sans-serif" font-size="15" letter-spacing="-0.60">4</text>
<text x="507.82" y="266.06" font-family="'Liberation Sans', sans-serif" font-size="15" letter-spacing="-0.60">-4</text>
<text x="544.28" y="266.14" font-family="'Liberation Sans', sans-serif" font-size="15" letter-spacing="-0.60">-2</text>
<text x="581.23" y="266.06" font-family="'Liberation Sans', sans-serif" font-size="15" letter-spacing="-0.60">0</text>
<text x="616.63" y="266.14" font-family="'Liberation Sans', sans-serif" font-size="15" letter-spacing="-0.60">2</text>
<text x="651.88" y="266.06" font-family="'Liberation Sans', sans-serif" font-size="15" letter-spacing="-0.60">4</text>
<text x="37.21" y="299.86" font-family="'Liberation Sans', sans-serif" font-size="15" letter-spacing="-0.80">0.1</text>
<text x="48.94" y="324.76" font-family="'Liberation Sans', sans-serif" font-size="15">0</text>
<text x="31.93" y="355.16" font-family="'Liberation Sans', sans-serif" font-size="15" letter-spacing="-0.80">-0.1</text>
<text x="29.63" y="383.16" font-family="'Liberation Sans', sans-serif" font-size="15" letter-spacing="-0.20">-0.2</text>
<text x="36.71" y="422.76" font-family="'Liberation Sans', sans-serif" font-size="15" letter-spacing="-0.80">0.1</text>
<text x="48.54" y="447.66" font-family="'Liberation Sans', sans-serif" font-size="15">0</text>
<text x="31.13" y="478.56" font-family="'Liberation Sans', sans-serif" font-size="15" letter-spacing="-0.80">-0.1</text>
<text x="28.83" y="506.16" font-family="'Liberation Sans', sans-serif" font-size="15" letter-spacing="-0.20">-0.2</text>
<text x="204.01" y="307.26" font-family="'Liberation Sans', sans-serif" font-size="15" letter-spacing="-0.80">0.1</text>
<text x="214.74" y="343.16" font-family="'Liberation Sans', sans-serif" font-size="15">0</text>
<text x="199.33" y="379.86" font-family="'Liberation Sans', sans-serif" font-size="15" letter-spacing="-0.80">-0.1</text>
<text x="205.31" y="426.46" font-family="'Liberation Sans', sans-serif" font-size="15" letter-spacing="-0.80">0.1</text>
<text x="215.84" y="462.36" font-family="'Liberation Sans', sans-serif" font-size="15">0</text>
<text x="200.03" y="498.86" font-family="'Liberation Sans', sans-serif" font-size="15" letter-spacing="-0.80">-0.1</text>
<text x="51.52" y="530.56" font-family="'Liberation Sans', sans-serif" font-size="15" letter-spacing="-0.60">-4</text>
<text x="86.68" y="530.64" font-family="'Liberation Sans', sans-serif" font-size="15" letter-spacing="-0.60">-2</text>
<text x="124.23" y="530.56" font-family="'Liberation Sans', sans-serif" font-size="15" letter-spacing="-0.60">0</text>
<text x="159.33" y="530.64" font-family="'Liberation Sans', sans-serif" font-size="15" letter-spacing="-0.60">2</text>
<text x="193.78" y="530.56" font-family="'Liberation Sans', sans-serif" font-size="15" letter-spacing="-0.60">4</text>
<text x="215.52" y="528.26" font-family="'Liberation Sans', sans-serif" font-size="15" letter-spacing="-0.60">-4</text>
<text x="250.68" y="528.34" font-family="'Liberation Sans', sans-serif" font-size="15" letter-spacing="-0.60">-2</text>
<text x="287.83" y="528.26" font-family="'Liberation Sans', sans-serif" font-size="15" letter-spacing="-0.60">0</text>
<text x="323.93" y="528.34" font-family="'Liberation Sans', sans-serif" font-size="15" letter-spacing="-0.60">2</text>
<text x="357.98" y="528.26" font-family="'Liberation Sans', sans-serif" font-size="15" letter-spacing="-0.60">4</text>
<text x="371.32" y="528.26" font-family="'Liberation Sans', sans-serif" font-size="15" letter-spacing="-0.60">-4</text>
<text x="404.28" y="528.34" font-family="'Liberation Sans', sans-serif" font-size="15" letter-spacing="-0.60">-2</text>
<text x="439.23" y="528.26" font-family="'Liberation Sans', sans-serif" font-size="15" letter-spacing="-0.60">0</text>
<text x="472.43" y="528.34" font-family="'Liberation Sans', sans-serif" font-size="15" letter-spacing="-0.60">2</text>
<text x="505.58" y="528.26" font-family="'Liberation Sans', sans-serif" font-size="15" letter-spacing="-0.60">4</text>
<text x="519.32" y="528.26" font-family="'Liberation Sans', sans-serif" font-size="15" letter-spacing="-0.60">-4</text>
<text x="552.68" y="528.34" font-family="'Liberation Sans', sans-serif" font-size="15" letter-spacing="-0.60">-2</text>
<text x="587.53" y="528.26" font-family="'Liberation Sans', sans-serif" font-size="15" letter-spacing="-0.60">0</text>
<text x="620.73" y="528.34" font-family="'Liberation Sans', sans-serif" font-size="15" letter-spacing="-0.60">2</text>
<text x="653.68" y="528.26" font-family="'Liberation Sans', sans-serif" font-size="15" letter-spacing="-0.60">4</text>
<text x="65.28" y="38.80" font-family="'Liberation Sans', sans-serif" font-size="28">Y</text>
<text x="219.61" y="37.60" font-family="'Liberation Sans', sans-serif" font-size="28" letter-spacing="-2.37">Zn</text>
<text x="371.35" y="37.60" font-family="'Liberation Sans', sans-serif" font-size="28" letter-spacing="-1.67">Al</text>
<text x="516.90" y="37.60" font-family="'Liberation Sans', sans-serif" font-size="28" letter-spacing="-1.41">Li</text>
<text x="65.48" y="307.40" font-family="'Liberation Sans', sans-serif" font-size="28">Y</text>
<text x="231.51" y="306.70" font-family="'Liberation Sans', sans-serif" font-size="28" letter-spacing="-3.17">Zn</text>
<text x="380.25" y="306.70" font-family="'Liberation Sans', sans-serif" font-size="28" letter-spacing="-2.37">Al</text>
<text x="522.90" y="306.70" font-family="'Liberation Sans', sans-serif" font-size="28" letter-spacing="-1.71">Li</text>
<text x="64.99" y="114.70" font-family="'Liberation Serif', serif" font-size="17.8" letter-spacing="-0.15">Edge</text>
<text x="64.51" y="233.40" font-family="'Liberation Serif', serif" font-size="17.8" letter-spacing="-0.18">Screw</text>
<text x="65.99" y="381.00" font-family="'Liberation Serif', serif" font-size="17.8" letter-spacing="-0.25">Edge</text>
<text x="65.21" y="499.40" font-family="'Liberation Serif', serif" font-size="17.8" letter-spacing="-0.35">Screw</text>
<text x="0.43" y="24.42" font-family="'Liberation Serif', serif" font-size="29" letter-spacing="-0.57">(a)</text>
<text x="1.43" y="281.52" font-family="'Liberation Serif', serif" font-size="29" letter-spacing="-0.73">(b)</text>
<text transform="translate(28.60,255.85) rotate(-90)" font-family="'Liberation Sans', sans-serif" font-size="15.5">The interaction energy (eV/atom)</text>
<text transform="translate(21.60,523.84) rotate(-90)" font-family="'Liberation Sans', sans-serif" font-size="15.3">Total interaction energy (eV/atom)</text>
<text x="345.90" y="544.40" font-family="'Liberation Sans', sans-serif" font-size="17.5" letter-spacing="-0.18">x (nm)</text>
<line x1="548.8" y1="26.3" x2="567" y2="26.3" stroke="#3a3a3a" stroke-width="1.4" stroke-dasharray="3,1.6,1,1.6"/>
<rect x="556.20" y="24.70" width="3.2" height="3.2" fill="none" stroke="#3a3a3a" stroke-width="0.85"/>
<text x="568.86" y="30.70" font-family="'Liberation Sans', sans-serif" font-size="14.5" letter-spacing="-0.06">Chemical</text>
<line x1="549.5" y1="42.0" x2="567" y2="42.0" stroke="#ff4a4a" stroke-width="1.3" stroke-dasharray="1.2,1"/>
<circle cx="558.70" cy="42.00" r="1.75" fill="none" stroke="#ff2a2a" stroke-width="0.95"/>
<text x="571.14" y="46.00" font-family="'Liberation Sans', sans-serif" font-size="14.5" letter-spacing="-0.22">Size-up</text>
<line x1="549.2" y1="94.0" x2="567.6" y2="94.0" stroke="#3a3aff" stroke-width="1.9" stroke-dasharray="2.6,1.5"/>
<path d="M558.40,92.05L560.55,95.95L556.25,95.95Z" fill="none" stroke="#2a2aff" stroke-width="0.95"/>
<text x="570.44" y="98.10" font-family="'Liberation Sans', sans-serif" font-size="14.5" letter-spacing="-0.02">Size-down</text>
<line x1="549.2" y1="113.4" x2="567.6" y2="113.4" stroke="#ff3aff" stroke-width="1.7" stroke-dasharray="2.6,1.5"/>
<path d="M558.40,115.35L560.55,111.45L556.25,111.45Z" fill="none" stroke="#ff1aff" stroke-width="0.95"/>
<text x="569.91" y="117.00" font-family="'Liberation Sans', sans-serif" font-size="14.5" letter-spacing="-0.10">Distortion</text>
<line x1="558.4" y1="300.4" x2="581" y2="300.4" stroke="#3a3a3a" stroke-width="1.4" stroke-dasharray="3,1.6,1,1.6"/>
<rect x="568.20" y="298.80" width="3.2" height="3.2" fill="none" stroke="#3a3a3a" stroke-width="0.85"/>
<text x="584.47" y="302.60" font-family="'Liberation Sans', sans-serif" font-size="14.5" letter-spacing="-0.39">Total-up</text>
<line x1="558.4" y1="311.8" x2="581" y2="311.8" stroke="#ff4a4a" stroke-width="1.3" stroke-dasharray="1.2,1"/>
<circle cx="569.80" cy="311.80" r="1.75" fill="none" stroke="#ff2a2a" stroke-width="0.95"/>
<text x="584.47" y="317.70" font-family="'Liberation Sans', sans-serif" font-size="14.5">Total-down</text>
</svg>
</body></html>
